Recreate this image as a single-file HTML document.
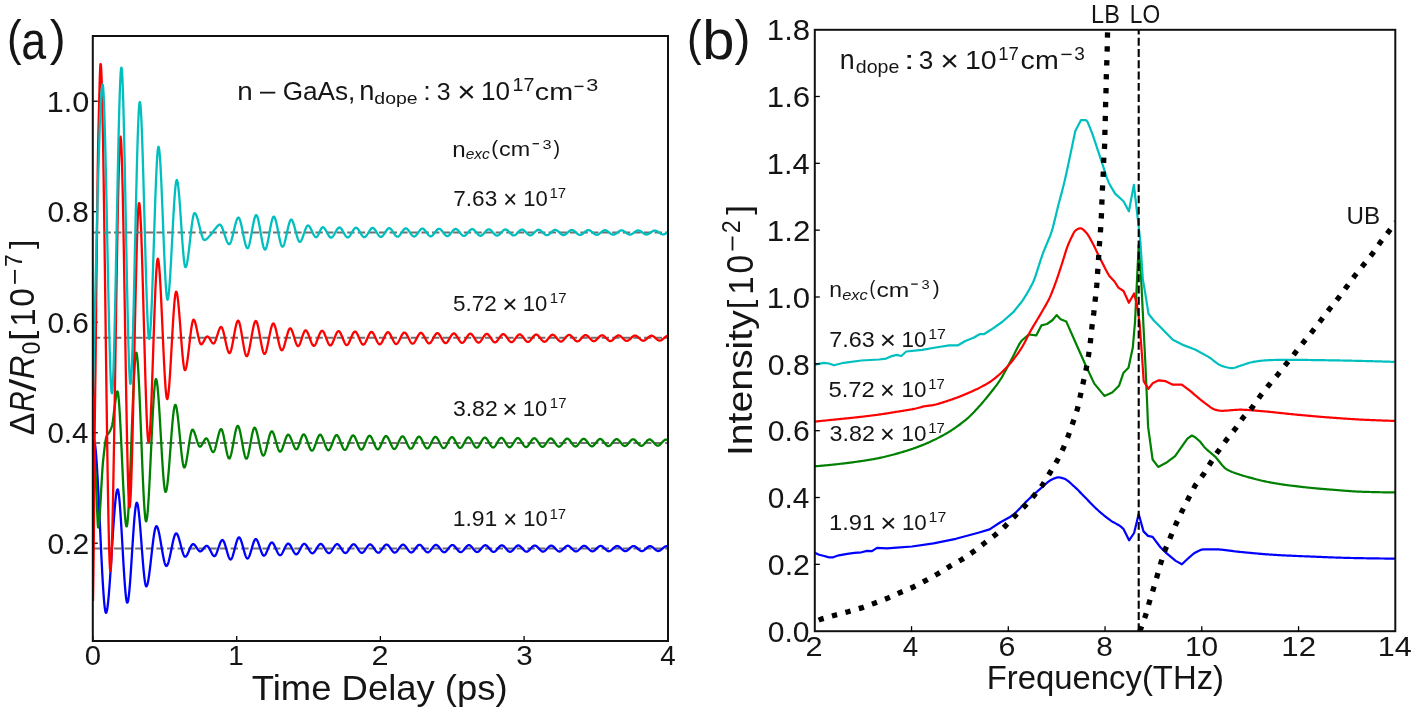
<!DOCTYPE html>
<html><head><meta charset="utf-8"><style>
html,body{margin:0;padding:0;background:#fff;}
svg{display:block;will-change:transform;}
text{font-family:"Liberation Sans",sans-serif;}
</style></head><body>
<svg width="1416" height="713" viewBox="0 0 1416 713">
<rect width="1416" height="713" fill="#fff"/>
<clipPath id="ca"><rect x="92.8" y="36.0" width="575.2" height="605.0"/></clipPath>
<line x1="92.8" y1="101.2" x2="97.8" y2="101.2" stroke="#000" stroke-width="1.3"/>
<text x="46.68" y="111.91" font-size="28.95" textLength="42.52" lengthAdjust="spacingAndGlyphs" fill="#151515">1.0</text>
<line x1="92.8" y1="211.7" x2="97.8" y2="211.7" stroke="#000" stroke-width="1.3"/>
<text x="47.44" y="222.41" font-size="28.95" textLength="41.45" lengthAdjust="spacingAndGlyphs" fill="#151515">0.8</text>
<line x1="92.8" y1="322.2" x2="97.8" y2="322.2" stroke="#000" stroke-width="1.3"/>
<text x="47.44" y="332.91" font-size="28.95" textLength="41.48" lengthAdjust="spacingAndGlyphs" fill="#151515">0.6</text>
<line x1="92.8" y1="432.7" x2="97.8" y2="432.7" stroke="#000" stroke-width="1.3"/>
<text x="47.45" y="443.41" font-size="28.95" textLength="41.01" lengthAdjust="spacingAndGlyphs" fill="#151515">0.4</text>
<line x1="92.8" y1="543.2" x2="97.8" y2="543.2" stroke="#000" stroke-width="1.3"/>
<text x="47.43" y="553.91" font-size="28.95" textLength="41.67" lengthAdjust="spacingAndGlyphs" fill="#151515">0.2</text>
<line x1="92.9" y1="641.0" x2="92.9" y2="636.0" stroke="#000" stroke-width="1.3"/>
<text x="84.86" y="664.92" font-size="27.97" textLength="16.29" lengthAdjust="spacingAndGlyphs" fill="#151515">0</text>
<line x1="236.7" y1="641.0" x2="236.7" y2="636.0" stroke="#000" stroke-width="1.3"/>
<text x="228.28" y="664.92" font-size="27.97" textLength="15.48" lengthAdjust="spacingAndGlyphs" fill="#151515">1</text>
<line x1="380.4" y1="641.0" x2="380.4" y2="636.0" stroke="#000" stroke-width="1.3"/>
<text x="371.46" y="664.92" font-size="27.97" textLength="17.07" lengthAdjust="spacingAndGlyphs" fill="#151515">2</text>
<line x1="524.1" y1="641.0" x2="524.1" y2="636.0" stroke="#000" stroke-width="1.3"/>
<text x="516.28" y="664.92" font-size="27.97" textLength="16.43" lengthAdjust="spacingAndGlyphs" fill="#151515">3</text>
<line x1="667.9" y1="641.0" x2="667.9" y2="636.0" stroke="#000" stroke-width="1.3"/>
<text x="660.36" y="664.92" font-size="27.97" textLength="15.45" lengthAdjust="spacingAndGlyphs" fill="#151515">4</text>
<line x1="92.8" y1="548.4" x2="668.0" y2="548.4" stroke="#707070" stroke-width="2" stroke-dasharray="7.4 3.2" clip-path="url(#ca)"/>
<path d="M93.00,441.50 L93.25,441.21 L93.50,441.06 L93.75,441.01 L94.00,441.00 L94.25,441.22 L94.50,441.87 L94.75,442.93 L95.00,444.38 L95.25,446.20 L95.50,448.38 L95.75,450.90 L96.00,453.73 L96.25,456.85 L96.50,460.26 L96.75,463.93 L97.00,467.84 L97.25,471.98 L97.50,476.32 L97.75,480.85 L98.00,485.54 L98.25,490.38 L98.50,495.36 L98.75,500.44 L99.00,505.62 L99.25,510.88 L99.50,516.19 L99.75,521.53 L100.00,526.90 L100.25,532.27 L100.50,537.61 L100.75,542.92 L101.00,548.18 L101.25,553.36 L101.50,558.44 L101.75,563.42 L102.00,568.26 L102.25,572.95 L102.50,577.48 L102.75,581.82 L103.00,585.96 L103.25,589.87 L103.50,593.54 L103.75,596.95 L104.00,600.07 L104.25,602.90 L104.50,605.42 L104.75,607.60 L105.00,609.42 L105.25,610.87 L105.50,611.93 L105.75,612.58 L106.00,612.80 L106.25,612.63 L106.50,612.13 L106.75,611.32 L107.00,610.21 L107.25,608.81 L107.50,607.14 L107.75,605.22 L108.00,603.06 L108.25,600.67 L108.50,598.08 L108.75,595.28 L109.00,592.31 L109.25,589.17 L109.50,585.88 L109.75,582.45 L110.00,578.90 L110.25,575.24 L110.50,571.50 L110.75,567.67 L111.00,563.78 L111.25,559.85 L111.50,555.88 L111.75,551.90 L112.00,547.91 L112.25,543.93 L112.50,539.98 L112.75,536.08 L113.00,532.22 L113.25,528.44 L113.50,524.75 L113.75,521.16 L114.00,517.68 L114.25,514.33 L114.50,511.13 L114.75,508.09 L115.00,505.22 L115.25,502.54 L115.50,500.07 L115.75,497.81 L116.00,495.80 L116.25,494.03 L116.50,492.52 L116.75,491.29 L117.00,490.36 L117.25,489.73 L117.50,489.43 L117.75,489.48 L118.00,489.96 L118.25,490.86 L118.50,492.15 L118.75,493.80 L119.00,495.80 L119.25,498.12 L119.50,500.74 L119.75,503.63 L120.00,506.78 L120.25,510.15 L120.50,513.73 L120.75,517.48 L121.00,521.40 L121.25,525.45 L121.50,529.62 L121.75,533.87 L122.00,538.19 L122.25,542.55 L122.50,546.93 L122.75,551.30 L123.00,555.65 L123.25,559.94 L123.50,564.16 L123.75,568.28 L124.00,572.28 L124.25,576.14 L124.50,579.83 L124.75,583.33 L125.00,586.61 L125.25,589.66 L125.50,592.44 L125.75,594.95 L126.00,597.14 L126.25,599.00 L126.50,600.52 L126.75,601.65 L127.00,602.38 L127.25,602.69 L127.50,602.57 L127.75,602.05 L128.00,601.15 L128.25,599.90 L128.50,598.32 L128.75,596.42 L129.00,594.24 L129.25,591.79 L129.50,589.10 L129.75,586.18 L130.00,583.06 L130.25,579.76 L130.50,576.31 L130.75,572.71 L131.00,569.01 L131.25,565.21 L131.50,561.35 L131.75,557.43 L132.00,553.49 L132.25,549.54 L132.50,545.62 L132.75,541.73 L133.00,537.90 L133.25,534.16 L133.50,530.52 L133.75,527.00 L134.00,523.64 L134.25,520.45 L134.50,517.45 L134.75,514.66 L135.00,512.11 L135.25,509.82 L135.50,507.81 L135.75,506.09 L136.00,504.71 L136.25,503.67 L136.50,502.99 L136.75,502.71 L137.00,502.81 L137.25,503.25 L137.50,504.00 L137.75,505.04 L138.00,506.37 L138.25,507.95 L138.50,509.78 L138.75,511.83 L139.00,514.09 L139.25,516.53 L139.50,519.14 L139.75,521.90 L140.00,524.79 L140.25,527.80 L140.50,530.90 L140.75,534.08 L141.00,537.31 L141.25,540.59 L141.50,543.89 L141.75,547.19 L142.00,550.48 L142.25,553.73 L142.50,556.94 L142.75,560.07 L143.00,563.12 L143.25,566.06 L143.50,568.87 L143.75,571.55 L144.00,574.06 L144.25,576.39 L144.50,578.52 L144.75,580.44 L145.00,582.13 L145.25,583.56 L145.50,584.72 L145.75,585.59 L146.00,586.15 L146.25,586.39 L146.50,586.33 L146.75,586.05 L147.00,585.57 L147.25,584.90 L147.50,584.05 L147.75,583.03 L148.00,581.86 L148.25,580.53 L148.50,579.08 L148.75,577.49 L149.00,575.79 L149.25,573.99 L149.50,572.10 L149.75,570.13 L150.00,568.08 L150.25,565.98 L150.50,563.83 L150.75,561.64 L151.00,559.42 L151.25,557.19 L151.50,554.96 L151.75,552.73 L152.00,550.52 L152.25,548.34 L152.50,546.20 L152.75,544.10 L153.00,542.07 L153.25,540.11 L153.50,538.24 L153.75,536.46 L154.00,534.78 L154.25,533.22 L154.50,531.79 L154.75,530.50 L155.00,529.35 L155.25,528.36 L155.50,527.55 L155.75,526.92 L156.00,526.48 L156.25,526.24 L156.50,526.21 L156.75,526.34 L157.00,526.61 L157.25,527.01 L157.50,527.54 L157.75,528.18 L158.00,528.93 L158.25,529.78 L158.50,530.73 L158.75,531.76 L159.00,532.87 L159.25,534.06 L159.50,535.30 L159.75,536.61 L160.00,537.96 L160.25,539.36 L160.50,540.79 L160.75,542.24 L161.00,543.72 L161.25,545.20 L161.50,546.70 L161.75,548.19 L162.00,549.66 L162.25,551.13 L162.50,552.56 L162.75,553.96 L163.00,555.33 L163.25,556.64 L163.50,557.90 L163.75,559.10 L164.00,560.22 L164.25,561.27 L164.50,562.24 L164.75,563.11 L165.00,563.88 L165.25,564.54 L165.50,565.09 L165.75,565.52 L166.00,565.81 L166.25,565.97 L166.50,565.99 L166.75,565.88 L167.00,565.65 L167.25,565.31 L167.50,564.86 L167.75,564.31 L168.00,563.68 L168.25,562.95 L168.50,562.15 L168.75,561.28 L169.00,560.33 L169.25,559.33 L169.50,558.28 L169.75,557.18 L170.00,556.03 L170.25,554.86 L170.50,553.66 L170.75,552.43 L171.00,551.20 L171.25,549.95 L171.50,548.70 L171.75,547.46 L172.00,546.23 L172.25,545.02 L172.50,543.83 L172.75,542.68 L173.00,541.56 L173.25,540.48 L173.50,539.46 L173.75,538.49 L174.00,537.59 L174.25,536.76 L174.50,536.00 L174.75,535.33 L175.00,534.75 L175.25,534.26 L175.50,533.88 L175.75,533.60 L176.00,533.44 L176.25,533.40 L176.50,533.48 L176.75,533.65 L177.00,533.92 L177.25,534.28 L177.50,534.72 L177.75,535.24 L178.00,535.82 L178.25,536.48 L178.50,537.19 L178.75,537.95 L179.00,538.76 L179.25,539.61 L179.50,540.50 L179.75,541.42 L180.00,542.35 L180.25,543.31 L180.50,544.27 L180.75,545.24 L181.00,546.21 L181.25,547.18 L181.50,548.12 L181.75,549.05 L182.00,549.96 L182.25,550.83 L182.50,551.67 L182.75,552.46 L183.00,553.20 L183.25,553.89 L183.50,554.52 L183.75,555.08 L184.00,555.57 L184.25,555.98 L184.50,556.30 L184.75,556.53 L185.00,556.67 L185.25,556.70 L185.50,556.65 L185.75,556.53 L186.00,556.34 L186.25,556.09 L186.50,555.79 L186.75,555.44 L187.00,555.04 L187.25,554.59 L187.50,554.12 L187.75,553.61 L188.00,553.07 L188.25,552.52 L188.50,551.94 L188.75,551.35 L189.00,550.76 L189.25,550.16 L189.50,549.56 L189.75,548.98 L190.00,548.40 L190.25,547.84 L190.50,547.30 L190.75,546.78 L191.00,546.30 L191.25,545.85 L191.50,545.44 L191.75,545.08 L192.00,544.76 L192.25,544.51 L192.50,544.31 L192.75,544.17 L193.00,544.11 L193.25,544.11 L193.50,544.17 L193.75,544.27 L194.00,544.41 L194.25,544.60 L194.50,544.82 L194.75,545.07 L195.00,545.36 L195.25,545.66 L195.50,545.99 L195.75,546.34 L196.00,546.70 L196.25,547.07 L196.50,547.45 L196.75,547.83 L197.00,548.21 L197.25,548.58 L197.50,548.95 L197.75,549.30 L198.00,549.64 L198.25,549.96 L198.50,550.26 L198.75,550.53 L199.00,550.77 L199.25,550.98 L199.50,551.15 L199.75,551.28 L200.00,551.36 L200.25,551.40 L200.50,551.38 L200.75,551.32 L201.00,551.21 L201.25,551.07 L201.50,550.88 L201.75,550.67 L202.00,550.42 L202.25,550.16 L202.50,549.87 L202.75,549.57 L203.00,549.25 L203.25,548.93 L203.50,548.60 L203.75,548.27 L204.00,547.95 L204.25,547.63 L204.50,547.33 L204.75,547.04 L205.00,546.78 L205.25,546.53 L205.50,546.32 L205.75,546.13 L206.00,545.99 L206.25,545.88 L206.50,545.82 L206.75,545.80 L207.00,545.85 L207.25,545.95 L207.50,546.11 L207.75,546.32 L208.00,546.58 L208.25,546.88 L208.50,547.23 L208.75,547.60 L209.00,548.01 L209.25,548.44 L209.50,548.90 L209.75,549.37 L210.00,549.85 L210.25,550.35 L210.50,550.85 L210.75,551.35 L211.00,551.85 L211.25,552.34 L211.50,552.82 L211.75,553.28 L212.00,553.72 L212.25,554.14 L212.50,554.53 L212.75,554.88 L213.00,555.20 L213.25,555.48 L213.50,555.71 L213.75,555.89 L214.00,556.02 L214.25,556.09 L214.50,556.09 L214.75,556.01 L215.00,555.84 L215.25,555.59 L215.50,555.27 L215.75,554.88 L216.00,554.43 L216.25,553.92 L216.50,553.35 L216.75,552.75 L217.00,552.10 L217.25,551.43 L217.50,550.72 L217.75,549.99 L218.00,549.25 L218.25,548.50 L218.50,547.75 L218.75,547.00 L219.00,546.25 L219.25,545.52 L219.50,544.81 L219.75,544.13 L220.00,543.48 L220.25,542.86 L220.50,542.29 L220.75,541.77 L221.00,541.31 L221.25,540.90 L221.50,540.57 L221.75,540.30 L222.00,540.12 L222.25,540.02 L222.50,540.01 L222.75,540.10 L223.00,540.30 L223.25,540.59 L223.50,540.96 L223.75,541.41 L224.00,541.94 L224.25,542.53 L224.50,543.18 L224.75,543.89 L225.00,544.64 L225.25,545.43 L225.50,546.25 L225.75,547.10 L226.00,547.98 L226.25,548.86 L226.50,549.75 L226.75,550.64 L227.00,551.52 L227.25,552.40 L227.50,553.25 L227.75,554.07 L228.00,554.86 L228.25,555.61 L228.50,556.32 L228.75,556.97 L229.00,557.56 L229.25,558.09 L229.50,558.54 L229.75,558.91 L230.00,559.20 L230.25,559.40 L230.50,559.49 L230.75,559.48 L231.00,559.35 L231.25,559.12 L231.50,558.79 L231.75,558.37 L232.00,557.86 L232.25,557.28 L232.50,556.62 L232.75,555.90 L233.00,555.12 L233.25,554.29 L233.50,553.42 L233.75,552.51 L234.00,551.57 L234.25,550.61 L234.50,549.63 L234.75,548.65 L235.00,547.66 L235.25,546.68 L235.50,545.71 L235.75,544.76 L236.00,543.84 L236.25,542.96 L236.50,542.11 L236.75,541.31 L237.00,540.56 L237.25,539.88 L237.50,539.26 L237.75,538.72 L238.00,538.27 L238.25,537.90 L238.50,537.63 L238.75,537.46 L239.00,537.40 L239.25,537.45 L239.50,537.61 L239.75,537.86 L240.00,538.21 L240.25,538.63 L240.50,539.14 L240.75,539.71 L241.00,540.35 L241.25,541.05 L241.50,541.80 L241.75,542.60 L242.00,543.43 L242.25,544.30 L242.50,545.19 L242.75,546.10 L243.00,547.02 L243.25,547.95 L243.50,548.88 L243.75,549.80 L244.00,550.71 L244.25,551.60 L244.50,552.47 L244.75,553.30 L245.00,554.10 L245.25,554.85 L245.50,555.55 L245.75,556.19 L246.00,556.76 L246.25,557.27 L246.50,557.69 L246.75,558.04 L247.00,558.29 L247.25,558.45 L247.50,558.50 L247.75,558.45 L248.00,558.30 L248.25,558.05 L248.50,557.72 L248.75,557.31 L249.00,556.83 L249.25,556.28 L249.50,555.66 L249.75,555.00 L250.00,554.28 L250.25,553.52 L250.50,552.73 L250.75,551.91 L251.00,551.06 L251.25,550.20 L251.50,549.33 L251.75,548.45 L252.00,547.58 L252.25,546.71 L252.50,545.86 L252.75,545.03 L253.00,544.23 L253.25,543.47 L253.50,542.74 L253.75,542.07 L254.00,541.44 L254.25,540.88 L254.50,540.38 L254.75,539.95 L255.00,539.61 L255.25,539.34 L255.50,539.17 L255.75,539.10 L256.00,539.13 L256.25,539.25 L256.50,539.45 L256.75,539.73 L257.00,540.09 L257.25,540.51 L257.50,540.99 L257.75,541.52 L258.00,542.11 L258.25,542.74 L258.50,543.40 L258.75,544.10 L259.00,544.83 L259.25,545.57 L259.50,546.33 L259.75,547.09 L260.00,547.86 L260.25,548.63 L260.50,549.38 L260.75,550.12 L261.00,550.84 L261.25,551.53 L261.50,552.19 L261.75,552.81 L262.00,553.39 L262.25,553.91 L262.50,554.38 L262.75,554.79 L263.00,555.13 L263.25,555.40 L263.50,555.58 L263.75,555.68 L264.00,555.69 L264.25,555.62 L264.50,555.48 L264.75,555.27 L265.00,555.00 L265.25,554.68 L265.50,554.29 L265.75,553.87 L266.00,553.40 L266.25,552.89 L266.50,552.35 L266.75,551.79 L267.00,551.20 L267.25,550.59 L267.50,549.97 L267.75,549.35 L268.00,548.72 L268.25,548.10 L268.50,547.49 L268.75,546.88 L269.00,546.30 L269.25,545.74 L269.50,545.21 L269.75,544.71 L270.00,544.24 L270.25,543.83 L270.50,543.45 L270.75,543.14 L271.00,542.88 L271.25,542.68 L271.50,542.56 L271.75,542.50 L272.00,542.52 L272.25,542.61 L272.50,542.76 L272.75,542.96 L273.00,543.22 L273.25,543.53 L273.50,543.88 L273.75,544.27 L274.00,544.70 L274.25,545.17 L274.50,545.66 L274.75,546.17 L275.00,546.71 L275.25,547.26 L275.50,547.82 L275.75,548.39 L276.00,548.96 L276.25,549.54 L276.50,550.10 L276.75,550.66 L277.00,551.21 L277.25,551.74 L277.50,552.24 L277.75,552.72 L278.00,553.17 L278.25,553.59 L278.50,553.97 L278.75,554.30 L279.00,554.59 L279.25,554.83 L279.50,555.01 L279.75,555.13 L280.00,555.19 L280.25,555.19 L280.50,555.12 L280.75,554.99 L281.00,554.80 L281.25,554.56 L281.50,554.28 L281.75,553.95 L282.00,553.58 L282.25,553.18 L282.50,552.75 L282.75,552.29 L283.00,551.80 L283.25,551.30 L283.50,550.78 L283.75,550.26 L284.00,549.72 L284.25,549.19 L284.50,548.65 L284.75,548.12 L285.00,547.60 L285.25,547.10 L285.50,546.61 L285.75,546.14 L286.00,545.70 L286.25,545.29 L286.50,544.92 L286.75,544.58 L287.00,544.29 L287.25,544.04 L287.50,543.84 L287.75,543.70 L288.00,543.62 L288.25,543.60 L288.50,543.64 L288.75,543.74 L289.00,543.89 L289.25,544.09 L289.50,544.34 L289.75,544.63 L290.00,544.95 L290.25,545.31 L290.50,545.70 L290.75,546.11 L291.00,546.55 L291.25,547.01 L291.50,547.48 L291.75,547.96 L292.00,548.46 L292.25,548.95 L292.50,549.44 L292.75,549.94 L293.00,550.42 L293.25,550.89 L293.50,551.35 L293.75,551.79 L294.00,552.20 L294.25,552.59 L294.50,552.95 L294.75,553.27 L295.00,553.56 L295.25,553.81 L295.50,554.01 L295.75,554.16 L296.00,554.26 L296.25,554.30 L296.50,554.28 L296.75,554.20 L297.00,554.07 L297.25,553.88 L297.50,553.65 L297.75,553.37 L298.00,553.05 L298.25,552.70 L298.50,552.32 L298.75,551.90 L299.00,551.47 L299.25,551.01 L299.50,550.54 L299.75,550.05 L300.00,549.56 L300.25,549.07 L300.50,548.57 L300.75,548.08 L301.00,547.59 L301.25,547.12 L301.50,546.67 L301.75,546.23 L302.00,545.82 L302.25,545.43 L302.50,545.08 L302.75,544.76 L303.00,544.48 L303.25,544.25 L303.50,544.06 L303.75,543.93 L304.00,543.85 L304.25,543.83 L304.50,543.87 L304.75,543.95 L305.00,544.08 L305.25,544.25 L305.50,544.47 L305.75,544.71 L306.00,544.99 L306.25,545.30 L306.50,545.63 L306.75,545.99 L307.00,546.37 L307.25,546.76 L307.50,547.17 L307.75,547.59 L308.00,548.02 L308.25,548.45 L308.50,548.88 L308.75,549.31 L309.00,549.73 L309.25,550.14 L309.50,550.54 L309.75,550.93 L310.00,551.30 L310.25,551.65 L310.50,551.97 L310.75,552.27 L311.00,552.53 L311.25,552.76 L311.50,552.95 L311.75,553.11 L312.00,553.22 L312.25,553.28 L312.50,553.29 L312.75,553.25 L313.00,553.17 L313.25,553.04 L313.50,552.87 L313.75,552.66 L314.00,552.41 L314.25,552.13 L314.50,551.83 L314.75,551.50 L315.00,551.15 L315.25,550.77 L315.50,550.38 L315.75,549.98 L316.00,549.57 L316.25,549.15 L316.50,548.73 L316.75,548.30 L317.00,547.88 L317.25,547.47 L317.50,547.06 L317.75,546.66 L318.00,546.28 L318.25,545.92 L318.50,545.58 L318.75,545.26 L319.00,544.97 L319.25,544.72 L319.50,544.49 L319.75,544.30 L320.00,544.16 L320.25,544.05 L320.50,543.99 L320.75,543.98 L321.00,544.02 L321.25,544.11 L321.50,544.24 L321.75,544.41 L322.00,544.62 L322.25,544.86 L322.50,545.14 L322.75,545.44 L323.00,545.77 L323.25,546.12 L323.50,546.48 L323.75,546.87 L324.00,547.27 L324.25,547.67 L324.50,548.08 L324.75,548.50 L325.00,548.92 L325.25,549.33 L325.50,549.74 L325.75,550.14 L326.00,550.53 L326.25,550.90 L326.50,551.26 L326.75,551.59 L327.00,551.90 L327.25,552.18 L327.50,552.44 L327.75,552.66 L328.00,552.84 L328.25,552.98 L328.50,553.08 L328.75,553.14 L329.00,553.14 L329.25,553.10 L329.50,553.01 L329.75,552.88 L330.00,552.71 L330.25,552.50 L330.50,552.26 L330.75,551.99 L331.00,551.69 L331.25,551.37 L331.50,551.02 L331.75,550.66 L332.00,550.28 L332.25,549.89 L332.50,549.49 L332.75,549.08 L333.00,548.67 L333.25,548.26 L333.50,547.85 L333.75,547.45 L334.00,547.06 L334.25,546.68 L334.50,546.31 L334.75,545.96 L335.00,545.64 L335.25,545.33 L335.50,545.06 L335.75,544.81 L336.00,544.60 L336.25,544.42 L336.50,544.28 L336.75,544.18 L337.00,544.13 L337.25,544.13 L337.50,544.17 L337.75,544.26 L338.00,544.40 L338.25,544.57 L338.50,544.77 L338.75,545.01 L339.00,545.28 L339.25,545.58 L339.50,545.90 L339.75,546.24 L340.00,546.59 L340.25,546.97 L340.50,547.35 L340.75,547.75 L341.00,548.15 L341.25,548.55 L341.50,548.96 L341.75,549.36 L342.00,549.75 L342.25,550.14 L342.50,550.51 L342.75,550.87 L343.00,551.21 L343.25,551.54 L343.50,551.83 L343.75,552.10 L344.00,552.34 L344.25,552.55 L344.50,552.72 L344.75,552.86 L345.00,552.95 L345.25,553.00 L345.50,553.00 L345.75,552.95 L346.00,552.86 L346.25,552.73 L346.50,552.56 L346.75,552.35 L347.00,552.12 L347.25,551.85 L347.50,551.56 L347.75,551.24 L348.00,550.91 L348.25,550.55 L348.50,550.18 L348.75,549.80 L349.00,549.41 L349.25,549.02 L349.50,548.62 L349.75,548.23 L350.00,547.83 L350.25,547.44 L350.50,547.06 L350.75,546.70 L351.00,546.34 L351.25,546.01 L351.50,545.69 L351.75,545.40 L352.00,545.14 L352.25,544.90 L352.50,544.70 L352.75,544.53 L353.00,544.40 L353.25,544.31 L353.50,544.27 L353.75,544.27 L354.00,544.32 L354.25,544.41 L354.50,544.54 L354.75,544.71 L355.00,544.92 L355.25,545.15 L355.50,545.42 L355.75,545.71 L356.00,546.02 L356.25,546.35 L356.50,546.70 L356.75,547.06 L357.00,547.44 L357.25,547.82 L357.50,548.21 L357.75,548.60 L358.00,548.99 L358.25,549.38 L358.50,549.76 L358.75,550.14 L359.00,550.50 L359.25,550.84 L359.50,551.17 L359.75,551.48 L360.00,551.77 L360.25,552.02 L360.50,552.25 L360.75,552.45 L361.00,552.61 L361.25,552.74 L361.50,552.82 L361.75,552.86 L362.00,552.86 L362.25,552.81 L362.50,552.71 L362.75,552.58 L363.00,552.41 L363.25,552.21 L363.50,551.98 L363.75,551.72 L364.00,551.43 L364.25,551.12 L364.50,550.79 L364.75,550.45 L365.00,550.09 L365.25,549.72 L365.50,549.34 L365.75,548.96 L366.00,548.58 L366.25,548.19 L366.50,547.81 L366.75,547.43 L367.00,547.07 L367.25,546.71 L367.50,546.37 L367.75,546.05 L368.00,545.75 L368.25,545.47 L368.50,545.22 L368.75,544.99 L369.00,544.80 L369.25,544.64 L369.50,544.52 L369.75,544.44 L370.00,544.40 L370.25,544.41 L370.50,544.46 L370.75,544.56 L371.00,544.69 L371.25,544.86 L371.50,545.06 L371.75,545.29 L372.00,545.55 L372.25,545.83 L372.50,546.14 L372.75,546.46 L373.00,546.80 L373.25,547.15 L373.50,547.52 L373.75,547.89 L374.00,548.27 L374.25,548.65 L374.50,549.03 L374.75,549.40 L375.00,549.77 L375.25,550.13 L375.50,550.48 L375.75,550.81 L376.00,551.13 L376.25,551.42 L376.50,551.70 L376.75,551.95 L377.00,552.16 L377.25,552.35 L377.50,552.51 L377.75,552.62 L378.00,552.70 L378.25,552.73 L378.50,552.72 L378.75,552.67 L379.00,552.57 L379.25,552.44 L379.50,552.27 L379.75,552.07 L380.00,551.84 L380.25,551.59 L380.50,551.31 L380.75,551.01 L381.00,550.69 L381.25,550.35 L381.50,550.00 L381.75,549.64 L382.00,549.28 L382.25,548.90 L382.50,548.53 L382.75,548.16 L383.00,547.79 L383.25,547.43 L383.50,547.07 L383.75,546.73 L384.00,546.40 L384.25,546.09 L384.50,545.80 L384.75,545.54 L385.00,545.29 L385.25,545.08 L385.50,544.90 L385.75,544.75 L386.00,544.64 L386.25,544.56 L386.50,544.53 L386.75,544.55 L387.00,544.60 L387.25,544.70 L387.50,544.83 L387.75,545.00 L388.00,545.19 L388.25,545.42 L388.50,545.67 L388.75,545.95 L389.00,546.25 L389.25,546.57 L389.50,546.90 L389.75,547.24 L390.00,547.59 L390.25,547.96 L390.50,548.32 L390.75,548.69 L391.00,549.06 L391.25,549.42 L391.50,549.78 L391.75,550.12 L392.00,550.46 L392.25,550.78 L392.50,551.09 L392.75,551.37 L393.00,551.63 L393.25,551.87 L393.50,552.08 L393.75,552.25 L394.00,552.40 L394.25,552.51 L394.50,552.58 L394.75,552.60 L395.00,552.59 L395.25,552.53 L395.50,552.44 L395.75,552.30 L396.00,552.14 L396.25,551.94 L396.50,551.71 L396.75,551.46 L397.00,551.19 L397.25,550.90 L397.50,550.58 L397.75,550.26 L398.00,549.92 L398.25,549.57 L398.50,549.21 L398.75,548.85 L399.00,548.49 L399.25,548.13 L399.50,547.77 L399.75,547.42 L400.00,547.08 L400.25,546.75 L400.50,546.44 L400.75,546.14 L401.00,545.86 L401.25,545.60 L401.50,545.37 L401.75,545.17 L402.00,544.99 L402.25,544.85 L402.50,544.75 L402.75,544.68 L403.00,544.66 L403.25,544.68 L403.50,544.73 L403.75,544.83 L404.00,544.96 L404.25,545.13 L404.50,545.33 L404.75,545.55 L405.00,545.80 L405.25,546.07 L405.50,546.36 L405.75,546.67 L406.00,546.99 L406.25,547.32 L406.50,547.67 L406.75,548.02 L407.00,548.37 L407.25,548.73 L407.50,549.08 L407.75,549.44 L408.00,549.78 L408.25,550.12 L408.50,550.44 L408.75,550.75 L409.00,551.04 L409.25,551.31 L409.50,551.57 L409.75,551.79 L410.00,551.99 L410.25,552.16 L410.50,552.29 L410.75,552.40 L411.00,552.46 L411.25,552.48 L411.50,552.46 L411.75,552.40 L412.00,552.30 L412.25,552.17 L412.50,552.01 L412.75,551.81 L413.00,551.59 L413.25,551.34 L413.50,551.08 L413.75,550.79 L414.00,550.48 L414.25,550.17 L414.50,549.84 L414.75,549.50 L415.00,549.15 L415.25,548.80 L415.50,548.45 L415.75,548.10 L416.00,547.76 L416.25,547.42 L416.50,547.09 L416.75,546.77 L417.00,546.47 L417.25,546.18 L417.50,545.91 L417.75,545.67 L418.00,545.45 L418.25,545.25 L418.50,545.09 L418.75,544.96 L419.00,544.86 L419.25,544.80 L419.50,544.78 L419.75,544.80 L420.00,544.86 L420.25,544.96 L420.50,545.09 L420.75,545.26 L421.00,545.45 L421.25,545.67 L421.50,545.91 L421.75,546.18 L422.00,546.46 L422.25,546.76 L422.50,547.08 L422.75,547.40 L423.00,547.74 L423.25,548.08 L423.50,548.42 L423.75,548.77 L424.00,549.11 L424.25,549.45 L424.50,549.78 L424.75,550.11 L425.00,550.42 L425.25,550.72 L425.50,551.00 L425.75,551.26 L426.00,551.50 L426.25,551.72 L426.50,551.91 L426.75,552.07 L427.00,552.19 L427.25,552.29 L427.50,552.34 L427.75,552.36 L428.00,552.33 L428.25,552.27 L428.50,552.17 L428.75,552.04 L429.00,551.88 L429.25,551.69 L429.50,551.47 L429.75,551.23 L430.00,550.97 L430.25,550.69 L430.50,550.39 L430.75,550.08 L431.00,549.76 L431.25,549.43 L431.50,549.09 L431.75,548.76 L432.00,548.42 L432.25,548.08 L432.50,547.74 L432.75,547.42 L433.00,547.10 L433.25,546.79 L433.50,546.50 L433.75,546.22 L434.00,545.97 L434.25,545.73 L434.50,545.52 L434.75,545.34 L435.00,545.18 L435.25,545.06 L435.50,544.97 L435.75,544.91 L436.00,544.90 L436.25,544.93 L436.50,544.99 L436.75,545.09 L437.00,545.22 L437.25,545.38 L437.50,545.57 L437.75,545.79 L438.00,546.03 L438.25,546.29 L438.50,546.56 L438.75,546.86 L439.00,547.16 L439.25,547.48 L439.50,547.80 L439.75,548.13 L440.00,548.47 L440.25,548.80 L440.50,549.13 L440.75,549.46 L441.00,549.78 L441.25,550.10 L441.50,550.40 L441.75,550.68 L442.00,550.96 L442.25,551.21 L442.50,551.44 L442.75,551.64 L443.00,551.82 L443.25,551.97 L443.50,552.09 L443.75,552.18 L444.00,552.23 L444.25,552.24 L444.50,552.21 L444.75,552.15 L445.00,552.05 L445.25,551.92 L445.50,551.76 L445.75,551.57 L446.00,551.35 L446.25,551.12 L446.50,550.86 L446.75,550.59 L447.00,550.30 L447.25,550.00 L447.50,549.68 L447.75,549.36 L448.00,549.04 L448.25,548.71 L448.50,548.38 L448.75,548.05 L449.00,547.73 L449.25,547.42 L449.50,547.11 L449.75,546.81 L450.00,546.53 L450.25,546.27 L450.50,546.02 L450.75,545.79 L451.00,545.59 L451.25,545.42 L451.50,545.27 L451.75,545.15 L452.00,545.07 L452.25,545.03 L452.50,545.02 L452.75,545.05 L453.00,545.11 L453.25,545.21 L453.50,545.34 L453.75,545.50 L454.00,545.69 L454.25,545.90 L454.50,546.14 L454.75,546.39 L455.00,546.66 L455.25,546.95 L455.50,547.24 L455.75,547.55 L456.00,547.87 L456.25,548.19 L456.50,548.51 L456.75,548.83 L457.00,549.16 L457.25,549.47 L457.50,549.78 L457.75,550.09 L458.00,550.38 L458.25,550.65 L458.50,550.91 L458.75,551.15 L459.00,551.37 L459.25,551.57 L459.50,551.74 L459.75,551.88 L460.00,552.00 L460.25,552.08 L460.50,552.12 L460.75,552.13 L461.00,552.09 L461.25,552.03 L461.50,551.93 L461.75,551.80 L462.00,551.64 L462.25,551.45 L462.50,551.24 L462.75,551.01 L463.00,550.76 L463.25,550.49 L463.50,550.21 L463.75,549.92 L464.00,549.61 L464.25,549.30 L464.50,548.99 L464.75,548.67 L465.00,548.35 L465.25,548.03 L465.50,547.72 L465.75,547.42 L466.00,547.12 L466.25,546.84 L466.50,546.56 L466.75,546.31 L467.00,546.07 L467.25,545.86 L467.50,545.67 L467.75,545.50 L468.00,545.36 L468.25,545.25 L468.50,545.17 L468.75,545.13 L469.00,545.13 L469.25,545.16 L469.50,545.23 L469.75,545.33 L470.00,545.46 L470.25,545.62 L470.50,545.81 L470.75,546.01 L471.00,546.24 L471.25,546.49 L471.50,546.75 L471.75,547.03 L472.00,547.32 L472.25,547.62 L472.50,547.93 L472.75,548.24 L473.00,548.55 L473.25,548.86 L473.50,549.18 L473.75,549.48 L474.00,549.78 L474.25,550.07 L474.50,550.35 L474.75,550.62 L475.00,550.87 L475.25,551.10 L475.50,551.31 L475.75,551.50 L476.00,551.66 L476.25,551.80 L476.50,551.90 L476.75,551.97 L477.00,552.01 L477.25,552.01 L477.50,551.98 L477.75,551.91 L478.00,551.81 L478.25,551.68 L478.50,551.52 L478.75,551.34 L479.00,551.13 L479.25,550.91 L479.50,550.66 L479.75,550.40 L480.00,550.13 L480.25,549.84 L480.50,549.55 L480.75,549.24 L481.00,548.94 L481.25,548.63 L481.50,548.32 L481.75,548.02 L482.00,547.71 L482.25,547.42 L482.50,547.13 L482.75,546.86 L483.00,546.60 L483.25,546.35 L483.50,546.13 L483.75,545.92 L484.00,545.74 L484.25,545.58 L484.50,545.45 L484.75,545.34 L485.00,545.28 L485.25,545.24 L485.50,545.24 L485.75,545.28 L486.00,545.35 L486.25,545.45 L486.50,545.58 L486.75,545.73 L487.00,545.92 L487.25,546.12 L487.50,546.34 L487.75,546.59 L488.00,546.84 L488.25,547.11 L488.50,547.40 L488.75,547.69 L489.00,547.98 L489.25,548.29 L489.50,548.59 L489.75,548.89 L490.00,549.19 L490.25,549.49 L490.50,549.78 L490.75,550.06 L491.00,550.33 L491.25,550.59 L491.50,550.83 L491.75,551.05 L492.00,551.25 L492.25,551.43 L492.50,551.58 L492.75,551.71 L493.00,551.81 L493.25,551.88 L493.50,551.91 L493.75,551.91 L494.00,551.87 L494.25,551.80 L494.50,551.70 L494.75,551.57 L495.00,551.41 L495.25,551.23 L495.50,551.03 L495.75,550.81 L496.00,550.57 L496.25,550.31 L496.50,550.05 L496.75,549.77 L497.00,549.48 L497.25,549.19 L497.50,548.89 L497.75,548.59 L498.00,548.29 L498.25,548.00 L498.50,547.71 L498.75,547.42 L499.00,547.15 L499.25,546.88 L499.50,546.63 L499.75,546.40 L500.00,546.18 L500.25,545.98 L500.50,545.81 L500.75,545.66 L501.00,545.53 L501.25,545.44 L501.50,545.37 L501.75,545.34 L502.00,545.35 L502.25,545.39 L502.50,545.46 L502.75,545.56 L503.00,545.69 L503.25,545.84 L503.50,546.02 L503.75,546.22 L504.00,546.44 L504.25,546.68 L504.50,546.93 L504.75,547.19 L505.00,547.47 L505.25,547.75 L505.50,548.04 L505.75,548.33 L506.00,548.62 L506.25,548.92 L506.50,549.21 L506.75,549.50 L507.00,549.78 L507.25,550.05 L507.50,550.31 L507.75,550.55 L508.00,550.78 L508.25,551.00 L508.50,551.19 L508.75,551.36 L509.00,551.51 L509.25,551.63 L509.50,551.72 L509.75,551.78 L510.00,551.81 L510.25,551.80 L510.50,551.76 L510.75,551.69 L511.00,551.59 L511.25,551.46 L511.50,551.30 L511.75,551.13 L512.00,550.93 L512.25,550.71 L512.50,550.48 L512.75,550.23 L513.00,549.97 L513.25,549.70 L513.50,549.42 L513.75,549.14 L514.00,548.85 L514.25,548.56 L514.50,548.27 L514.75,547.98 L515.00,547.70 L515.25,547.43 L515.50,547.16 L515.75,546.91 L516.00,546.66 L516.25,546.44 L516.50,546.23 L516.75,546.04 L517.00,545.87 L517.25,545.73 L517.50,545.61 L517.75,545.53 L518.00,545.47 L518.25,545.44 L518.50,545.45 L518.75,545.49 L519.00,545.57 L519.25,545.67 L519.50,545.80 L519.75,545.95 L520.00,546.13 L520.25,546.32 L520.50,546.54 L520.75,546.77 L521.00,547.01 L521.25,547.27 L521.50,547.53 L521.75,547.81 L522.00,548.09 L522.25,548.37 L522.50,548.66 L522.75,548.94 L523.00,549.22 L523.25,549.50 L523.50,549.77 L523.75,550.03 L524.00,550.28 L524.25,550.52 L524.50,550.74 L524.75,550.95 L525.00,551.13 L525.25,551.29 L525.50,551.43 L525.75,551.54 L526.00,551.63 L526.25,551.69 L526.50,551.71 L526.75,551.70 L527.00,551.65 L527.25,551.58 L527.50,551.48 L527.75,551.35 L528.00,551.20 L528.25,551.02 L528.50,550.83 L528.75,550.62 L529.00,550.39 L529.25,550.15 L529.50,549.90 L529.75,549.63 L530.00,549.36 L530.25,549.09 L530.50,548.81 L530.75,548.53 L531.00,548.25 L531.25,547.97 L531.50,547.70 L531.75,547.43 L532.00,547.17 L532.25,546.93 L532.50,546.70 L532.75,546.48 L533.00,546.28 L533.25,546.10 L533.50,545.94 L533.75,545.81 L534.00,545.70 L534.25,545.61 L534.50,545.56 L534.75,545.54 L535.00,545.55 L535.25,545.60 L535.50,545.67 L535.75,545.77 L536.00,545.90 L536.25,546.05 L536.50,546.22 L536.75,546.42 L537.00,546.63 L537.25,546.85 L537.50,547.09 L537.75,547.34 L538.00,547.60 L538.25,547.87 L538.50,548.14 L538.75,548.41 L539.00,548.69 L539.25,548.96 L539.50,549.24 L539.75,549.51 L540.00,549.77 L540.25,550.02 L540.50,550.26 L540.75,550.49 L541.00,550.70 L541.25,550.89 L541.50,551.07 L541.75,551.23 L542.00,551.36 L542.25,551.46 L542.50,551.54 L542.75,551.59 L543.00,551.61 L543.25,551.60 L543.50,551.55 L543.75,551.48 L544.00,551.38 L544.25,551.25 L544.50,551.10 L544.75,550.93 L545.00,550.74 L545.25,550.53 L545.50,550.31 L545.75,550.07 L546.00,549.83 L546.25,549.57 L546.50,549.31 L546.75,549.04 L547.00,548.77 L547.25,548.50 L547.50,548.22 L547.75,547.96 L548.00,547.69 L548.25,547.44 L548.50,547.19 L548.75,546.95 L549.00,546.73 L549.25,546.52 L549.50,546.33 L549.75,546.16 L550.00,546.01 L550.25,545.88 L550.50,545.78 L550.75,545.70 L551.00,545.65 L551.25,545.64 L551.50,545.65 L551.75,545.70 L552.00,545.77 L552.25,545.87 L552.50,546.00 L552.75,546.15 L553.00,546.32 L553.25,546.51 L553.50,546.71 L553.75,546.93 L554.00,547.17 L554.25,547.41 L554.50,547.66 L554.75,547.92 L555.00,548.18 L555.25,548.45 L555.50,548.72 L555.75,548.99 L556.00,549.25 L556.25,549.51 L556.50,549.76 L556.75,550.00 L557.00,550.23 L557.25,550.45 L557.50,550.66 L557.75,550.84 L558.00,551.01 L558.25,551.16 L558.50,551.29 L558.75,551.39 L559.00,551.46 L559.25,551.50 L559.50,551.52 L559.75,551.50 L560.00,551.45 L560.25,551.38 L560.50,551.28 L560.75,551.15 L561.00,551.00 L561.25,550.83 L561.50,550.65 L561.75,550.44 L562.00,550.23 L562.25,550.00 L562.50,549.76 L562.75,549.51 L563.00,549.25 L563.25,548.99 L563.50,548.73 L563.75,548.47 L564.00,548.21 L564.25,547.95 L564.50,547.69 L564.75,547.44 L565.00,547.21 L565.25,546.98 L565.50,546.76 L565.75,546.56 L566.00,546.38 L566.25,546.22 L566.50,546.07 L566.75,545.95 L567.00,545.85 L567.25,545.78 L567.50,545.74 L567.75,545.73 L568.00,545.75 L568.25,545.80 L568.50,545.87 L568.75,545.97 L569.00,546.10 L569.25,546.25 L569.50,546.41 L569.75,546.60 L570.00,546.80 L570.25,547.01 L570.50,547.24 L570.75,547.47 L571.00,547.72 L571.25,547.97 L571.50,548.23 L571.75,548.49 L572.00,548.75 L572.25,549.00 L572.50,549.26 L572.75,549.51 L573.00,549.75 L573.25,549.99 L573.50,550.21 L573.75,550.42 L574.00,550.62 L574.25,550.80 L574.50,550.96 L574.75,551.10 L575.00,551.21 L575.25,551.31 L575.50,551.38 L575.75,551.42 L576.00,551.43 L576.25,551.41 L576.50,551.36 L576.75,551.28 L577.00,551.18 L577.25,551.05 L577.50,550.91 L577.75,550.74 L578.00,550.56 L578.25,550.36 L578.50,550.15 L578.75,549.93 L579.00,549.69 L579.25,549.45 L579.50,549.20 L579.75,548.95 L580.00,548.70 L580.25,548.44 L580.50,548.19 L580.75,547.94 L581.00,547.69 L581.25,547.45 L581.50,547.22 L581.75,547.00 L582.00,546.80 L582.25,546.60 L582.50,546.43 L582.75,546.27 L583.00,546.14 L583.25,546.02 L583.50,545.93 L583.75,545.86 L584.00,545.83 L584.25,545.82 L584.50,545.84 L584.75,545.89 L585.00,545.97 L585.25,546.07 L585.50,546.19 L585.75,546.34 L586.00,546.50 L586.25,546.68 L586.50,546.88 L586.75,547.09 L587.00,547.31 L587.25,547.54 L587.50,547.78 L587.75,548.02 L588.00,548.27 L588.25,548.52 L588.50,548.77 L588.75,549.02 L589.00,549.27 L589.25,549.51 L589.50,549.74 L589.75,549.97 L590.00,550.18 L590.25,550.39 L590.50,550.57 L590.75,550.75 L591.00,550.90 L591.25,551.03 L591.50,551.15 L591.75,551.23 L592.00,551.30 L592.25,551.33 L592.50,551.34 L592.75,551.31 L593.00,551.26 L593.25,551.19 L593.50,551.09 L593.75,550.96 L594.00,550.82 L594.25,550.66 L594.50,550.48 L594.75,550.28 L595.00,550.08 L595.25,549.86 L595.50,549.63 L595.75,549.40 L596.00,549.16 L596.25,548.91 L596.50,548.66 L596.75,548.42 L597.00,548.17 L597.25,547.93 L597.50,547.69 L597.75,547.46 L598.00,547.24 L598.25,547.03 L598.50,546.83 L598.75,546.65 L599.00,546.48 L599.25,546.33 L599.50,546.20 L599.75,546.09 L600.00,546.00 L600.25,545.94 L600.50,545.91 L600.75,545.91 L601.00,545.93 L601.25,545.98 L601.50,546.06 L601.75,546.16 L602.00,546.28 L602.25,546.43 L602.50,546.59 L602.75,546.76 L603.00,546.95 L603.25,547.16 L603.50,547.37 L603.75,547.60 L604.00,547.83 L604.25,548.07 L604.50,548.31 L604.75,548.55 L605.00,548.80 L605.25,549.04 L605.50,549.28 L605.75,549.51 L606.00,549.73 L606.25,549.95 L606.50,550.16 L606.75,550.35 L607.00,550.53 L607.25,550.70 L607.50,550.84 L607.75,550.97 L608.00,551.08 L608.25,551.16 L608.50,551.22 L608.75,551.25 L609.00,551.25 L609.25,551.22 L609.50,551.17 L609.75,551.09 L610.00,550.99 L610.25,550.87 L610.50,550.73 L610.75,550.57 L611.00,550.40 L611.25,550.21 L611.50,550.01 L611.75,549.79 L612.00,549.57 L612.25,549.34 L612.50,549.11 L612.75,548.87 L613.00,548.63 L613.25,548.39 L613.50,548.16 L613.75,547.92 L614.00,547.69 L614.25,547.47 L614.50,547.26 L614.75,547.05 L615.00,546.86 L615.25,546.69 L615.50,546.53 L615.75,546.38 L616.00,546.26 L616.25,546.16 L616.50,546.08 L616.75,546.02 L617.00,545.99 L617.25,545.99 L617.50,546.02 L617.75,546.07 L618.00,546.15 L618.25,546.25 L618.50,546.37 L618.75,546.51 L619.00,546.67 L619.25,546.84 L619.50,547.03 L619.75,547.23 L620.00,547.44 L620.25,547.66 L620.50,547.88 L620.75,548.11 L621.00,548.35 L621.25,548.58 L621.50,548.82 L621.75,549.05 L622.00,549.28 L622.25,549.51 L622.50,549.73 L622.75,549.93 L623.00,550.13 L623.25,550.32 L623.50,550.49 L623.75,550.65 L624.00,550.79 L624.25,550.91 L624.50,551.01 L624.75,551.09 L625.00,551.14 L625.25,551.17 L625.50,551.17 L625.75,551.14 L626.00,551.08 L626.25,551.01 L626.50,550.91 L626.75,550.79 L627.00,550.65 L627.25,550.49 L627.50,550.32 L627.75,550.13 L628.00,549.94 L628.25,549.73 L628.50,549.52 L628.75,549.29 L629.00,549.07 L629.25,548.84 L629.50,548.60 L629.75,548.37 L630.00,548.14 L630.25,547.92 L630.50,547.69 L630.75,547.48 L631.00,547.27 L631.25,547.08 L631.50,546.90 L631.75,546.73 L632.00,546.57 L632.25,546.44 L632.50,546.32 L632.75,546.22 L633.00,546.15 L633.25,546.10 L633.50,546.07 L633.75,546.07 L634.00,546.10 L634.25,546.16 L634.50,546.24 L634.75,546.34 L635.00,546.46 L635.25,546.59 L635.50,546.75 L635.75,546.92 L636.00,547.10 L636.25,547.29 L636.50,547.50 L636.75,547.71 L637.00,547.93 L637.25,548.15 L637.50,548.38 L637.75,548.61 L638.00,548.84 L638.25,549.06 L638.50,549.29 L638.75,549.50 L639.00,549.72 L639.25,549.92 L639.50,550.11 L639.75,550.29 L640.00,550.45 L640.25,550.60 L640.50,550.74 L640.75,550.85 L641.00,550.95 L641.25,551.02 L641.50,551.07 L641.75,551.09 L642.00,551.08 L642.25,551.05 L642.50,551.00 L642.75,550.92 L643.00,550.82 L643.25,550.70 L643.50,550.57 L643.75,550.41 L644.00,550.25 L644.25,550.06 L644.50,549.87 L644.75,549.67 L645.00,549.46 L645.25,549.25 L645.50,549.03 L645.75,548.80 L646.00,548.58 L646.25,548.35 L646.50,548.13 L646.75,547.91 L647.00,547.70 L647.25,547.49 L647.50,547.29 L647.75,547.10 L648.00,546.93 L648.25,546.77 L648.50,546.62 L648.75,546.49 L649.00,546.38 L649.25,546.29 L649.50,546.22 L649.75,546.17 L650.00,546.15 L650.25,546.16 L650.50,546.19 L650.75,546.24 L651.00,546.32 L651.25,546.42 L651.50,546.54 L651.75,546.67 L652.00,546.82 L652.25,546.99 L652.50,547.17 L652.75,547.36 L653.00,547.56 L653.25,547.76 L653.50,547.98 L653.75,548.19 L654.00,548.41 L654.25,548.64 L654.50,548.86 L654.75,549.08 L655.00,549.29 L655.25,549.50 L655.50,549.70 L655.75,549.90 L656.00,550.08 L656.25,550.26 L656.50,550.41 L656.75,550.56 L657.00,550.69 L657.25,550.79 L657.50,550.88 L657.75,550.95 L658.00,550.99 L658.25,551.01 L658.50,551.00 L658.75,550.97 L659.00,550.92 L659.25,550.84 L659.50,550.74 L659.75,550.62 L660.00,550.49 L660.25,550.34 L660.50,550.17 L660.75,550.00 L661.00,549.81 L661.25,549.61 L661.50,549.41 L661.75,549.20 L662.00,548.99 L662.25,548.77 L662.50,548.55 L662.75,548.33 L663.00,548.12 L663.25,547.91 L663.50,547.70 L663.75,547.50 L664.00,547.31 L664.25,547.13 L664.50,546.96 L664.75,546.81 L665.00,546.66 L665.25,546.54 L665.50,546.43 L665.75,546.35 L666.00,546.28 L666.25,546.24 L666.50,546.23 L666.75,546.23 L667.00,546.27 L667.25,546.32 L667.50,546.40 L667.75,546.50 L668.00,546.62 L668.00,546.62" fill="none" stroke="#0000ff" stroke-width="2.3" stroke-linejoin="round" stroke-linecap="butt" clip-path="url(#ca)"/>
<line x1="92.8" y1="443.1" x2="668.0" y2="443.1" stroke="#707070" stroke-width="2" stroke-dasharray="7.4 3.2" clip-path="url(#ca)"/>
<path d="M93.00,440.00 L93.25,441.71 L93.50,443.79 L93.75,446.21 L94.00,448.92 L94.25,451.87 L94.50,455.00 L94.75,458.50 L95.00,462.52 L95.25,466.96 L95.50,471.75 L95.75,476.79 L96.00,482.00 L96.25,487.83 L96.50,494.40 L96.75,501.16 L97.00,507.54 L97.25,513.04 L97.50,518.75 L97.75,524.05 L98.00,527.27 L98.25,527.47 L98.50,526.68 L98.75,525.24 L99.00,523.21 L99.25,520.65 L99.50,517.63 L99.75,514.21 L100.00,510.45 L100.25,506.42 L100.50,502.18 L100.75,497.78 L101.00,493.31 L101.25,488.81 L101.50,484.35 L101.75,479.99 L102.00,475.80 L102.25,471.84 L102.50,468.17 L102.75,464.86 L103.00,461.97 L103.25,459.55 L103.50,457.27 L103.75,455.00 L104.00,452.74 L104.25,450.52 L104.50,448.36 L104.75,446.30 L105.00,444.34 L105.25,442.52 L105.50,440.86 L105.75,439.38 L106.00,438.10 L106.25,437.05 L106.50,436.25 L106.75,435.68 L107.00,435.23 L107.25,434.86 L107.50,434.54 L107.75,434.26 L108.00,433.98 L108.25,433.71 L108.50,433.40 L108.75,433.04 L109.00,432.63 L109.25,432.20 L109.50,431.76 L109.75,431.31 L110.00,430.84 L110.25,430.34 L110.50,429.82 L110.75,429.26 L111.00,428.66 L111.25,428.01 L111.50,427.31 L111.75,426.54 L112.00,425.72 L112.25,424.81 L112.50,423.59 L112.75,422.02 L113.00,420.18 L113.25,418.15 L113.50,416.01 L113.75,413.84 L114.00,411.73 L114.25,409.76 L114.50,408.00 L114.75,406.30 L115.00,404.47 L115.25,402.57 L115.50,400.66 L115.75,398.78 L116.00,397.00 L116.25,395.38 L116.50,393.96 L116.75,392.80 L117.00,391.95 L117.25,391.48 L117.50,391.45 L117.75,391.97 L118.00,393.05 L118.25,394.65 L118.50,396.73 L118.75,399.27 L119.00,402.24 L119.25,405.59 L119.50,409.30 L119.75,413.34 L120.00,417.67 L120.25,422.26 L120.50,427.08 L120.75,432.09 L121.00,437.27 L121.25,442.58 L121.50,447.98 L121.75,453.45 L122.00,458.95 L122.25,464.45 L122.50,469.92 L122.75,475.32 L123.00,480.63 L123.25,485.81 L123.50,490.82 L123.75,495.64 L124.00,500.23 L124.25,504.56 L124.50,508.60 L124.75,512.31 L125.00,515.66 L125.25,518.63 L125.50,521.17 L125.75,523.25 L126.00,524.85 L126.25,525.93 L126.50,526.45 L126.75,526.38 L127.00,525.64 L127.25,524.26 L127.50,522.29 L127.75,519.75 L128.00,516.68 L128.25,513.12 L128.50,509.11 L128.75,504.67 L129.00,499.85 L129.25,494.67 L129.50,489.18 L129.75,483.42 L130.00,477.41 L130.25,471.19 L130.50,464.81 L130.75,458.28 L131.00,451.66 L131.25,444.97 L131.50,438.26 L131.75,431.55 L132.00,424.88 L132.25,418.29 L132.50,411.82 L132.75,405.50 L133.00,399.36 L133.25,393.44 L133.50,387.78 L133.75,382.42 L134.00,377.38 L134.25,372.71 L134.50,368.43 L134.75,364.60 L135.00,361.23 L135.25,358.37 L135.50,356.05 L135.75,354.31 L136.00,353.19 L136.25,352.71 L136.50,352.91 L136.75,353.73 L137.00,355.16 L137.25,357.15 L137.50,359.67 L137.75,362.69 L138.00,366.17 L138.25,370.08 L138.50,374.39 L138.75,379.06 L139.00,384.06 L139.25,389.36 L139.50,394.91 L139.75,400.70 L140.00,406.68 L140.25,412.83 L140.50,419.10 L140.75,425.46 L141.00,431.89 L141.25,438.34 L141.50,444.79 L141.75,451.19 L142.00,457.52 L142.25,463.75 L142.50,469.83 L142.75,475.74 L143.00,481.44 L143.25,486.90 L143.50,492.08 L143.75,496.95 L144.00,501.48 L144.25,505.63 L144.50,509.38 L144.75,512.68 L145.00,515.50 L145.25,517.81 L145.50,519.58 L145.75,520.77 L146.00,521.35 L146.25,521.30 L146.50,520.72 L146.75,519.64 L147.00,518.08 L147.25,516.08 L147.50,513.66 L147.75,510.85 L148.00,507.68 L148.25,504.17 L148.50,500.35 L148.75,496.25 L149.00,491.90 L149.25,487.32 L149.50,482.55 L149.75,477.60 L150.00,472.51 L150.25,467.31 L150.50,462.02 L150.75,456.66 L151.00,451.28 L151.25,445.89 L151.50,440.52 L151.75,435.20 L152.00,429.95 L152.25,424.82 L152.50,419.81 L152.75,414.96 L153.00,410.30 L153.25,405.86 L153.50,401.66 L153.75,397.72 L154.00,394.09 L154.25,390.78 L154.50,387.82 L154.75,385.24 L155.00,383.07 L155.25,381.33 L155.50,380.05 L155.75,379.27 L156.00,379.00 L156.25,379.23 L156.50,379.89 L156.75,380.96 L157.00,382.42 L157.25,384.25 L157.50,386.41 L157.75,388.90 L158.00,391.67 L158.25,394.71 L158.50,398.00 L158.75,401.51 L159.00,405.21 L159.25,409.08 L159.50,413.11 L159.75,417.26 L160.00,421.51 L160.25,425.83 L160.50,430.21 L160.75,434.62 L161.00,439.03 L161.25,443.42 L161.50,447.77 L161.75,452.05 L162.00,456.25 L162.25,460.32 L162.50,464.26 L162.75,468.04 L163.00,471.62 L163.25,475.00 L163.50,478.14 L163.75,481.03 L164.00,483.63 L164.25,485.92 L164.50,487.89 L164.75,489.50 L165.00,490.73 L165.25,491.56 L165.50,491.96 L165.75,491.94 L166.00,491.57 L166.25,490.88 L166.50,489.89 L166.75,488.61 L167.00,487.07 L167.25,485.29 L167.50,483.27 L167.75,481.05 L168.00,478.63 L168.25,476.03 L168.50,473.28 L168.75,470.38 L169.00,467.37 L169.25,464.25 L169.50,461.05 L169.75,457.77 L170.00,454.45 L170.25,451.10 L170.50,447.73 L170.75,444.36 L171.00,441.02 L171.25,437.71 L171.50,434.46 L171.75,431.29 L172.00,428.21 L172.25,425.24 L172.50,422.40 L172.75,419.71 L173.00,417.18 L173.25,414.84 L173.50,412.69 L173.75,410.77 L174.00,409.08 L174.25,407.64 L174.50,406.48 L174.75,405.61 L175.00,405.05 L175.25,404.81 L175.50,404.89 L175.75,405.25 L176.00,405.88 L176.25,406.75 L176.50,407.85 L176.75,409.16 L177.00,410.67 L177.25,412.35 L177.50,414.21 L177.75,416.21 L178.00,418.34 L178.25,420.59 L178.50,422.94 L178.75,425.38 L179.00,427.88 L179.25,430.43 L179.50,433.02 L179.75,435.63 L180.00,438.24 L180.25,440.84 L180.50,443.41 L180.75,445.93 L181.00,448.39 L181.25,450.78 L181.50,453.07 L181.75,455.25 L182.00,457.31 L182.25,459.22 L182.50,460.98 L182.75,462.56 L183.00,463.95 L183.25,465.14 L183.50,466.10 L183.75,466.83 L184.00,467.30 L184.25,467.49 L184.50,467.43 L184.75,467.17 L185.00,466.72 L185.25,466.10 L185.50,465.31 L185.75,464.37 L186.00,463.30 L186.25,462.10 L186.50,460.80 L186.75,459.39 L187.00,457.90 L187.25,456.34 L187.50,454.72 L187.75,453.06 L188.00,451.36 L188.25,449.64 L188.50,447.91 L188.75,446.19 L189.00,444.48 L189.25,442.81 L189.50,441.18 L189.75,439.60 L190.00,438.10 L190.25,436.68 L190.50,435.35 L190.75,434.13 L191.00,433.03 L191.25,432.07 L191.50,431.25 L191.75,430.59 L192.00,430.10 L192.25,429.80 L192.50,429.70 L192.75,429.76 L193.00,429.92 L193.25,430.18 L193.50,430.53 L193.75,430.96 L194.00,431.47 L194.25,432.04 L194.50,432.68 L194.75,433.37 L195.00,434.11 L195.25,434.88 L195.50,435.68 L195.75,436.51 L196.00,437.35 L196.25,438.20 L196.50,439.05 L196.75,439.89 L197.00,440.72 L197.25,441.52 L197.50,442.29 L197.75,443.03 L198.00,443.72 L198.25,444.36 L198.50,444.93 L198.75,445.44 L199.00,445.87 L199.25,446.22 L199.50,446.48 L199.75,446.64 L200.00,446.70 L200.25,446.66 L200.50,446.55 L200.75,446.38 L201.00,446.14 L201.25,445.85 L201.50,445.51 L201.75,445.13 L202.00,444.72 L202.25,444.28 L202.50,443.82 L202.75,443.34 L203.00,442.85 L203.25,442.35 L203.50,441.86 L203.75,441.38 L204.00,440.91 L204.25,440.46 L204.50,440.05 L204.75,439.66 L205.00,439.31 L205.25,439.01 L205.50,438.77 L205.75,438.58 L206.00,438.45 L206.25,438.40 L206.50,438.43 L206.75,438.57 L207.00,438.79 L207.25,439.11 L207.50,439.50 L207.75,439.96 L208.00,440.49 L208.25,441.06 L208.50,441.69 L208.75,442.36 L209.00,443.05 L209.25,443.77 L209.50,444.51 L209.75,445.25 L210.00,445.99 L210.25,446.73 L210.50,447.45 L210.75,448.14 L211.00,448.81 L211.25,449.44 L211.50,450.01 L211.75,450.54 L212.00,451.00 L212.25,451.39 L212.50,451.71 L212.75,451.93 L213.00,452.07 L213.25,452.10 L213.50,452.00 L213.75,451.78 L214.00,451.44 L214.25,450.99 L214.50,450.44 L214.75,449.79 L215.00,449.06 L215.25,448.26 L215.50,447.39 L215.75,446.46 L216.00,445.48 L216.25,444.46 L216.50,443.41 L216.75,442.34 L217.00,441.25 L217.25,440.16 L217.50,439.08 L217.75,438.00 L218.00,436.95 L218.25,435.92 L218.50,434.93 L218.75,433.99 L219.00,433.11 L219.25,432.29 L219.50,431.55 L219.75,430.89 L220.00,430.31 L220.25,429.84 L220.50,429.48 L220.75,429.23 L221.00,429.11 L221.25,429.13 L221.50,429.31 L221.75,429.64 L222.00,430.11 L222.25,430.71 L222.50,431.43 L222.75,432.26 L223.00,433.19 L223.25,434.21 L223.50,435.31 L223.75,436.48 L224.00,437.71 L224.25,438.98 L224.50,440.29 L224.75,441.63 L225.00,442.98 L225.25,444.34 L225.50,445.70 L225.75,447.04 L226.00,448.36 L226.25,449.64 L226.50,450.88 L226.75,452.06 L227.00,453.17 L227.25,454.21 L227.50,455.16 L227.75,456.01 L228.00,456.76 L228.25,457.38 L228.50,457.88 L228.75,458.24 L229.00,458.45 L229.25,458.50 L229.50,458.38 L229.75,458.12 L230.00,457.71 L230.25,457.16 L230.50,456.49 L230.75,455.70 L231.00,454.81 L231.25,453.83 L231.50,452.75 L231.75,451.60 L232.00,450.38 L232.25,449.11 L232.50,447.78 L232.75,446.42 L233.00,445.03 L233.25,443.62 L233.50,442.20 L233.75,440.78 L234.00,439.37 L234.25,437.98 L234.50,436.62 L234.75,435.29 L235.00,434.02 L235.25,432.80 L235.50,431.65 L235.75,430.57 L236.00,429.59 L236.25,428.70 L236.50,427.91 L236.75,427.24 L237.00,426.69 L237.25,426.28 L237.50,426.02 L237.75,425.90 L238.00,425.95 L238.25,426.16 L238.50,426.52 L238.75,427.01 L239.00,427.64 L239.25,428.38 L239.50,429.24 L239.75,430.19 L240.00,431.24 L240.25,432.37 L240.50,433.57 L240.75,434.83 L241.00,436.14 L241.25,437.50 L241.50,438.89 L241.75,440.30 L242.00,441.73 L242.25,443.16 L242.50,444.58 L242.75,445.99 L243.00,447.37 L243.25,448.72 L243.50,450.03 L243.75,451.28 L244.00,452.46 L244.25,453.57 L244.50,454.60 L244.75,455.54 L245.00,456.38 L245.25,457.10 L245.50,457.70 L245.75,458.17 L246.00,458.49 L246.25,458.67 L246.50,458.69 L246.75,458.54 L247.00,458.23 L247.25,457.77 L247.50,457.18 L247.75,456.46 L248.00,455.62 L248.25,454.68 L248.50,453.64 L248.75,452.52 L249.00,451.33 L249.25,450.07 L249.50,448.76 L249.75,447.41 L250.00,446.02 L250.25,444.62 L250.50,443.20 L250.75,441.78 L251.00,440.38 L251.25,438.99 L251.50,437.64 L251.75,436.33 L252.00,435.07 L252.25,433.88 L252.50,432.76 L252.75,431.72 L253.00,430.78 L253.25,429.94 L253.50,429.22 L253.75,428.63 L254.00,428.17 L254.25,427.86 L254.50,427.71 L254.75,427.72 L255.00,427.87 L255.25,428.14 L255.50,428.53 L255.75,429.03 L256.00,429.63 L256.25,430.33 L256.50,431.11 L256.75,431.97 L257.00,432.90 L257.25,433.89 L257.50,434.93 L257.75,436.02 L258.00,437.15 L258.25,438.31 L258.50,439.49 L258.75,440.69 L259.00,441.89 L259.25,443.09 L259.50,444.28 L259.75,445.45 L260.00,446.60 L260.25,447.72 L260.50,448.79 L260.75,449.81 L261.00,450.78 L261.25,451.68 L261.50,452.51 L261.75,453.26 L262.00,453.92 L262.25,454.48 L262.50,454.94 L262.75,455.28 L263.00,455.50 L263.25,455.60 L263.50,455.56 L263.75,455.40 L264.00,455.13 L264.25,454.76 L264.50,454.28 L264.75,453.72 L265.00,453.07 L265.25,452.35 L265.50,451.56 L265.75,450.71 L266.00,449.80 L266.25,448.85 L266.50,447.86 L266.75,446.84 L267.00,445.80 L267.25,444.73 L267.50,443.66 L267.75,442.59 L268.00,441.53 L268.25,440.48 L268.50,439.44 L268.75,438.44 L269.00,437.47 L269.25,436.55 L269.50,435.67 L269.75,434.86 L270.00,434.11 L270.25,433.43 L270.50,432.83 L270.75,432.32 L271.00,431.91 L271.25,431.59 L271.50,431.39 L271.75,431.30 L272.00,431.33 L272.25,431.47 L272.50,431.71 L272.75,432.04 L273.00,432.46 L273.25,432.95 L273.50,433.52 L273.75,434.15 L274.00,434.84 L274.25,435.58 L274.50,436.37 L274.75,437.20 L275.00,438.06 L275.25,438.94 L275.50,439.85 L275.75,440.76 L276.00,441.68 L276.25,442.60 L276.50,443.52 L276.75,444.41 L277.00,445.29 L277.25,446.14 L277.50,446.95 L277.75,447.72 L278.00,448.44 L278.25,449.11 L278.50,449.72 L278.75,450.26 L279.00,450.72 L279.25,451.10 L279.50,451.40 L279.75,451.59 L280.00,451.69 L280.25,451.68 L280.50,451.58 L280.75,451.39 L281.00,451.12 L281.25,450.77 L281.50,450.35 L281.75,449.87 L282.00,449.33 L282.25,448.74 L282.50,448.11 L282.75,447.43 L283.00,446.72 L283.25,445.99 L283.50,445.23 L283.75,444.46 L284.00,443.67 L284.25,442.89 L284.50,442.10 L284.75,441.32 L285.00,440.56 L285.25,439.82 L285.50,439.11 L285.75,438.43 L286.00,437.78 L286.25,437.18 L286.50,436.63 L286.75,436.14 L287.00,435.71 L287.25,435.35 L287.50,435.06 L287.75,434.85 L288.00,434.73 L288.25,434.70 L288.50,434.76 L288.75,434.89 L289.00,435.09 L289.25,435.36 L289.50,435.68 L289.75,436.07 L290.00,436.50 L290.25,436.98 L290.50,437.50 L290.75,438.06 L291.00,438.64 L291.25,439.26 L291.50,439.89 L291.75,440.54 L292.00,441.20 L292.25,441.87 L292.50,442.53 L292.75,443.20 L293.00,443.85 L293.25,444.49 L293.50,445.11 L293.75,445.71 L294.00,446.28 L294.25,446.82 L294.50,447.31 L294.75,447.76 L295.00,448.17 L295.25,448.52 L295.50,448.81 L295.75,449.04 L296.00,449.20 L296.25,449.29 L296.50,449.29 L296.75,449.20 L297.00,449.01 L297.25,448.74 L297.50,448.38 L297.75,447.96 L298.00,447.46 L298.25,446.91 L298.50,446.30 L298.75,445.65 L299.00,444.97 L299.25,444.25 L299.50,443.51 L299.75,442.75 L300.00,441.99 L300.25,441.22 L300.50,440.46 L300.75,439.71 L301.00,438.98 L301.25,438.28 L301.50,437.62 L301.75,436.99 L302.00,436.42 L302.25,435.90 L302.50,435.44 L302.75,435.06 L303.00,434.75 L303.25,434.53 L303.50,434.40 L303.75,434.37 L304.00,434.43 L304.25,434.57 L304.50,434.80 L304.75,435.09 L305.00,435.46 L305.25,435.88 L305.50,436.36 L305.75,436.89 L306.00,437.47 L306.25,438.08 L306.50,438.73 L306.75,439.41 L307.00,440.11 L307.25,440.84 L307.50,441.57 L307.75,442.31 L308.00,443.05 L308.25,443.79 L308.50,444.51 L308.75,445.23 L309.00,445.92 L309.25,446.58 L309.50,447.22 L309.75,447.82 L310.00,448.37 L310.25,448.88 L310.50,449.34 L310.75,449.73 L311.00,450.07 L311.25,450.33 L311.50,450.52 L311.75,450.62 L312.00,450.65 L312.25,450.58 L312.50,450.43 L312.75,450.21 L313.00,449.92 L313.25,449.56 L313.50,449.14 L313.75,448.67 L314.00,448.15 L314.25,447.58 L314.50,446.98 L314.75,446.34 L315.00,445.68 L315.25,444.99 L315.50,444.28 L315.75,443.57 L316.00,442.84 L316.25,442.12 L316.50,441.40 L316.75,440.69 L317.00,439.99 L317.25,439.32 L317.50,438.67 L317.75,438.05 L318.00,437.46 L318.25,436.92 L318.50,436.43 L318.75,435.99 L319.00,435.60 L319.25,435.28 L319.50,435.03 L319.75,434.85 L320.00,434.75 L320.25,434.74 L320.50,434.80 L320.75,434.95 L321.00,435.17 L321.25,435.46 L321.50,435.82 L321.75,436.23 L322.00,436.70 L322.25,437.21 L322.50,437.76 L322.75,438.36 L323.00,438.98 L323.25,439.63 L323.50,440.31 L323.75,441.00 L324.00,441.70 L324.25,442.41 L324.50,443.11 L324.75,443.82 L325.00,444.51 L325.25,445.19 L325.50,445.85 L325.75,446.48 L326.00,447.09 L326.25,447.65 L326.50,448.18 L326.75,448.66 L327.00,449.09 L327.25,449.46 L327.50,449.77 L327.75,450.01 L328.00,450.18 L328.25,450.28 L328.50,450.29 L328.75,450.21 L329.00,450.07 L329.25,449.84 L329.50,449.56 L329.75,449.21 L330.00,448.80 L330.25,448.34 L330.50,447.84 L330.75,447.29 L331.00,446.71 L331.25,446.10 L331.50,445.46 L331.75,444.80 L332.00,444.13 L332.25,443.44 L332.50,442.75 L332.75,442.06 L333.00,441.37 L333.25,440.69 L333.50,440.03 L333.75,439.39 L334.00,438.77 L334.25,438.18 L334.50,437.63 L334.75,437.12 L335.00,436.65 L335.25,436.23 L335.50,435.87 L335.75,435.58 L336.00,435.34 L336.25,435.18 L336.50,435.09 L336.75,435.09 L337.00,435.16 L337.25,435.31 L337.50,435.53 L337.75,435.82 L338.00,436.16 L338.25,436.56 L338.50,437.01 L338.75,437.51 L339.00,438.04 L339.25,438.61 L339.50,439.22 L339.75,439.84 L340.00,440.49 L340.25,441.15 L340.50,441.82 L340.75,442.50 L341.00,443.17 L341.25,443.84 L341.50,444.50 L341.75,445.15 L342.00,445.78 L342.25,446.38 L342.50,446.95 L342.75,447.49 L343.00,447.99 L343.25,448.44 L343.50,448.85 L343.75,449.19 L344.00,449.48 L344.25,449.71 L344.50,449.86 L344.75,449.94 L345.00,449.94 L345.25,449.86 L345.50,449.71 L345.75,449.49 L346.00,449.21 L346.25,448.87 L346.50,448.48 L346.75,448.03 L347.00,447.55 L347.25,447.02 L347.50,446.46 L347.75,445.87 L348.00,445.26 L348.25,444.63 L348.50,443.98 L348.75,443.32 L349.00,442.66 L349.25,442.00 L349.50,441.35 L349.75,440.70 L350.00,440.07 L350.25,439.46 L350.50,438.87 L350.75,438.31 L351.00,437.79 L351.25,437.30 L351.50,436.86 L351.75,436.47 L352.00,436.14 L352.25,435.86 L352.50,435.64 L352.75,435.50 L353.00,435.42 L353.25,435.43 L353.50,435.51 L353.75,435.66 L354.00,435.88 L354.25,436.16 L354.50,436.49 L354.75,436.88 L355.00,437.32 L355.25,437.79 L355.50,438.31 L355.75,438.86 L356.00,439.44 L356.25,440.04 L356.50,440.66 L356.75,441.29 L357.00,441.93 L357.25,442.58 L357.50,443.22 L357.75,443.86 L358.00,444.50 L358.25,445.11 L358.50,445.71 L358.75,446.28 L359.00,446.82 L359.25,447.33 L359.50,447.80 L359.75,448.23 L360.00,448.61 L360.25,448.94 L360.50,449.21 L360.75,449.41 L361.00,449.55 L361.25,449.62 L361.50,449.61 L361.75,449.53 L362.00,449.37 L362.25,449.16 L362.50,448.88 L362.75,448.55 L363.00,448.17 L363.25,447.74 L363.50,447.27 L363.75,446.76 L364.00,446.22 L364.25,445.66 L364.50,445.07 L364.75,444.46 L365.00,443.84 L365.25,443.22 L365.50,442.58 L365.75,441.95 L366.00,441.33 L366.25,440.71 L366.50,440.11 L366.75,439.53 L367.00,438.97 L367.25,438.44 L367.50,437.94 L367.75,437.49 L368.00,437.07 L368.25,436.70 L368.50,436.39 L368.75,436.13 L369.00,435.93 L369.25,435.80 L369.50,435.74 L369.75,435.75 L370.00,435.84 L370.25,435.99 L370.50,436.20 L370.75,436.48 L371.00,436.81 L371.25,437.18 L371.50,437.60 L371.75,438.06 L372.00,438.56 L372.25,439.09 L372.50,439.64 L372.75,440.22 L373.00,440.81 L373.25,441.42 L373.50,442.03 L373.75,442.65 L374.00,443.27 L374.25,443.88 L374.50,444.48 L374.75,445.07 L375.00,445.64 L375.25,446.18 L375.50,446.70 L375.75,447.18 L376.00,447.62 L376.25,448.03 L376.50,448.38 L376.75,448.69 L377.00,448.94 L377.25,449.13 L377.50,449.25 L377.75,449.31 L378.00,449.29 L378.25,449.21 L378.50,449.05 L378.75,448.84 L379.00,448.57 L379.25,448.24 L379.50,447.87 L379.75,447.46 L380.00,447.01 L380.25,446.52 L380.50,446.00 L380.75,445.46 L381.00,444.89 L381.25,444.31 L381.50,443.72 L381.75,443.12 L382.00,442.51 L382.25,441.91 L382.50,441.31 L382.75,440.72 L383.00,440.15 L383.25,439.60 L383.50,439.07 L383.75,438.57 L384.00,438.10 L384.25,437.66 L384.50,437.27 L384.75,436.93 L385.00,436.63 L385.25,436.39 L385.50,436.21 L385.75,436.09 L386.00,436.04 L386.25,436.06 L386.50,436.15 L386.75,436.30 L387.00,436.52 L387.25,436.78 L387.50,437.10 L387.75,437.47 L388.00,437.88 L388.25,438.32 L388.50,438.80 L388.75,439.31 L389.00,439.84 L389.25,440.39 L389.50,440.96 L389.75,441.54 L390.00,442.13 L390.25,442.72 L390.50,443.31 L390.75,443.89 L391.00,444.47 L391.25,445.03 L391.50,445.57 L391.75,446.08 L392.00,446.57 L392.25,447.03 L392.50,447.45 L392.75,447.83 L393.00,448.17 L393.25,448.45 L393.50,448.68 L393.75,448.86 L394.00,448.97 L394.25,449.01 L394.50,448.99 L394.75,448.90 L395.00,448.74 L395.25,448.53 L395.50,448.27 L395.75,447.95 L396.00,447.59 L396.25,447.19 L396.50,446.76 L396.75,446.29 L397.00,445.79 L397.25,445.27 L397.50,444.72 L397.75,444.17 L398.00,443.60 L398.25,443.02 L398.50,442.45 L398.75,441.87 L399.00,441.30 L399.25,440.74 L399.50,440.20 L399.75,439.67 L400.00,439.17 L400.25,438.69 L400.50,438.24 L400.75,437.84 L401.00,437.47 L401.25,437.14 L401.50,436.86 L401.75,436.64 L402.00,436.47 L402.25,436.37 L402.50,436.33 L402.75,436.36 L403.00,436.45 L403.25,436.60 L403.50,436.81 L403.75,437.08 L404.00,437.39 L404.25,437.74 L404.50,438.13 L404.75,438.56 L405.00,439.03 L405.25,439.51 L405.50,440.03 L405.75,440.56 L406.00,441.10 L406.25,441.66 L406.50,442.22 L406.75,442.78 L407.00,443.35 L407.25,443.90 L407.50,444.45 L407.75,444.98 L408.00,445.50 L408.25,445.99 L408.50,446.45 L408.75,446.88 L409.00,447.28 L409.25,447.64 L409.50,447.95 L409.75,448.22 L410.00,448.44 L410.25,448.60 L410.50,448.70 L410.75,448.73 L411.00,448.70 L411.25,448.60 L411.50,448.45 L411.75,448.24 L412.00,447.98 L412.25,447.68 L412.50,447.33 L412.75,446.94 L413.00,446.52 L413.25,446.07 L413.50,445.59 L413.75,445.09 L414.00,444.57 L414.25,444.03 L414.50,443.49 L414.75,442.94 L415.00,442.39 L415.25,441.84 L415.50,441.29 L415.75,440.76 L416.00,440.24 L416.25,439.74 L416.50,439.26 L416.75,438.81 L417.00,438.39 L417.25,438.00 L417.50,437.65 L417.75,437.35 L418.00,437.09 L418.25,436.88 L418.50,436.73 L418.75,436.64 L419.00,436.61 L419.25,436.64 L419.50,436.74 L419.75,436.89 L420.00,437.10 L420.25,437.35 L420.50,437.66 L420.75,438.00 L421.00,438.38 L421.25,438.79 L421.50,439.24 L421.75,439.71 L422.00,440.20 L422.25,440.71 L422.50,441.23 L422.75,441.76 L423.00,442.30 L423.25,442.84 L423.50,443.38 L423.75,443.91 L424.00,444.43 L424.25,444.94 L424.50,445.42 L424.75,445.89 L425.00,446.33 L425.25,446.74 L425.50,447.12 L425.75,447.45 L426.00,447.75 L426.25,448.00 L426.50,448.20 L426.75,448.34 L427.00,448.43 L427.25,448.46 L427.50,448.42 L427.75,448.32 L428.00,448.17 L428.25,447.96 L428.50,447.71 L428.75,447.41 L429.00,447.08 L429.25,446.70 L429.50,446.29 L429.75,445.86 L430.00,445.40 L430.25,444.92 L430.50,444.42 L430.75,443.91 L431.00,443.39 L431.25,442.86 L431.50,442.33 L431.75,441.81 L432.00,441.29 L432.25,440.78 L432.50,440.29 L432.75,439.81 L433.00,439.36 L433.25,438.93 L433.50,438.53 L433.75,438.16 L434.00,437.84 L434.25,437.55 L434.50,437.31 L434.75,437.12 L435.00,436.98 L435.25,436.89 L435.50,436.87 L435.75,436.91 L436.00,437.01 L436.25,437.17 L436.50,437.37 L436.75,437.62 L437.00,437.91 L437.25,438.25 L437.50,438.61 L437.75,439.01 L438.00,439.44 L438.25,439.89 L438.50,440.36 L438.75,440.85 L439.00,441.35 L439.25,441.86 L439.50,442.38 L439.75,442.89 L440.00,443.40 L440.25,443.91 L440.50,444.41 L440.75,444.89 L441.00,445.35 L441.25,445.80 L441.50,446.21 L441.75,446.60 L442.00,446.96 L442.25,447.28 L442.50,447.55 L442.75,447.79 L443.00,447.97 L443.25,448.10 L443.50,448.18 L443.75,448.20 L444.00,448.15 L444.25,448.05 L444.50,447.90 L444.75,447.70 L445.00,447.45 L445.25,447.16 L445.50,446.84 L445.75,446.47 L446.00,446.08 L446.25,445.66 L446.50,445.22 L446.75,444.76 L447.00,444.28 L447.25,443.79 L447.50,443.29 L447.75,442.79 L448.00,442.28 L448.25,441.78 L448.50,441.29 L448.75,440.80 L449.00,440.33 L449.25,439.88 L449.50,439.45 L449.75,439.04 L450.00,438.67 L450.25,438.32 L450.50,438.01 L450.75,437.74 L451.00,437.52 L451.25,437.34 L451.50,437.21 L451.75,437.14 L452.00,437.13 L452.25,437.17 L452.50,437.28 L452.75,437.43 L453.00,437.63 L453.25,437.87 L453.50,438.16 L453.75,438.48 L454.00,438.83 L454.25,439.22 L454.50,439.63 L454.75,440.07 L455.00,440.52 L455.25,440.99 L455.50,441.47 L455.75,441.95 L456.00,442.44 L456.25,442.94 L456.50,443.43 L456.75,443.91 L457.00,444.38 L457.25,444.84 L457.50,445.28 L457.75,445.70 L458.00,446.10 L458.25,446.47 L458.50,446.80 L458.75,447.10 L459.00,447.36 L459.25,447.58 L459.50,447.75 L459.75,447.87 L460.00,447.94 L460.25,447.95 L460.50,447.90 L460.75,447.80 L461.00,447.65 L461.25,447.45 L461.50,447.21 L461.75,446.93 L462.00,446.61 L462.25,446.26 L462.50,445.88 L462.75,445.48 L463.00,445.05 L463.25,444.61 L463.50,444.15 L463.75,443.68 L464.00,443.20 L464.25,442.72 L464.50,442.24 L464.75,441.76 L465.00,441.29 L465.25,440.83 L465.50,440.38 L465.75,439.95 L466.00,439.54 L466.25,439.16 L466.50,438.80 L466.75,438.47 L467.00,438.18 L467.25,437.93 L467.50,437.72 L467.75,437.56 L468.00,437.44 L468.25,437.38 L468.50,437.37 L468.75,437.42 L469.00,437.53 L469.25,437.68 L469.50,437.87 L469.75,438.11 L470.00,438.39 L470.25,438.70 L470.50,439.04 L470.75,439.42 L471.00,439.81 L471.25,440.23 L471.50,440.66 L471.75,441.11 L472.00,441.57 L472.25,442.04 L472.50,442.51 L472.75,442.98 L473.00,443.45 L473.25,443.91 L473.50,444.36 L473.75,444.79 L474.00,445.21 L474.25,445.61 L474.50,445.99 L474.75,446.34 L475.00,446.65 L475.25,446.93 L475.50,447.18 L475.75,447.38 L476.00,447.54 L476.25,447.65 L476.50,447.70 L476.75,447.71 L477.00,447.66 L477.25,447.55 L477.50,447.40 L477.75,447.21 L478.00,446.97 L478.25,446.70 L478.50,446.39 L478.75,446.05 L479.00,445.69 L479.25,445.30 L479.50,444.89 L479.75,444.47 L480.00,444.03 L480.25,443.58 L480.50,443.12 L480.75,442.66 L481.00,442.20 L481.25,441.75 L481.50,441.30 L481.75,440.86 L482.00,440.43 L482.25,440.02 L482.50,439.63 L482.75,439.27 L483.00,438.93 L483.25,438.62 L483.50,438.35 L483.75,438.11 L484.00,437.92 L484.25,437.76 L484.50,437.66 L484.75,437.61 L485.00,437.61 L485.25,437.66 L485.50,437.77 L485.75,437.92 L486.00,438.11 L486.25,438.34 L486.50,438.61 L486.75,438.91 L487.00,439.24 L487.25,439.60 L487.50,439.98 L487.75,440.38 L488.00,440.80 L488.25,441.23 L488.50,441.67 L488.75,442.12 L489.00,442.57 L489.25,443.02 L489.50,443.46 L489.75,443.90 L490.00,444.33 L490.25,444.75 L490.50,445.14 L490.75,445.52 L491.00,445.88 L491.25,446.21 L491.50,446.51 L491.75,446.77 L492.00,447.00 L492.25,447.19 L492.50,447.33 L492.75,447.43 L493.00,447.48 L493.25,447.48 L493.50,447.42 L493.75,447.32 L494.00,447.17 L494.25,446.98 L494.50,446.75 L494.75,446.48 L495.00,446.19 L495.25,445.86 L495.50,445.51 L495.75,445.14 L496.00,444.74 L496.25,444.33 L496.50,443.91 L496.75,443.48 L497.00,443.05 L497.25,442.61 L497.50,442.17 L497.75,441.73 L498.00,441.30 L498.25,440.88 L498.50,440.48 L498.75,440.09 L499.00,439.72 L499.25,439.37 L499.50,439.05 L499.75,438.76 L500.00,438.51 L500.25,438.29 L500.50,438.10 L500.75,437.96 L501.00,437.87 L501.25,437.83 L501.50,437.83 L501.75,437.89 L502.00,438.00 L502.25,438.14 L502.50,438.33 L502.75,438.56 L503.00,438.82 L503.25,439.11 L503.50,439.43 L503.75,439.78 L504.00,440.14 L504.25,440.53 L504.50,440.93 L504.75,441.34 L505.00,441.76 L505.25,442.19 L505.50,442.62 L505.75,443.05 L506.00,443.47 L506.25,443.89 L506.50,444.30 L506.75,444.70 L507.00,445.08 L507.25,445.44 L507.50,445.77 L507.75,446.08 L508.00,446.37 L508.25,446.61 L508.50,446.83 L508.75,447.00 L509.00,447.14 L509.25,447.23 L509.50,447.27 L509.75,447.26 L510.00,447.20 L510.25,447.09 L510.50,446.95 L510.75,446.76 L511.00,446.54 L511.25,446.28 L511.50,445.99 L511.75,445.68 L512.00,445.34 L512.25,444.98 L512.50,444.60 L512.75,444.21 L513.00,443.81 L513.25,443.39 L513.50,442.98 L513.75,442.56 L514.00,442.14 L514.25,441.72 L514.50,441.31 L514.75,440.91 L515.00,440.53 L515.25,440.16 L515.50,439.81 L515.75,439.48 L516.00,439.18 L516.25,438.90 L516.50,438.66 L516.75,438.45 L517.00,438.29 L517.25,438.16 L517.50,438.07 L517.75,438.04 L518.00,438.05 L518.25,438.11 L518.50,438.21 L518.75,438.36 L519.00,438.55 L519.25,438.77 L519.50,439.02 L519.75,439.30 L520.00,439.61 L520.25,439.94 L520.50,440.30 L520.75,440.67 L521.00,441.05 L521.25,441.44 L521.50,441.85 L521.75,442.26 L522.00,442.67 L522.25,443.08 L522.50,443.48 L522.75,443.88 L523.00,444.27 L523.25,444.65 L523.50,445.01 L523.75,445.35 L524.00,445.67 L524.25,445.96 L524.50,446.23 L524.75,446.46 L525.00,446.66 L525.25,446.83 L525.50,446.95 L525.75,447.03 L526.00,447.06 L526.25,447.05 L526.50,446.98 L526.75,446.88 L527.00,446.73 L527.25,446.55 L527.50,446.33 L527.75,446.08 L528.00,445.81 L528.25,445.50 L528.50,445.18 L528.75,444.83 L529.00,444.47 L529.25,444.09 L529.50,443.71 L529.75,443.31 L530.00,442.91 L530.25,442.51 L530.50,442.11 L530.75,441.71 L531.00,441.32 L531.25,440.94 L531.50,440.58 L531.75,440.22 L532.00,439.89 L532.25,439.58 L532.50,439.30 L532.75,439.04 L533.00,438.81 L533.25,438.62 L533.50,438.46 L533.75,438.34 L534.00,438.27 L534.25,438.24 L534.50,438.26 L534.75,438.32 L535.00,438.42 L535.25,438.57 L535.50,438.75 L535.75,438.96 L536.00,439.21 L536.25,439.48 L536.50,439.78 L536.75,440.10 L537.00,440.44 L537.25,440.79 L537.50,441.16 L537.75,441.54 L538.00,441.93 L538.25,442.32 L538.50,442.71 L538.75,443.10 L539.00,443.49 L539.25,443.87 L539.50,444.24 L539.75,444.60 L540.00,444.94 L540.25,445.27 L540.50,445.57 L540.75,445.85 L541.00,446.10 L541.25,446.32 L541.50,446.50 L541.75,446.65 L542.00,446.77 L542.25,446.84 L542.50,446.86 L542.75,446.84 L543.00,446.78 L543.25,446.67 L543.50,446.53 L543.75,446.35 L544.00,446.14 L544.25,445.90 L544.50,445.63 L544.75,445.34 L545.00,445.02 L545.25,444.69 L545.50,444.34 L545.75,443.98 L546.00,443.61 L546.25,443.23 L546.50,442.85 L546.75,442.47 L547.00,442.08 L547.25,441.71 L547.50,441.33 L547.75,440.97 L548.00,440.62 L548.25,440.29 L548.50,439.98 L548.75,439.68 L549.00,439.41 L549.25,439.17 L549.50,438.96 L549.75,438.77 L550.00,438.63 L550.25,438.52 L550.50,438.45 L550.75,438.43 L551.00,438.45 L551.25,438.52 L551.50,438.62 L551.75,438.77 L552.00,438.94 L552.25,439.15 L552.50,439.39 L552.75,439.65 L553.00,439.94 L553.25,440.25 L553.50,440.58 L553.75,440.92 L554.00,441.27 L554.25,441.63 L554.50,442.00 L554.75,442.38 L555.00,442.75 L555.25,443.13 L555.50,443.50 L555.75,443.86 L556.00,444.21 L556.25,444.55 L556.50,444.88 L556.75,445.18 L557.00,445.47 L557.25,445.73 L557.50,445.97 L557.75,446.17 L558.00,446.35 L558.25,446.49 L558.50,446.59 L558.75,446.66 L559.00,446.68 L559.25,446.65 L559.50,446.58 L559.75,446.48 L560.00,446.34 L560.25,446.16 L560.50,445.96 L560.75,445.72 L561.00,445.46 L561.25,445.18 L561.50,444.88 L561.75,444.56 L562.00,444.23 L562.25,443.88 L562.50,443.52 L562.75,443.16 L563.00,442.80 L563.25,442.43 L563.50,442.06 L563.75,441.70 L564.00,441.35 L564.25,441.00 L564.50,440.67 L564.75,440.36 L565.00,440.06 L565.25,439.78 L565.50,439.52 L565.75,439.29 L566.00,439.09 L566.25,438.93 L566.50,438.79 L566.75,438.69 L567.00,438.63 L567.25,438.62 L567.50,438.64 L567.75,438.71 L568.00,438.81 L568.25,438.96 L568.50,439.13 L568.75,439.33 L569.00,439.56 L569.25,439.82 L569.50,440.09 L569.75,440.39 L570.00,440.70 L570.25,441.03 L570.50,441.37 L570.75,441.72 L571.00,442.07 L571.25,442.43 L571.50,442.79 L571.75,443.15 L572.00,443.50 L572.25,443.84 L572.50,444.18 L572.75,444.50 L573.00,444.81 L573.25,445.10 L573.50,445.37 L573.75,445.62 L574.00,445.84 L574.25,446.04 L574.50,446.20 L574.75,446.33 L575.00,446.43 L575.25,446.48 L575.50,446.49 L575.75,446.47 L576.00,446.40 L576.25,446.29 L576.50,446.15 L576.75,445.98 L577.00,445.78 L577.25,445.56 L577.50,445.31 L577.75,445.03 L578.00,444.74 L578.25,444.44 L578.50,444.11 L578.75,443.78 L579.00,443.44 L579.25,443.10 L579.50,442.75 L579.75,442.39 L580.00,442.05 L580.25,441.70 L580.50,441.36 L580.75,441.04 L581.00,440.72 L581.25,440.42 L581.50,440.14 L581.75,439.87 L582.00,439.63 L582.25,439.42 L582.50,439.23 L582.75,439.07 L583.00,438.95 L583.25,438.86 L583.50,438.80 L583.75,438.79 L584.00,438.82 L584.25,438.89 L584.50,439.00 L584.75,439.13 L585.00,439.30 L585.25,439.50 L585.50,439.72 L585.75,439.97 L586.00,440.24 L586.25,440.52 L586.50,440.82 L586.75,441.14 L587.00,441.46 L587.25,441.80 L587.50,442.14 L587.75,442.48 L588.00,442.82 L588.25,443.16 L588.50,443.50 L588.75,443.83 L589.00,444.15 L589.25,444.45 L589.50,444.75 L589.75,445.02 L590.00,445.28 L590.25,445.51 L590.50,445.72 L590.75,445.91 L591.00,446.06 L591.25,446.18 L591.50,446.26 L591.75,446.31 L592.00,446.32 L592.25,446.29 L592.50,446.22 L592.75,446.11 L593.00,445.98 L593.25,445.81 L593.50,445.62 L593.75,445.40 L594.00,445.16 L594.25,444.89 L594.50,444.61 L594.75,444.32 L595.00,444.01 L595.25,443.69 L595.50,443.36 L595.75,443.03 L596.00,442.70 L596.25,442.36 L596.50,442.03 L596.75,441.70 L597.00,441.38 L597.25,441.07 L597.50,440.77 L597.75,440.48 L598.00,440.22 L598.25,439.97 L598.50,439.74 L598.75,439.54 L599.00,439.36 L599.25,439.21 L599.50,439.10 L599.75,439.01 L600.00,438.97 L600.25,438.96 L600.50,439.00 L600.75,439.07 L601.00,439.17 L601.25,439.31 L601.50,439.47 L601.75,439.66 L602.00,439.88 L602.25,440.12 L602.50,440.37 L602.75,440.65 L603.00,440.94 L603.25,441.24 L603.50,441.55 L603.75,441.87 L604.00,442.20 L604.25,442.52 L604.50,442.85 L604.75,443.18 L605.00,443.50 L605.25,443.81 L605.50,444.11 L605.75,444.41 L606.00,444.68 L606.25,444.95 L606.50,445.19 L606.75,445.41 L607.00,445.61 L607.25,445.78 L607.50,445.92 L607.75,446.03 L608.00,446.11 L608.25,446.15 L608.50,446.15 L608.75,446.12 L609.00,446.05 L609.25,445.94 L609.50,445.81 L609.75,445.65 L610.00,445.46 L610.25,445.25 L610.50,445.01 L610.75,444.76 L611.00,444.49 L611.25,444.21 L611.50,443.91 L611.75,443.61 L612.00,443.29 L612.25,442.98 L612.50,442.66 L612.75,442.34 L613.00,442.02 L613.25,441.71 L613.50,441.40 L613.75,441.10 L614.00,440.82 L614.25,440.55 L614.50,440.29 L614.75,440.06 L615.00,439.84 L615.25,439.65 L615.50,439.48 L615.75,439.35 L616.00,439.24 L616.25,439.17 L616.50,439.13 L616.75,439.13 L617.00,439.16 L617.25,439.23 L617.50,439.34 L617.75,439.47 L618.00,439.63 L618.25,439.82 L618.50,440.03 L618.75,440.26 L619.00,440.50 L619.25,440.77 L619.50,441.05 L619.75,441.34 L620.00,441.64 L620.25,441.94 L620.50,442.25 L620.75,442.56 L621.00,442.88 L621.25,443.19 L621.50,443.49 L621.75,443.79 L622.00,444.08 L622.25,444.36 L622.50,444.62 L622.75,444.87 L623.00,445.10 L623.25,445.31 L623.50,445.49 L623.75,445.65 L624.00,445.79 L624.25,445.89 L624.50,445.96 L624.75,445.99 L625.00,445.99 L625.25,445.96 L625.50,445.89 L625.75,445.78 L626.00,445.65 L626.25,445.49 L626.50,445.31 L626.75,445.10 L627.00,444.88 L627.25,444.63 L627.50,444.37 L627.75,444.10 L628.00,443.82 L628.25,443.53 L628.50,443.23 L628.75,442.92 L629.00,442.62 L629.25,442.31 L629.50,442.01 L629.75,441.71 L630.00,441.42 L630.25,441.14 L630.50,440.86 L630.75,440.61 L631.00,440.37 L631.25,440.14 L631.50,439.94 L631.75,439.76 L632.00,439.61 L632.25,439.48 L632.50,439.38 L632.75,439.31 L633.00,439.28 L633.25,439.28 L633.50,439.32 L633.75,439.39 L634.00,439.50 L634.25,439.63 L634.50,439.78 L634.75,439.96 L635.00,440.17 L635.25,440.39 L635.50,440.63 L635.75,440.88 L636.00,441.15 L636.25,441.43 L636.50,441.71 L636.75,442.01 L637.00,442.30 L637.25,442.60 L637.50,442.90 L637.75,443.20 L638.00,443.49 L638.25,443.77 L638.50,444.05 L638.75,444.31 L639.00,444.56 L639.25,444.80 L639.50,445.01 L639.75,445.21 L640.00,445.39 L640.25,445.54 L640.50,445.66 L640.75,445.75 L641.00,445.82 L641.25,445.85 L641.50,445.84 L641.75,445.80 L642.00,445.73 L642.25,445.63 L642.50,445.50 L642.75,445.34 L643.00,445.17 L643.25,444.97 L643.50,444.75 L643.75,444.51 L644.00,444.27 L644.25,444.00 L644.50,443.73 L644.75,443.45 L645.00,443.16 L645.25,442.87 L645.50,442.58 L645.75,442.29 L646.00,442.00 L646.25,441.71 L646.50,441.44 L646.75,441.17 L647.00,440.91 L647.25,440.67 L647.50,440.44 L647.75,440.23 L648.00,440.04 L648.25,439.87 L648.50,439.72 L648.75,439.60 L649.00,439.51 L649.25,439.45 L649.50,439.43 L649.75,439.43 L650.00,439.47 L650.25,439.55 L650.50,439.65 L650.75,439.77 L651.00,439.93 L651.25,440.10 L651.50,440.30 L651.75,440.51 L652.00,440.74 L652.25,440.99 L652.50,441.24 L652.75,441.51 L653.00,441.79 L653.25,442.07 L653.50,442.35 L653.75,442.64 L654.00,442.92 L654.25,443.20 L654.50,443.48 L654.75,443.75 L655.00,444.01 L655.25,444.27 L655.50,444.50 L655.75,444.73 L656.00,444.93 L656.25,445.12 L656.50,445.28 L656.75,445.42 L657.00,445.54 L657.25,445.62 L657.50,445.68 L657.75,445.70 L658.00,445.69 L658.25,445.65 L658.50,445.58 L658.75,445.48 L659.00,445.35 L659.25,445.20 L659.50,445.03 L659.75,444.84 L660.00,444.63 L660.25,444.40 L660.50,444.16 L660.75,443.91 L661.00,443.65 L661.25,443.38 L661.50,443.11 L661.75,442.83 L662.00,442.55 L662.25,442.27 L662.50,441.99 L662.75,441.72 L663.00,441.46 L663.25,441.20 L663.50,440.96 L663.75,440.73 L664.00,440.51 L664.25,440.31 L664.50,440.13 L664.75,439.97 L665.00,439.83 L665.25,439.72 L665.50,439.64 L665.75,439.59 L666.00,439.57 L666.25,439.58 L666.50,439.62 L666.75,439.69 L667.00,439.79 L667.25,439.92 L667.50,440.06 L667.75,440.23 L668.00,440.42 L668.00,440.42" fill="none" stroke="#008000" stroke-width="2.3" stroke-linejoin="round" stroke-linecap="butt" clip-path="url(#ca)"/>
<line x1="92.8" y1="337.8" x2="668.0" y2="337.8" stroke="#707070" stroke-width="2" stroke-dasharray="7.4 3.2" clip-path="url(#ca)"/>
<path d="M93.00,601.00 L93.25,585.11 L93.50,566.14 L93.75,544.58 L94.00,518.61 L94.25,486.57 L94.50,453.55 L94.75,424.78 L95.00,403.56 L95.25,386.08 L95.50,368.18 L95.75,345.94 L96.00,319.94 L96.25,295.42 L96.50,273.54 L96.75,252.58 L97.00,231.36 L97.25,208.94 L97.50,187.14 L97.75,168.23 L98.00,153.08 L98.25,139.78 L98.50,128.15 L98.75,118.07 L99.00,108.10 L99.25,97.98 L99.50,88.27 L99.75,79.49 L100.00,72.18 L100.25,66.90 L100.50,64.16 L100.75,64.25 L101.00,66.37 L101.25,70.30 L101.50,75.95 L101.75,83.21 L102.00,91.99 L102.25,102.18 L102.50,113.69 L102.75,126.41 L103.00,140.24 L103.25,155.09 L103.50,170.84 L103.75,187.39 L104.00,204.66 L104.25,222.53 L104.50,240.91 L104.75,259.69 L105.00,278.78 L105.25,298.06 L105.50,317.45 L105.75,336.84 L106.00,356.12 L106.25,375.21 L106.50,393.99 L106.75,412.37 L107.00,430.24 L107.25,447.51 L107.50,464.06 L107.75,479.81 L108.00,494.66 L108.25,508.49 L108.50,521.21 L108.75,532.72 L109.00,542.91 L109.25,551.69 L109.50,558.95 L109.75,564.60 L110.00,568.53 L110.25,570.65 L110.50,570.87 L110.75,569.47 L111.00,566.58 L111.25,562.29 L111.50,556.67 L111.75,549.80 L112.00,541.76 L112.25,532.62 L112.50,522.48 L112.75,511.41 L113.00,499.48 L113.25,486.77 L113.50,473.37 L113.75,459.36 L114.00,444.80 L114.25,429.79 L114.50,414.40 L114.75,398.71 L115.00,382.80 L115.25,366.74 L115.50,350.63 L115.75,334.52 L116.00,318.52 L116.25,302.68 L116.50,287.10 L116.75,271.85 L117.00,257.01 L117.25,242.67 L117.50,228.89 L117.75,215.76 L118.00,203.35 L118.25,191.76 L118.50,181.04 L118.75,171.30 L119.00,162.59 L119.25,155.01 L119.50,148.63 L119.75,143.53 L120.00,139.79 L120.25,137.49 L120.50,136.70 L120.75,137.54 L121.00,140.01 L121.25,144.00 L121.50,149.42 L121.75,156.17 L122.00,164.17 L122.25,173.31 L122.50,183.50 L122.75,194.64 L123.00,206.64 L123.25,219.40 L123.50,232.83 L123.75,246.84 L124.00,261.32 L124.25,276.18 L124.50,291.33 L124.75,306.67 L125.00,322.10 L125.25,337.53 L125.50,352.87 L125.75,368.02 L126.00,382.88 L126.25,397.36 L126.50,411.37 L126.75,424.80 L127.00,437.56 L127.25,449.56 L127.50,460.70 L127.75,470.89 L128.00,480.03 L128.25,488.03 L128.50,494.78 L128.75,500.20 L129.00,504.19 L129.25,506.66 L129.50,507.50 L129.75,506.89 L130.00,505.11 L130.25,502.21 L130.50,498.28 L130.75,493.36 L131.00,487.52 L131.25,480.83 L131.50,473.36 L131.75,465.16 L132.00,456.30 L132.25,446.86 L132.50,436.88 L132.75,426.43 L133.00,415.59 L133.25,404.41 L133.50,392.96 L133.75,381.30 L134.00,369.50 L134.25,357.63 L134.50,345.74 L134.75,333.90 L135.00,322.18 L135.25,310.64 L135.50,299.35 L135.75,288.36 L136.00,277.75 L136.25,267.58 L136.50,257.91 L136.75,248.81 L137.00,240.34 L137.25,232.57 L137.50,225.56 L137.75,219.37 L138.00,214.08 L138.25,209.74 L138.50,206.42 L138.75,204.18 L139.00,203.10 L139.25,203.18 L139.50,204.24 L139.75,206.20 L140.00,209.03 L140.25,212.66 L140.50,217.04 L140.75,222.12 L141.00,227.86 L141.25,234.18 L141.50,241.05 L141.75,248.42 L142.00,256.22 L142.25,264.40 L142.50,272.93 L142.75,281.73 L143.00,290.77 L143.25,299.98 L143.50,309.32 L143.75,318.73 L144.00,328.16 L144.25,337.56 L144.50,346.88 L144.75,356.06 L145.00,365.05 L145.25,373.80 L145.50,382.26 L145.75,390.38 L146.00,398.09 L146.25,405.36 L146.50,412.13 L146.75,418.34 L147.00,423.95 L147.25,428.89 L147.50,433.13 L147.75,436.60 L148.00,439.26 L148.25,441.05 L148.50,441.92 L148.75,441.86 L149.00,440.99 L149.25,439.39 L149.50,437.08 L149.75,434.13 L150.00,430.56 L150.25,426.44 L150.50,421.79 L150.75,416.66 L151.00,411.10 L151.25,405.16 L151.50,398.87 L151.75,392.28 L152.00,385.43 L152.25,378.37 L152.50,371.15 L152.75,363.80 L153.00,356.37 L153.25,348.91 L153.50,341.45 L153.75,334.05 L154.00,326.75 L154.25,319.58 L154.50,312.60 L154.75,305.85 L155.00,299.38 L155.25,293.22 L155.50,287.43 L155.75,282.03 L156.00,277.09 L156.25,272.65 L156.50,268.74 L156.75,265.41 L157.00,262.71 L157.25,260.69 L157.50,259.37 L157.75,258.82 L158.00,258.99 L158.25,259.73 L158.50,261.02 L158.75,262.81 L159.00,265.07 L159.25,267.78 L159.50,270.90 L159.75,274.40 L160.00,278.24 L160.25,282.41 L160.50,286.86 L160.75,291.56 L161.00,296.48 L161.25,301.59 L161.50,306.87 L161.75,312.26 L162.00,317.76 L162.25,323.31 L162.50,328.90 L162.75,334.49 L163.00,340.04 L163.25,345.54 L163.50,350.93 L163.75,356.21 L164.00,361.32 L164.25,366.24 L164.50,370.94 L164.75,375.39 L165.00,379.56 L165.25,383.40 L165.50,386.90 L165.75,390.02 L166.00,392.73 L166.25,394.99 L166.50,396.78 L166.75,398.07 L167.00,398.81 L167.25,398.99 L167.50,398.65 L167.75,397.85 L168.00,396.61 L168.25,394.96 L168.50,392.93 L168.75,390.55 L169.00,387.84 L169.25,384.84 L169.50,381.56 L169.75,378.04 L170.00,374.31 L170.25,370.38 L170.50,366.30 L170.75,362.09 L171.00,357.77 L171.25,353.37 L171.50,348.92 L171.75,344.46 L172.00,339.99 L172.25,335.56 L172.50,331.19 L172.75,326.91 L173.00,322.75 L173.25,318.73 L173.50,314.88 L173.75,311.23 L174.00,307.80 L174.25,304.63 L174.50,301.74 L174.75,299.16 L175.00,296.91 L175.25,295.03 L175.50,293.55 L175.75,292.48 L176.00,291.86 L176.25,291.71 L176.50,291.97 L176.75,292.58 L177.00,293.53 L177.25,294.79 L177.50,296.33 L177.75,298.15 L178.00,300.21 L178.25,302.50 L178.50,304.98 L178.75,307.65 L179.00,310.48 L179.25,313.45 L179.50,316.54 L179.75,319.72 L180.00,322.97 L180.25,326.28 L180.50,329.61 L180.75,332.96 L181.00,336.29 L181.25,339.58 L181.50,342.82 L181.75,345.99 L182.00,349.05 L182.25,351.99 L182.50,354.79 L182.75,357.43 L183.00,359.88 L183.25,362.12 L183.50,364.14 L183.75,365.90 L184.00,367.39 L184.25,368.59 L184.50,369.47 L184.75,370.01 L185.00,370.20 L185.25,370.07 L185.50,369.71 L185.75,369.11 L186.00,368.31 L186.25,367.31 L186.50,366.13 L186.75,364.78 L187.00,363.28 L187.25,361.64 L187.50,359.88 L187.75,358.01 L188.00,356.05 L188.25,354.01 L188.50,351.92 L188.75,349.77 L189.00,347.59 L189.25,345.39 L189.50,343.19 L189.75,341.00 L190.00,338.84 L190.25,336.72 L190.50,334.65 L190.75,332.66 L191.00,330.76 L191.25,328.95 L191.50,327.26 L191.75,325.71 L192.00,324.29 L192.25,323.04 L192.50,321.97 L192.75,321.08 L193.00,320.40 L193.25,319.94 L193.50,319.72 L193.75,319.73 L194.00,319.90 L194.25,320.22 L194.50,320.68 L194.75,321.26 L195.00,321.95 L195.25,322.75 L195.50,323.64 L195.75,324.61 L196.00,325.64 L196.25,326.74 L196.50,327.89 L196.75,329.07 L197.00,330.28 L197.25,331.51 L197.50,332.74 L197.75,333.96 L198.00,335.17 L198.25,336.34 L198.50,337.48 L198.75,338.57 L199.00,339.59 L199.25,340.55 L199.50,341.42 L199.75,342.20 L200.00,342.87 L200.25,343.42 L200.50,343.85 L200.75,344.14 L201.00,344.29 L201.25,344.29 L201.50,344.21 L201.75,344.07 L202.00,343.87 L202.25,343.62 L202.50,343.32 L202.75,342.98 L203.00,342.60 L203.25,342.19 L203.50,341.77 L203.75,341.32 L204.00,340.86 L204.25,340.40 L204.50,339.94 L204.75,339.48 L205.00,339.03 L205.25,338.61 L205.50,338.20 L205.75,337.82 L206.00,337.48 L206.25,337.18 L206.50,336.93 L206.75,336.73 L207.00,336.59 L207.25,336.51 L207.50,336.51 L207.75,336.57 L208.00,336.69 L208.25,336.87 L208.50,337.10 L208.75,337.38 L209.00,337.69 L209.25,338.04 L209.50,338.42 L209.75,338.82 L210.00,339.23 L210.25,339.66 L210.50,340.09 L210.75,340.51 L211.00,340.94 L211.25,341.35 L211.50,341.74 L211.75,342.10 L212.00,342.44 L212.25,342.74 L212.50,343.00 L212.75,343.21 L213.00,343.37 L213.25,343.47 L213.50,343.50 L213.75,343.45 L214.00,343.30 L214.25,343.05 L214.50,342.72 L214.75,342.31 L215.00,341.83 L215.25,341.28 L215.50,340.67 L215.75,340.02 L216.00,339.32 L216.25,338.58 L216.50,337.82 L216.75,337.03 L217.00,336.22 L217.25,335.41 L217.50,334.60 L217.75,333.79 L218.00,333.00 L218.25,332.22 L218.50,331.47 L218.75,330.76 L219.00,330.08 L219.25,329.46 L219.50,328.89 L219.75,328.38 L220.00,327.94 L220.25,327.57 L220.50,327.29 L220.75,327.10 L221.00,327.01 L221.25,327.02 L221.50,327.17 L221.75,327.44 L222.00,327.83 L222.25,328.33 L222.50,328.93 L222.75,329.63 L223.00,330.40 L223.25,331.25 L223.50,332.17 L223.75,333.15 L224.00,334.18 L224.25,335.26 L224.50,336.37 L224.75,337.50 L225.00,338.65 L225.25,339.82 L225.50,340.98 L225.75,342.14 L226.00,343.28 L226.25,344.40 L226.50,345.49 L226.75,346.54 L227.00,347.54 L227.25,348.49 L227.50,349.37 L227.75,350.17 L228.00,350.90 L228.25,351.54 L228.50,352.08 L228.75,352.51 L229.00,352.83 L229.25,353.03 L229.50,353.10 L229.75,353.02 L230.00,352.78 L230.25,352.40 L230.50,351.89 L230.75,351.25 L231.00,350.49 L231.25,349.62 L231.50,348.66 L231.75,347.61 L232.00,346.48 L232.25,345.28 L232.50,344.02 L232.75,342.72 L233.00,341.37 L233.25,339.99 L233.50,338.59 L233.75,337.18 L234.00,335.77 L234.25,334.37 L234.50,332.98 L234.75,331.62 L235.00,330.29 L235.25,329.02 L235.50,327.79 L235.75,326.64 L236.00,325.55 L236.25,324.55 L236.50,323.65 L236.75,322.84 L237.00,322.15 L237.25,321.59 L237.50,321.15 L237.75,320.86 L238.00,320.71 L238.25,320.73 L238.50,320.92 L238.75,321.28 L239.00,321.78 L239.25,322.43 L239.50,323.22 L239.75,324.12 L240.00,325.13 L240.25,326.25 L240.50,327.45 L240.75,328.73 L241.00,330.09 L241.25,331.50 L241.50,332.96 L241.75,334.46 L242.00,335.98 L242.25,337.52 L242.50,339.07 L242.75,340.61 L243.00,342.14 L243.25,343.64 L243.50,345.11 L243.75,346.53 L244.00,347.90 L244.25,349.20 L244.50,350.42 L244.75,351.55 L245.00,352.59 L245.25,353.51 L245.50,354.32 L245.75,355.00 L246.00,355.53 L246.25,355.92 L246.50,356.14 L246.75,356.20 L247.00,356.09 L247.25,355.83 L247.50,355.43 L247.75,354.90 L248.00,354.25 L248.25,353.48 L248.50,352.61 L248.75,351.65 L249.00,350.59 L249.25,349.46 L249.50,348.25 L249.75,346.99 L250.00,345.67 L250.25,344.31 L250.50,342.91 L250.75,341.49 L251.00,340.05 L251.25,338.60 L251.50,337.15 L251.75,335.71 L252.00,334.29 L252.25,332.89 L252.50,331.53 L252.75,330.21 L253.00,328.95 L253.25,327.74 L253.50,326.61 L253.75,325.55 L254.00,324.59 L254.25,323.72 L254.50,322.95 L254.75,322.30 L255.00,321.77 L255.25,321.37 L255.50,321.11 L255.75,321.00 L256.00,321.05 L256.25,321.25 L256.50,321.60 L256.75,322.09 L257.00,322.71 L257.25,323.44 L257.50,324.28 L257.75,325.22 L258.00,326.25 L258.25,327.36 L258.50,328.54 L258.75,329.78 L259.00,331.08 L259.25,332.42 L259.50,333.79 L259.75,335.19 L260.00,336.60 L260.25,338.02 L260.50,339.43 L260.75,340.83 L261.00,342.21 L261.25,343.56 L261.50,344.86 L261.75,346.12 L262.00,347.31 L262.25,348.44 L262.50,349.48 L262.75,350.44 L263.00,351.30 L263.25,352.06 L263.50,352.70 L263.75,353.21 L264.00,353.59 L264.25,353.82 L264.50,353.90 L264.75,353.83 L265.00,353.62 L265.25,353.28 L265.50,352.81 L265.75,352.23 L266.00,351.55 L266.25,350.77 L266.50,349.90 L266.75,348.95 L267.00,347.93 L267.25,346.85 L267.50,345.71 L267.75,344.52 L268.00,343.30 L268.25,342.04 L268.50,340.77 L268.75,339.48 L269.00,338.18 L269.25,336.89 L269.50,335.61 L269.75,334.35 L270.00,333.12 L270.25,331.92 L270.50,330.77 L270.75,329.68 L271.00,328.64 L271.25,327.68 L271.50,326.80 L271.75,326.00 L272.00,325.29 L272.25,324.70 L272.50,324.21 L272.75,323.84 L273.00,323.60 L273.25,323.50 L273.50,323.54 L273.75,323.72 L274.00,324.02 L274.25,324.43 L274.50,324.95 L274.75,325.57 L275.00,326.29 L275.25,327.08 L275.50,327.96 L275.75,328.90 L276.00,329.89 L276.25,330.94 L276.50,332.04 L276.75,333.16 L277.00,334.31 L277.25,335.48 L277.50,336.66 L277.75,337.85 L278.00,339.02 L278.25,340.18 L278.50,341.32 L278.75,342.42 L279.00,343.49 L279.25,344.51 L279.50,345.48 L279.75,346.38 L280.00,347.20 L280.25,347.95 L280.50,348.61 L280.75,349.17 L281.00,349.63 L281.25,349.98 L281.50,350.20 L281.75,350.30 L282.00,350.26 L282.25,350.12 L282.50,349.87 L282.75,349.52 L283.00,349.09 L283.25,348.57 L283.50,347.97 L283.75,347.31 L284.00,346.58 L284.25,345.80 L284.50,344.97 L284.75,344.09 L285.00,343.19 L285.25,342.25 L285.50,341.30 L285.75,340.33 L286.00,339.35 L286.25,338.37 L286.50,337.40 L286.75,336.45 L287.00,335.51 L287.25,334.61 L287.50,333.73 L287.75,332.90 L288.00,332.12 L288.25,331.39 L288.50,330.73 L288.75,330.13 L289.00,329.61 L289.25,329.18 L289.50,328.83 L289.75,328.58 L290.00,328.44 L290.25,328.40 L290.50,328.47 L290.75,328.65 L291.00,328.91 L291.25,329.25 L291.50,329.68 L291.75,330.18 L292.00,330.74 L292.25,331.36 L292.50,332.03 L292.75,332.74 L293.00,333.49 L293.25,334.28 L293.50,335.09 L293.75,335.91 L294.00,336.75 L294.25,337.59 L294.50,338.42 L294.75,339.25 L295.00,340.06 L295.25,340.85 L295.50,341.61 L295.75,342.33 L296.00,343.01 L296.25,343.64 L296.50,344.22 L296.75,344.73 L297.00,345.17 L297.25,345.53 L297.50,345.81 L297.75,346.00 L298.00,346.09 L298.25,346.08 L298.50,345.97 L298.75,345.77 L299.00,345.47 L299.25,345.10 L299.50,344.66 L299.75,344.15 L300.00,343.58 L300.25,342.96 L300.50,342.29 L300.75,341.59 L301.00,340.86 L301.25,340.10 L301.50,339.32 L301.75,338.54 L302.00,337.75 L302.25,336.97 L302.50,336.20 L302.75,335.44 L303.00,334.72 L303.25,334.02 L303.50,333.36 L303.75,332.75 L304.00,332.19 L304.25,331.70 L304.50,331.27 L304.75,330.91 L305.00,330.64 L305.25,330.45 L305.50,330.36 L305.75,330.36 L306.00,330.46 L306.25,330.62 L306.50,330.86 L306.75,331.17 L307.00,331.54 L307.25,331.97 L307.50,332.44 L307.75,332.97 L308.00,333.53 L308.25,334.13 L308.50,334.76 L308.75,335.41 L309.00,336.09 L309.25,336.78 L309.50,337.48 L309.75,338.19 L310.00,338.89 L310.25,339.59 L310.50,340.27 L310.75,340.95 L311.00,341.59 L311.25,342.22 L311.50,342.81 L311.75,343.36 L312.00,343.87 L312.25,344.34 L312.50,344.75 L312.75,345.10 L313.00,345.39 L313.25,345.61 L313.50,345.76 L313.75,345.83 L314.00,345.82 L314.25,345.73 L314.50,345.56 L314.75,345.32 L315.00,345.02 L315.25,344.66 L315.50,344.24 L315.75,343.77 L316.00,343.26 L316.25,342.71 L316.50,342.12 L316.75,341.51 L317.00,340.87 L317.25,340.21 L317.50,339.54 L317.75,338.86 L318.00,338.17 L318.25,337.49 L318.50,336.81 L318.75,336.14 L319.00,335.49 L319.25,334.86 L319.50,334.26 L319.75,333.68 L320.00,333.15 L320.25,332.65 L320.50,332.20 L320.75,331.81 L321.00,331.47 L321.25,331.19 L321.50,330.98 L321.75,330.84 L322.00,330.77 L322.25,330.79 L322.50,330.88 L322.75,331.05 L323.00,331.29 L323.25,331.59 L323.50,331.94 L323.75,332.35 L324.00,332.81 L324.25,333.31 L324.50,333.85 L324.75,334.42 L325.00,335.02 L325.25,335.64 L325.50,336.28 L325.75,336.94 L326.00,337.60 L326.25,338.27 L326.50,338.93 L326.75,339.59 L327.00,340.24 L327.25,340.87 L327.50,341.49 L327.75,342.07 L328.00,342.63 L328.25,343.15 L328.50,343.63 L328.75,344.06 L329.00,344.44 L329.25,344.77 L329.50,345.04 L329.75,345.24 L330.00,345.37 L330.25,345.43 L330.50,345.41 L330.75,345.31 L331.00,345.14 L331.25,344.91 L331.50,344.62 L331.75,344.27 L332.00,343.87 L332.25,343.42 L332.50,342.93 L332.75,342.40 L333.00,341.85 L333.25,341.26 L333.50,340.65 L333.75,340.03 L334.00,339.39 L334.25,338.75 L334.50,338.10 L334.75,337.45 L335.00,336.81 L335.25,336.18 L335.50,335.56 L335.75,334.97 L336.00,334.40 L336.25,333.86 L336.50,333.36 L336.75,332.89 L337.00,332.48 L337.25,332.11 L337.50,331.79 L337.75,331.53 L338.00,331.34 L338.25,331.22 L338.50,331.17 L338.75,331.19 L339.00,331.29 L339.25,331.46 L339.50,331.69 L339.75,331.98 L340.00,332.32 L340.25,332.71 L340.50,333.15 L340.75,333.63 L341.00,334.14 L341.25,334.69 L341.50,335.26 L341.75,335.85 L342.00,336.46 L342.25,337.08 L342.50,337.71 L342.75,338.34 L343.00,338.97 L343.25,339.59 L343.50,340.20 L343.75,340.80 L344.00,341.38 L344.25,341.93 L344.50,342.45 L344.75,342.94 L345.00,343.39 L345.25,343.79 L345.50,344.15 L345.75,344.45 L346.00,344.70 L346.25,344.88 L346.50,345.00 L346.75,345.04 L347.00,345.01 L347.25,344.91 L347.50,344.75 L347.75,344.52 L348.00,344.24 L348.25,343.90 L348.50,343.51 L348.75,343.09 L349.00,342.62 L349.25,342.12 L349.50,341.59 L349.75,341.03 L350.00,340.45 L350.25,339.86 L350.50,339.26 L350.75,338.64 L351.00,338.03 L351.25,337.42 L351.50,336.81 L351.75,336.21 L352.00,335.63 L352.25,335.07 L352.50,334.54 L352.75,334.03 L353.00,333.56 L353.25,333.13 L353.50,332.74 L353.75,332.39 L354.00,332.10 L354.25,331.87 L354.50,331.69 L354.75,331.58 L355.00,331.54 L355.25,331.57 L355.50,331.68 L355.75,331.84 L356.00,332.07 L356.25,332.35 L356.50,332.68 L356.75,333.05 L357.00,333.47 L357.25,333.93 L357.50,334.42 L357.75,334.94 L358.00,335.48 L358.25,336.04 L358.50,336.62 L358.75,337.21 L359.00,337.80 L359.25,338.40 L359.50,339.00 L359.75,339.59 L360.00,340.17 L360.25,340.73 L360.50,341.27 L360.75,341.79 L361.00,342.28 L361.25,342.74 L361.50,343.16 L361.75,343.54 L362.00,343.87 L362.25,344.15 L362.50,344.38 L362.75,344.54 L363.00,344.64 L363.25,344.68 L363.50,344.64 L363.75,344.54 L364.00,344.38 L364.25,344.15 L364.50,343.88 L364.75,343.55 L365.00,343.18 L365.25,342.77 L365.50,342.33 L365.75,341.85 L366.00,341.34 L366.25,340.81 L366.50,340.27 L366.75,339.70 L367.00,339.13 L367.25,338.55 L367.50,337.97 L367.75,337.39 L368.00,336.82 L368.25,336.25 L368.50,335.71 L368.75,335.18 L369.00,334.68 L369.25,334.20 L369.50,333.76 L369.75,333.35 L370.00,332.99 L370.25,332.67 L370.50,332.40 L370.75,332.18 L371.00,332.02 L371.25,331.93 L371.50,331.90 L371.75,331.94 L372.00,332.04 L372.25,332.20 L372.50,332.42 L372.75,332.69 L373.00,333.01 L373.25,333.37 L373.50,333.77 L373.75,334.21 L374.00,334.68 L374.25,335.17 L374.50,335.69 L374.75,336.22 L375.00,336.77 L375.25,337.33 L375.50,337.89 L375.75,338.46 L376.00,339.02 L376.25,339.58 L376.50,340.13 L376.75,340.66 L377.00,341.17 L377.25,341.66 L377.50,342.12 L377.75,342.55 L378.00,342.94 L378.25,343.29 L378.50,343.60 L378.75,343.86 L379.00,344.07 L379.25,344.22 L379.50,344.31 L379.75,344.33 L380.00,344.29 L380.25,344.19 L380.50,344.02 L380.75,343.81 L381.00,343.54 L381.25,343.23 L381.50,342.87 L381.75,342.48 L382.00,342.05 L382.25,341.60 L382.50,341.12 L382.75,340.61 L383.00,340.09 L383.25,339.56 L383.50,339.01 L383.75,338.46 L384.00,337.91 L384.25,337.37 L384.50,336.82 L384.75,336.29 L385.00,335.78 L385.25,335.28 L385.50,334.81 L385.75,334.36 L386.00,333.95 L386.25,333.57 L386.50,333.23 L386.75,332.93 L387.00,332.68 L387.25,332.48 L387.50,332.34 L387.75,332.26 L388.00,332.24 L388.25,332.28 L388.50,332.38 L388.75,332.55 L389.00,332.76 L389.25,333.02 L389.50,333.33 L389.75,333.68 L390.00,334.06 L390.25,334.48 L390.50,334.92 L390.75,335.39 L391.00,335.88 L391.25,336.39 L391.50,336.91 L391.75,337.44 L392.00,337.97 L392.25,338.51 L392.50,339.04 L392.75,339.57 L393.00,340.08 L393.25,340.58 L393.50,341.07 L393.75,341.53 L394.00,341.96 L394.25,342.36 L394.50,342.73 L394.75,343.06 L395.00,343.34 L395.25,343.58 L395.50,343.77 L395.75,343.91 L396.00,343.99 L396.25,344.00 L396.50,343.96 L396.75,343.85 L397.00,343.69 L397.25,343.48 L397.50,343.22 L397.75,342.92 L398.00,342.58 L398.25,342.21 L398.50,341.80 L398.75,341.36 L399.00,340.90 L399.25,340.43 L399.50,339.93 L399.75,339.42 L400.00,338.91 L400.25,338.39 L400.50,337.87 L400.75,337.35 L401.00,336.84 L401.25,336.34 L401.50,335.85 L401.75,335.38 L402.00,334.94 L402.25,334.52 L402.50,334.13 L402.75,333.77 L403.00,333.46 L403.25,333.18 L403.50,332.95 L403.75,332.77 L404.00,332.64 L404.25,332.57 L404.50,332.56 L404.75,332.60 L405.00,332.71 L405.25,332.87 L405.50,333.08 L405.75,333.33 L406.00,333.63 L406.25,333.96 L406.50,334.33 L406.75,334.72 L407.00,335.15 L407.25,335.60 L407.50,336.06 L407.75,336.54 L408.00,337.04 L408.25,337.54 L408.50,338.05 L408.75,338.55 L409.00,339.06 L409.25,339.56 L409.50,340.04 L409.75,340.51 L410.00,340.97 L410.25,341.40 L410.50,341.80 L410.75,342.18 L411.00,342.53 L411.25,342.83 L411.50,343.10 L411.75,343.32 L412.00,343.49 L412.25,343.62 L412.50,343.68 L412.75,343.69 L413.00,343.64 L413.25,343.53 L413.50,343.38 L413.75,343.17 L414.00,342.92 L414.25,342.63 L414.50,342.31 L414.75,341.95 L415.00,341.56 L415.25,341.14 L415.50,340.71 L415.75,340.25 L416.00,339.78 L416.25,339.30 L416.50,338.81 L416.75,338.32 L417.00,337.83 L417.25,337.34 L417.50,336.85 L417.75,336.38 L418.00,335.92 L418.25,335.48 L418.50,335.06 L418.75,334.67 L419.00,334.31 L419.25,333.97 L419.50,333.68 L419.75,333.42 L420.00,333.21 L420.25,333.04 L420.50,332.93 L420.75,332.86 L421.00,332.86 L421.25,332.91 L421.50,333.02 L421.75,333.18 L422.00,333.38 L422.25,333.62 L422.50,333.91 L422.75,334.23 L423.00,334.58 L423.25,334.96 L423.50,335.36 L423.75,335.79 L424.00,336.23 L424.25,336.69 L424.50,337.16 L424.75,337.63 L425.00,338.11 L425.25,338.59 L425.50,339.07 L425.75,339.54 L426.00,340.00 L426.25,340.44 L426.50,340.87 L426.75,341.28 L427.00,341.66 L427.25,342.01 L427.50,342.33 L427.75,342.62 L428.00,342.86 L428.25,343.07 L428.50,343.23 L428.75,343.34 L429.00,343.39 L429.25,343.39 L429.50,343.34 L429.75,343.23 L430.00,343.08 L430.25,342.88 L430.50,342.64 L430.75,342.36 L431.00,342.05 L431.25,341.70 L431.50,341.33 L431.75,340.94 L432.00,340.52 L432.25,340.09 L432.50,339.64 L432.75,339.19 L433.00,338.72 L433.25,338.26 L433.50,337.79 L433.75,337.33 L434.00,336.87 L434.25,336.42 L434.50,335.99 L434.75,335.58 L435.00,335.19 L435.25,334.82 L435.50,334.47 L435.75,334.16 L436.00,333.89 L436.25,333.65 L436.50,333.45 L436.75,333.30 L437.00,333.20 L437.25,333.15 L437.50,333.15 L437.75,333.20 L438.00,333.31 L438.25,333.46 L438.50,333.66 L438.75,333.90 L439.00,334.17 L439.25,334.48 L439.50,334.81 L439.75,335.17 L440.00,335.56 L440.25,335.97 L440.50,336.39 L440.75,336.82 L441.00,337.27 L441.25,337.72 L441.50,338.17 L441.75,338.63 L442.00,339.08 L442.25,339.52 L442.50,339.95 L442.75,340.37 L443.00,340.77 L443.25,341.16 L443.50,341.51 L443.75,341.84 L444.00,342.14 L444.25,342.41 L444.50,342.64 L444.75,342.83 L445.00,342.97 L445.25,343.07 L445.50,343.12 L445.75,343.11 L446.00,343.05 L446.25,342.95 L446.50,342.80 L446.75,342.60 L447.00,342.37 L447.25,342.10 L447.50,341.80 L447.75,341.48 L448.00,341.12 L448.25,340.75 L448.50,340.35 L448.75,339.94 L449.00,339.51 L449.25,339.08 L449.50,338.64 L449.75,338.20 L450.00,337.76 L450.25,337.32 L450.50,336.89 L450.75,336.47 L451.00,336.06 L451.25,335.67 L451.50,335.30 L451.75,334.96 L452.00,334.64 L452.25,334.35 L452.50,334.09 L452.75,333.87 L453.00,333.69 L453.25,333.55 L453.50,333.46 L453.75,333.41 L454.00,333.42 L454.25,333.48 L454.50,333.59 L454.75,333.74 L455.00,333.93 L455.25,334.16 L455.50,334.42 L455.75,334.71 L456.00,335.03 L456.25,335.38 L456.50,335.75 L456.75,336.13 L457.00,336.53 L457.25,336.95 L457.50,337.37 L457.75,337.80 L458.00,338.23 L458.25,338.65 L458.50,339.08 L458.75,339.50 L459.00,339.91 L459.25,340.30 L459.50,340.68 L459.75,341.04 L460.00,341.38 L460.25,341.69 L460.50,341.97 L460.75,342.21 L461.00,342.43 L461.25,342.60 L461.50,342.73 L461.75,342.82 L462.00,342.86 L462.25,342.85 L462.50,342.79 L462.75,342.68 L463.00,342.53 L463.25,342.34 L463.50,342.12 L463.75,341.86 L464.00,341.58 L464.25,341.26 L464.50,340.92 L464.75,340.57 L465.00,340.19 L465.25,339.80 L465.50,339.40 L465.75,338.98 L466.00,338.57 L466.25,338.15 L466.50,337.73 L466.75,337.32 L467.00,336.91 L467.25,336.52 L467.50,336.13 L467.75,335.76 L468.00,335.42 L468.25,335.09 L468.50,334.79 L468.75,334.52 L469.00,334.28 L469.25,334.08 L469.50,333.91 L469.75,333.78 L470.00,333.70 L470.25,333.67 L470.50,333.68 L470.75,333.74 L471.00,333.85 L471.25,334.00 L471.50,334.18 L471.75,334.40 L472.00,334.65 L472.25,334.93 L472.50,335.24 L472.75,335.57 L473.00,335.92 L473.25,336.29 L473.50,336.67 L473.75,337.06 L474.00,337.46 L474.25,337.87 L474.50,338.27 L474.75,338.68 L475.00,339.08 L475.25,339.48 L475.50,339.86 L475.75,340.23 L476.00,340.59 L476.25,340.93 L476.50,341.24 L476.75,341.53 L477.00,341.79 L477.25,342.03 L477.50,342.22 L477.75,342.38 L478.00,342.50 L478.25,342.58 L478.50,342.61 L478.75,342.59 L479.00,342.53 L479.25,342.43 L479.50,342.28 L479.75,342.10 L480.00,341.88 L480.25,341.64 L480.50,341.36 L480.75,341.06 L481.00,340.74 L481.25,340.40 L481.50,340.04 L481.75,339.67 L482.00,339.29 L482.25,338.90 L482.50,338.50 L482.75,338.11 L483.00,337.71 L483.25,337.32 L483.50,336.94 L483.75,336.56 L484.00,336.20 L484.25,335.85 L484.50,335.53 L484.75,335.22 L485.00,334.94 L485.25,334.69 L485.50,334.47 L485.75,334.28 L486.00,334.12 L486.25,334.01 L486.50,333.94 L486.75,333.91 L487.00,333.93 L487.25,333.99 L487.50,334.10 L487.75,334.24 L488.00,334.42 L488.25,334.63 L488.50,334.87 L488.75,335.14 L489.00,335.43 L489.25,335.75 L489.50,336.08 L489.75,336.43 L490.00,336.79 L490.25,337.17 L490.50,337.55 L490.75,337.93 L491.00,338.32 L491.25,338.70 L491.50,339.08 L491.75,339.45 L492.00,339.82 L492.25,340.17 L492.50,340.50 L492.75,340.82 L493.00,341.11 L493.25,341.39 L493.50,341.63 L493.75,341.85 L494.00,342.03 L494.25,342.18 L494.50,342.28 L494.75,342.35 L495.00,342.38 L495.25,342.35 L495.50,342.29 L495.75,342.19 L496.00,342.04 L496.25,341.87 L496.50,341.66 L496.75,341.42 L497.00,341.16 L497.25,340.87 L497.50,340.57 L497.75,340.24 L498.00,339.90 L498.25,339.55 L498.50,339.18 L498.75,338.81 L499.00,338.44 L499.25,338.07 L499.50,337.69 L499.75,337.32 L500.00,336.96 L500.25,336.61 L500.50,336.27 L500.75,335.94 L501.00,335.63 L501.25,335.35 L501.50,335.09 L501.75,334.85 L502.00,334.64 L502.25,334.47 L502.50,334.33 L502.75,334.22 L503.00,334.16 L503.25,334.14 L503.50,334.16 L503.75,334.23 L504.00,334.33 L504.25,334.47 L504.50,334.64 L504.75,334.85 L505.00,335.08 L505.25,335.34 L505.50,335.62 L505.75,335.92 L506.00,336.23 L506.25,336.57 L506.50,336.91 L506.75,337.26 L507.00,337.62 L507.25,337.99 L507.50,338.35 L507.75,338.72 L508.00,339.08 L508.25,339.43 L508.50,339.77 L508.75,340.10 L509.00,340.42 L509.25,340.71 L509.50,340.99 L509.75,341.24 L510.00,341.47 L510.25,341.67 L510.50,341.84 L510.75,341.98 L511.00,342.08 L511.25,342.13 L511.50,342.15 L511.75,342.13 L512.00,342.06 L512.25,341.96 L512.50,341.82 L512.75,341.65 L513.00,341.45 L513.25,341.22 L513.50,340.97 L513.75,340.70 L514.00,340.40 L514.25,340.09 L514.50,339.77 L514.75,339.43 L515.00,339.09 L515.25,338.74 L515.50,338.38 L515.75,338.03 L516.00,337.68 L516.25,337.33 L516.50,336.99 L516.75,336.65 L517.00,336.33 L517.25,336.03 L517.50,335.74 L517.75,335.47 L518.00,335.22 L518.25,335.00 L518.50,334.81 L518.75,334.65 L519.00,334.52 L519.25,334.42 L519.50,334.37 L519.75,334.36 L520.00,334.38 L520.25,334.45 L520.50,334.55 L520.75,334.69 L521.00,334.85 L521.25,335.05 L521.50,335.27 L521.75,335.52 L522.00,335.79 L522.25,336.07 L522.50,336.38 L522.75,336.69 L523.00,337.02 L523.25,337.36 L523.50,337.70 L523.75,338.04 L524.00,338.39 L524.25,338.73 L524.50,339.07 L524.75,339.40 L525.00,339.72 L525.25,340.04 L525.50,340.33 L525.75,340.61 L526.00,340.87 L526.25,341.11 L526.50,341.32 L526.75,341.51 L527.00,341.66 L527.25,341.79 L527.50,341.88 L527.75,341.93 L528.00,341.94 L528.25,341.91 L528.50,341.85 L528.75,341.74 L529.00,341.61 L529.25,341.44 L529.50,341.25 L529.75,341.03 L530.00,340.79 L530.25,340.53 L530.50,340.25 L530.75,339.96 L531.00,339.65 L531.25,339.33 L531.50,339.00 L531.75,338.67 L532.00,338.33 L532.25,338.00 L532.50,337.66 L532.75,337.33 L533.00,337.01 L533.25,336.70 L533.50,336.40 L533.75,336.11 L534.00,335.84 L534.25,335.59 L534.50,335.36 L534.75,335.15 L535.00,334.97 L535.25,334.82 L535.50,334.70 L535.75,334.62 L536.00,334.57 L536.25,334.56 L536.50,334.59 L536.75,334.66 L537.00,334.76 L537.25,334.89 L537.50,335.05 L537.75,335.24 L538.00,335.46 L538.25,335.69 L538.50,335.95 L538.75,336.22 L539.00,336.51 L539.25,336.81 L539.50,337.12 L539.75,337.44 L540.00,337.76 L540.25,338.09 L540.50,338.42 L540.75,338.74 L541.00,339.06 L541.25,339.37 L541.50,339.68 L541.75,339.97 L542.00,340.25 L542.25,340.51 L542.50,340.76 L542.75,340.98 L543.00,341.18 L543.25,341.35 L543.50,341.50 L543.75,341.61 L544.00,341.69 L544.25,341.73 L544.50,341.74 L544.75,341.71 L545.00,341.64 L545.25,341.54 L545.50,341.41 L545.75,341.25 L546.00,341.06 L546.25,340.86 L546.50,340.62 L546.75,340.37 L547.00,340.11 L547.25,339.83 L547.50,339.53 L547.75,339.23 L548.00,338.92 L548.25,338.61 L548.50,338.29 L548.75,337.97 L549.00,337.66 L549.25,337.34 L549.50,337.04 L549.75,336.74 L550.00,336.46 L550.25,336.19 L550.50,335.93 L550.75,335.70 L551.00,335.48 L551.25,335.29 L551.50,335.13 L551.75,334.99 L552.00,334.88 L552.25,334.80 L552.50,334.76 L552.75,334.76 L553.00,334.79 L553.25,334.86 L553.50,334.96 L553.75,335.09 L554.00,335.24 L554.25,335.42 L554.50,335.63 L554.75,335.86 L555.00,336.10 L555.25,336.36 L555.50,336.63 L555.75,336.92 L556.00,337.21 L556.25,337.52 L556.50,337.82 L556.75,338.13 L557.00,338.44 L557.25,338.75 L557.50,339.05 L557.75,339.35 L558.00,339.63 L558.25,339.91 L558.50,340.17 L558.75,340.42 L559.00,340.65 L559.25,340.85 L559.50,341.04 L559.75,341.20 L560.00,341.33 L560.25,341.44 L560.50,341.51 L560.75,341.55 L561.00,341.55 L561.25,341.51 L561.50,341.45 L561.75,341.35 L562.00,341.22 L562.25,341.07 L562.50,340.89 L562.75,340.69 L563.00,340.47 L563.25,340.23 L563.50,339.98 L563.75,339.71 L564.00,339.43 L564.25,339.14 L564.50,338.85 L564.75,338.55 L565.00,338.25 L565.25,337.95 L565.50,337.65 L565.75,337.35 L566.00,337.07 L566.25,336.79 L566.50,336.52 L566.75,336.27 L567.00,336.03 L567.25,335.81 L567.50,335.61 L567.75,335.43 L568.00,335.27 L568.25,335.14 L568.50,335.05 L568.75,334.98 L569.00,334.94 L569.25,334.94 L569.50,334.98 L569.75,335.05 L570.00,335.14 L570.25,335.27 L570.50,335.42 L570.75,335.60 L571.00,335.79 L571.25,336.01 L571.50,336.24 L571.75,336.49 L572.00,336.75 L572.25,337.02 L572.50,337.30 L572.75,337.59 L573.00,337.88 L573.25,338.17 L573.50,338.46 L573.75,338.75 L574.00,339.04 L574.25,339.32 L574.50,339.59 L574.75,339.85 L575.00,340.10 L575.25,340.33 L575.50,340.54 L575.75,340.74 L576.00,340.91 L576.25,341.06 L576.50,341.18 L576.75,341.27 L577.00,341.34 L577.25,341.37 L577.50,341.37 L577.75,341.33 L578.00,341.26 L578.25,341.17 L578.50,341.04 L578.75,340.90 L579.00,340.72 L579.25,340.53 L579.50,340.32 L579.75,340.09 L580.00,339.85 L580.25,339.60 L580.50,339.33 L580.75,339.06 L581.00,338.78 L581.25,338.50 L581.50,338.21 L581.75,337.93 L582.00,337.64 L582.25,337.37 L582.50,337.10 L582.75,336.83 L583.00,336.58 L583.25,336.34 L583.50,336.12 L583.75,335.91 L584.00,335.72 L584.25,335.56 L584.50,335.41 L584.75,335.29 L585.00,335.20 L585.25,335.14 L585.50,335.11 L585.75,335.12 L586.00,335.16 L586.25,335.22 L586.50,335.32 L586.75,335.44 L587.00,335.59 L587.25,335.76 L587.50,335.94 L587.75,336.15 L588.00,336.37 L588.25,336.61 L588.50,336.86 L588.75,337.12 L589.00,337.38 L589.25,337.65 L589.50,337.93 L589.75,338.21 L590.00,338.48 L590.25,338.76 L590.50,339.03 L590.75,339.29 L591.00,339.55 L591.25,339.79 L591.50,340.02 L591.75,340.24 L592.00,340.44 L592.25,340.62 L592.50,340.78 L592.75,340.92 L593.00,341.03 L593.25,341.12 L593.50,341.18 L593.75,341.20 L594.00,341.20 L594.25,341.16 L594.50,341.09 L594.75,341.00 L595.00,340.88 L595.25,340.73 L595.50,340.57 L595.75,340.38 L596.00,340.18 L596.25,339.96 L596.50,339.73 L596.75,339.49 L597.00,339.24 L597.25,338.98 L597.50,338.72 L597.75,338.45 L598.00,338.18 L598.25,337.91 L598.50,337.64 L598.75,337.38 L599.00,337.12 L599.25,336.88 L599.50,336.64 L599.75,336.41 L600.00,336.20 L600.25,336.01 L600.50,335.84 L600.75,335.68 L601.00,335.55 L601.25,335.44 L601.50,335.36 L601.75,335.30 L602.00,335.28 L602.25,335.29 L602.50,335.33 L602.75,335.39 L603.00,335.49 L603.25,335.60 L603.50,335.74 L603.75,335.91 L604.00,336.09 L604.25,336.28 L604.50,336.50 L604.75,336.72 L605.00,336.96 L605.25,337.20 L605.50,337.46 L605.75,337.71 L606.00,337.97 L606.25,338.24 L606.50,338.50 L606.75,338.76 L607.00,339.01 L607.25,339.26 L607.50,339.50 L607.75,339.73 L608.00,339.95 L608.25,340.15 L608.50,340.34 L608.75,340.51 L609.00,340.66 L609.25,340.79 L609.50,340.89 L609.75,340.97 L610.00,341.02 L610.25,341.04 L610.50,341.03 L610.75,340.99 L611.00,340.93 L611.25,340.83 L611.50,340.72 L611.75,340.58 L612.00,340.42 L612.25,340.24 L612.50,340.05 L612.75,339.84 L613.00,339.63 L613.25,339.39 L613.50,339.16 L613.75,338.91 L614.00,338.66 L614.25,338.40 L614.50,338.15 L614.75,337.89 L615.00,337.64 L615.25,337.39 L615.50,337.15 L615.75,336.92 L616.00,336.70 L616.25,336.49 L616.50,336.29 L616.75,336.11 L617.00,335.94 L617.25,335.80 L617.50,335.68 L617.75,335.58 L618.00,335.50 L618.25,335.45 L618.50,335.43 L618.75,335.45 L619.00,335.49 L619.25,335.55 L619.50,335.64 L619.75,335.76 L620.00,335.89 L620.25,336.05 L620.50,336.22 L620.75,336.41 L621.00,336.61 L621.25,336.83 L621.50,337.05 L621.75,337.28 L622.00,337.52 L622.25,337.77 L622.50,338.02 L622.75,338.26 L623.00,338.51 L623.25,338.76 L623.50,339.00 L623.75,339.23 L624.00,339.46 L624.25,339.68 L624.50,339.88 L624.75,340.07 L625.00,340.25 L625.25,340.41 L625.50,340.54 L625.75,340.66 L626.00,340.76 L626.25,340.83 L626.50,340.87 L626.75,340.89 L627.00,340.88 L627.25,340.84 L627.50,340.77 L627.75,340.68 L628.00,340.57 L628.25,340.44 L628.50,340.28 L628.75,340.11 L629.00,339.93 L629.25,339.73 L629.50,339.52 L629.75,339.30 L630.00,339.08 L630.25,338.84 L630.50,338.61 L630.75,338.36 L631.00,338.12 L631.25,337.88 L631.50,337.64 L631.75,337.41 L632.00,337.18 L632.25,336.96 L632.50,336.75 L632.75,336.55 L633.00,336.37 L633.25,336.20 L633.50,336.05 L633.75,335.91 L634.00,335.80 L634.25,335.71 L634.50,335.64 L634.75,335.60 L635.00,335.58 L635.25,335.60 L635.50,335.64 L635.75,335.70 L636.00,335.79 L636.25,335.90 L636.50,336.03 L636.75,336.18 L637.00,336.35 L637.25,336.53 L637.50,336.72 L637.75,336.93 L638.00,337.14 L638.25,337.36 L638.50,337.59 L638.75,337.82 L639.00,338.05 L639.25,338.29 L639.50,338.52 L639.75,338.76 L640.00,338.98 L640.25,339.20 L640.50,339.42 L640.75,339.62 L641.00,339.81 L641.25,339.99 L641.50,340.16 L641.75,340.30 L642.00,340.43 L642.25,340.54 L642.50,340.63 L642.75,340.70 L643.00,340.74 L643.25,340.75 L643.50,340.73 L643.75,340.69 L644.00,340.63 L644.25,340.54 L644.50,340.43 L644.75,340.30 L645.00,340.15 L645.25,339.99 L645.50,339.82 L645.75,339.63 L646.00,339.43 L646.25,339.22 L646.50,339.00 L646.75,338.78 L647.00,338.56 L647.25,338.33 L647.50,338.10 L647.75,337.87 L648.00,337.65 L648.25,337.43 L648.50,337.21 L648.75,337.00 L649.00,336.81 L649.25,336.62 L649.50,336.45 L649.75,336.29 L650.00,336.14 L650.25,336.02 L650.50,335.91 L650.75,335.83 L651.00,335.77 L651.25,335.73 L651.50,335.72 L651.75,335.74 L652.00,335.78 L652.25,335.84 L652.50,335.93 L652.75,336.04 L653.00,336.17 L653.25,336.31 L653.50,336.47 L653.75,336.64 L654.00,336.82 L654.25,337.02 L654.50,337.22 L654.75,337.43 L655.00,337.65 L655.25,337.87 L655.50,338.09 L655.75,338.31 L656.00,338.53 L656.25,338.75 L656.50,338.97 L656.75,339.17 L657.00,339.38 L657.25,339.57 L657.50,339.75 L657.75,339.92 L658.00,340.07 L658.25,340.21 L658.50,340.33 L658.75,340.43 L659.00,340.51 L659.25,340.57 L659.50,340.60 L659.75,340.61 L660.00,340.59 L660.25,340.55 L660.50,340.49 L660.75,340.40 L661.00,340.30 L661.25,340.17 L661.50,340.03 L661.75,339.88 L662.00,339.71 L662.25,339.53 L662.50,339.34 L662.75,339.14 L663.00,338.94 L663.25,338.73 L663.50,338.51 L663.75,338.30 L664.00,338.08 L664.25,337.86 L664.50,337.65 L664.75,337.44 L665.00,337.24 L665.25,337.05 L665.50,336.86 L665.75,336.68 L666.00,336.52 L666.25,336.37 L666.50,336.24 L666.75,336.12 L667.00,336.03 L667.25,335.95 L667.50,335.89 L667.75,335.86 L668.00,335.85 L668.00,335.85" fill="none" stroke="#ff0000" stroke-width="2.3" stroke-linejoin="round" stroke-linecap="butt" clip-path="url(#ca)"/>
<line x1="92.8" y1="232.4" x2="668.0" y2="232.4" stroke="#707070" stroke-width="2" stroke-dasharray="7.4 3.2" clip-path="url(#ca)"/>
<path d="M93.00,395.00 L93.25,383.13 L93.50,371.46 L93.75,360.02 L94.00,348.81 L94.25,337.83 L94.50,327.17 L94.75,316.76 L95.00,306.49 L95.25,296.22 L95.50,285.83 L95.75,275.39 L96.00,264.94 L96.25,254.52 L96.50,244.13 L96.75,233.77 L97.00,223.28 L97.25,212.86 L97.50,202.74 L97.75,193.12 L98.00,183.95 L98.25,175.11 L98.50,166.59 L98.75,158.37 L99.00,150.15 L99.25,141.95 L99.50,134.00 L99.75,126.53 L100.00,119.76 L100.25,113.90 L100.50,108.49 L100.75,103.40 L101.00,98.83 L101.25,94.97 L101.50,92.00 L101.75,89.54 L102.00,87.26 L102.25,85.47 L102.50,84.50 L102.75,84.64 L103.00,86.07 L103.25,88.72 L103.50,92.52 L103.75,97.40 L104.00,103.29 L104.25,110.12 L104.50,117.81 L104.75,126.29 L105.00,135.50 L105.25,145.35 L105.50,155.78 L105.75,166.71 L106.00,178.07 L106.25,189.80 L106.50,201.81 L106.75,214.03 L107.00,226.41 L107.25,238.85 L107.50,251.29 L107.75,263.67 L108.00,275.89 L108.25,287.90 L108.50,299.63 L108.75,310.99 L109.00,321.92 L109.25,332.35 L109.50,342.20 L109.75,351.41 L110.00,359.89 L110.25,367.58 L110.50,374.41 L110.75,380.30 L111.00,385.18 L111.25,388.98 L111.50,391.63 L111.75,393.06 L112.00,393.19 L112.25,392.01 L112.50,389.57 L112.75,385.94 L113.00,381.21 L113.25,375.44 L113.50,368.70 L113.75,361.06 L114.00,352.59 L114.25,343.37 L114.50,333.47 L114.75,322.95 L115.00,311.89 L115.25,300.36 L115.50,288.43 L115.75,276.18 L116.00,263.67 L116.25,250.97 L116.50,238.16 L116.75,225.31 L117.00,212.48 L117.25,199.76 L117.50,187.20 L117.75,174.89 L118.00,162.89 L118.25,151.28 L118.50,140.12 L118.75,129.49 L119.00,119.46 L119.25,110.10 L119.50,101.47 L119.75,93.66 L120.00,86.74 L120.25,80.76 L120.50,75.82 L120.75,71.97 L121.00,69.28 L121.25,67.84 L121.50,67.72 L121.75,69.00 L122.00,71.63 L122.25,75.53 L122.50,80.62 L122.75,86.81 L123.00,94.03 L123.25,102.19 L123.50,111.21 L123.75,121.02 L124.00,131.52 L124.25,142.64 L124.50,154.30 L124.75,166.41 L125.00,178.90 L125.25,191.68 L125.50,204.68 L125.75,217.80 L126.00,230.97 L126.25,244.11 L126.50,257.13 L126.75,269.96 L127.00,282.52 L127.25,294.71 L127.50,306.47 L127.75,317.70 L128.00,328.34 L128.25,338.29 L128.50,347.47 L128.75,355.81 L129.00,363.23 L129.25,369.63 L129.50,374.95 L129.75,379.09 L130.00,381.98 L130.25,383.54 L130.50,383.71 L130.75,382.66 L131.00,380.50 L131.25,377.30 L131.50,373.13 L131.75,368.03 L132.00,362.09 L132.25,355.35 L132.50,347.89 L132.75,339.77 L133.00,331.05 L133.25,321.79 L133.50,312.07 L133.75,301.94 L134.00,291.46 L134.25,280.71 L134.50,269.73 L134.75,258.61 L135.00,247.40 L135.25,236.16 L135.50,224.96 L135.75,213.86 L136.00,202.92 L136.25,192.22 L136.50,181.81 L136.75,171.75 L137.00,162.11 L137.25,152.96 L137.50,144.36 L137.75,136.36 L138.00,129.04 L138.25,122.46 L138.50,116.68 L138.75,111.76 L139.00,107.78 L139.25,104.78 L139.50,102.84 L139.75,102.02 L140.00,102.32 L140.25,103.58 L140.50,105.75 L140.75,108.77 L141.00,112.60 L141.25,117.18 L141.50,122.45 L141.75,128.37 L142.00,134.87 L142.25,141.91 L142.50,149.43 L142.75,157.37 L143.00,165.70 L143.25,174.34 L143.50,183.25 L143.75,192.38 L144.00,201.66 L144.25,211.05 L144.50,220.50 L144.75,229.95 L145.00,239.34 L145.25,248.62 L145.50,257.75 L145.75,266.66 L146.00,275.30 L146.25,283.63 L146.50,291.57 L146.75,299.09 L147.00,306.13 L147.25,312.63 L147.50,318.55 L147.75,323.82 L148.00,328.40 L148.25,332.23 L148.50,335.25 L148.75,337.42 L149.00,338.68 L149.25,338.98 L149.50,338.41 L149.75,337.06 L150.00,334.98 L150.25,332.20 L150.50,328.78 L150.75,324.76 L151.00,320.19 L151.25,315.10 L151.50,309.55 L151.75,303.57 L152.00,297.22 L152.25,290.54 L152.50,283.57 L152.75,276.36 L153.00,268.96 L153.25,261.40 L153.50,253.73 L153.75,246.00 L154.00,238.25 L154.25,230.53 L154.50,222.88 L154.75,215.35 L155.00,207.98 L155.25,200.81 L155.50,193.90 L155.75,187.28 L156.00,181.00 L156.25,175.11 L156.50,169.64 L156.75,164.66 L157.00,160.19 L157.25,156.28 L157.50,152.99 L157.75,150.35 L158.00,148.41 L158.25,147.21 L158.50,146.80 L158.75,147.15 L159.00,148.16 L159.25,149.81 L159.50,152.04 L159.75,154.83 L160.00,158.13 L160.25,161.89 L160.50,166.10 L160.75,170.69 L161.00,175.64 L161.25,180.90 L161.50,186.44 L161.75,192.22 L162.00,198.19 L162.25,204.31 L162.50,210.56 L162.75,216.89 L163.00,223.25 L163.25,229.61 L163.50,235.94 L163.75,242.19 L164.00,248.31 L164.25,254.28 L164.50,260.06 L164.75,265.60 L165.00,270.86 L165.25,275.81 L165.50,280.40 L165.75,284.61 L166.00,288.37 L166.25,291.67 L166.50,294.46 L166.75,296.69 L167.00,298.34 L167.25,299.35 L167.50,299.70 L167.75,299.45 L168.00,298.70 L168.25,297.49 L168.50,295.85 L168.75,293.79 L169.00,291.36 L169.25,288.58 L169.50,285.47 L169.75,282.07 L170.00,278.40 L170.25,274.49 L170.50,270.37 L170.75,266.06 L171.00,261.60 L171.25,257.01 L171.50,252.32 L171.75,247.55 L172.00,242.74 L172.25,237.92 L172.50,233.11 L172.75,228.33 L173.00,223.62 L173.25,219.01 L173.50,214.52 L173.75,210.18 L174.00,206.02 L174.25,202.06 L174.50,198.34 L174.75,194.88 L175.00,191.72 L175.25,188.87 L175.50,186.36 L175.75,184.23 L176.00,182.50 L176.25,181.21 L176.50,180.37 L176.75,180.01 L177.00,180.14 L177.25,180.68 L177.50,181.60 L177.75,182.89 L178.00,184.52 L178.25,186.46 L178.50,188.69 L178.75,191.18 L179.00,193.91 L179.25,196.85 L179.50,199.98 L179.75,203.28 L180.00,206.71 L180.25,210.26 L180.50,213.90 L180.75,217.60 L181.00,221.35 L181.25,225.10 L181.50,228.85 L181.75,232.56 L182.00,236.22 L182.25,239.79 L182.50,243.24 L182.75,246.57 L183.00,249.74 L183.25,252.72 L183.50,255.49 L183.75,258.03 L184.00,260.32 L184.25,262.32 L184.50,264.01 L184.75,265.37 L185.00,266.37 L185.25,266.99 L185.50,267.20 L185.75,267.08 L186.00,266.73 L186.25,266.16 L186.50,265.38 L186.75,264.42 L187.00,263.27 L187.25,261.97 L187.50,260.51 L187.75,258.91 L188.00,257.19 L188.25,255.36 L188.50,253.44 L188.75,251.43 L189.00,249.35 L189.25,247.21 L189.50,245.03 L189.75,242.82 L190.00,240.60 L190.25,238.37 L190.50,236.15 L190.75,233.96 L191.00,231.80 L191.25,229.70 L191.50,227.66 L191.75,225.70 L192.00,223.83 L192.25,222.06 L192.50,220.41 L192.75,218.90 L193.00,217.53 L193.25,216.32 L193.50,215.28 L193.75,214.43 L194.00,213.77 L194.25,213.33 L194.50,213.12 L194.75,213.12 L195.00,213.23 L195.25,213.44 L195.50,213.74 L195.75,214.12 L196.00,214.59 L196.25,215.13 L196.50,215.74 L196.75,216.42 L197.00,217.15 L197.25,217.94 L197.50,218.77 L197.75,219.65 L198.00,220.57 L198.25,221.51 L198.50,222.49 L198.75,223.49 L199.00,224.50 L199.25,225.52 L199.50,226.55 L199.75,227.58 L200.00,228.60 L200.25,229.61 L200.50,230.61 L200.75,231.59 L201.00,232.53 L201.25,233.45 L201.50,234.33 L201.75,235.16 L202.00,235.95 L202.25,236.68 L202.50,237.36 L202.75,237.97 L203.00,238.51 L203.25,238.98 L203.50,239.36 L203.75,239.66 L204.00,239.87 L204.25,239.98 L204.50,240.00 L204.75,239.97 L205.00,239.92 L205.25,239.85 L205.50,239.75 L205.75,239.62 L206.00,239.48 L206.25,239.32 L206.50,239.14 L206.75,238.94 L207.00,238.73 L207.25,238.51 L207.50,238.27 L207.75,238.02 L208.00,237.76 L208.25,237.49 L208.50,237.22 L208.75,236.94 L209.00,236.66 L209.25,236.37 L209.50,236.08 L209.75,235.79 L210.00,235.51 L210.25,235.22 L210.50,234.94 L210.75,234.67 L211.00,234.40 L211.25,234.12 L211.50,233.83 L211.75,233.51 L212.00,233.18 L212.25,232.84 L212.50,232.49 L212.75,232.13 L213.00,231.76 L213.25,231.40 L213.50,231.03 L213.75,230.67 L214.00,230.32 L214.25,229.97 L214.50,229.64 L214.75,229.32 L215.00,229.02 L215.25,228.75 L215.50,228.46 L215.75,228.17 L216.00,227.87 L216.25,227.56 L216.50,227.26 L216.75,226.95 L217.00,226.65 L217.25,226.36 L217.50,226.08 L217.75,225.81 L218.00,225.56 L218.25,225.33 L218.50,225.13 L218.75,224.96 L219.00,224.81 L219.25,224.70 L219.50,224.63 L219.75,224.60 L220.00,224.63 L220.25,224.73 L220.50,224.91 L220.75,225.16 L221.00,225.48 L221.25,225.86 L221.50,226.29 L221.75,226.78 L222.00,227.32 L222.25,227.90 L222.50,228.52 L222.75,229.18 L223.00,229.87 L223.25,230.58 L223.50,231.32 L223.75,232.07 L224.00,232.84 L224.25,233.62 L224.50,234.40 L224.75,235.18 L225.00,235.96 L225.25,236.73 L225.50,237.48 L225.75,238.22 L226.00,238.93 L226.25,239.62 L226.50,240.28 L226.75,240.90 L227.00,241.48 L227.25,242.02 L227.50,242.51 L227.75,242.94 L228.00,243.32 L228.25,243.64 L228.50,243.89 L228.75,244.07 L229.00,244.17 L229.25,244.20 L229.50,244.12 L229.75,243.93 L230.00,243.63 L230.25,243.24 L230.50,242.76 L230.75,242.19 L231.00,241.54 L231.25,240.83 L231.50,240.04 L231.75,239.20 L232.00,238.31 L232.25,237.37 L232.50,236.39 L232.75,235.37 L233.00,234.33 L233.25,233.27 L233.50,232.20 L233.75,231.12 L234.00,230.03 L234.25,228.95 L234.50,227.89 L234.75,226.84 L235.00,225.81 L235.25,224.82 L235.50,223.86 L235.75,222.95 L236.00,222.09 L236.25,221.28 L236.50,220.53 L236.75,219.86 L237.00,219.26 L237.25,218.74 L237.50,218.31 L237.75,217.98 L238.00,217.75 L238.25,217.62 L238.50,217.61 L238.75,217.73 L239.00,217.98 L239.25,218.35 L239.50,218.83 L239.75,219.42 L240.00,220.11 L240.25,220.88 L240.50,221.74 L240.75,222.67 L241.00,223.67 L241.25,224.72 L241.50,225.83 L241.75,226.99 L242.00,228.18 L242.25,229.40 L242.50,230.64 L242.75,231.89 L243.00,233.15 L243.25,234.41 L243.50,235.66 L243.75,236.89 L244.00,238.10 L244.25,239.28 L244.50,240.42 L244.75,241.51 L245.00,242.54 L245.25,243.51 L245.50,244.42 L245.75,245.24 L246.00,245.98 L246.25,246.63 L246.50,247.17 L246.75,247.61 L247.00,247.93 L247.25,248.13 L247.50,248.20 L247.75,248.12 L248.00,247.88 L248.25,247.50 L248.50,246.99 L248.75,246.35 L249.00,245.59 L249.25,244.72 L249.50,243.76 L249.75,242.70 L250.00,241.57 L250.25,240.37 L250.50,239.11 L250.75,237.79 L251.00,236.44 L251.25,235.05 L251.50,233.64 L251.75,232.22 L252.00,230.79 L252.25,229.37 L252.50,227.97 L252.75,226.59 L253.00,225.24 L253.25,223.94 L253.50,222.69 L253.75,221.50 L254.00,220.38 L254.25,219.34 L254.50,218.40 L254.75,217.55 L255.00,216.82 L255.25,216.20 L255.50,215.71 L255.75,215.36 L256.00,215.15 L256.25,215.10 L256.50,215.22 L256.75,215.49 L257.00,215.90 L257.25,216.46 L257.50,217.14 L257.75,217.93 L258.00,218.84 L258.25,219.84 L258.50,220.94 L258.75,222.11 L259.00,223.36 L259.25,224.66 L259.50,226.02 L259.75,227.41 L260.00,228.84 L260.25,230.30 L260.50,231.76 L260.75,233.23 L261.00,234.70 L261.25,236.14 L261.50,237.57 L261.75,238.96 L262.00,240.31 L262.25,241.60 L262.50,242.83 L262.75,243.99 L263.00,245.06 L263.25,246.05 L263.50,246.93 L263.75,247.71 L264.00,248.36 L264.25,248.89 L264.50,249.28 L264.75,249.52 L265.00,249.60 L265.25,249.52 L265.50,249.29 L265.75,248.92 L266.00,248.42 L266.25,247.79 L266.50,247.05 L266.75,246.20 L267.00,245.26 L267.25,244.23 L267.50,243.12 L267.75,241.95 L268.00,240.71 L268.25,239.42 L268.50,238.09 L268.75,236.73 L269.00,235.34 L269.25,233.94 L269.50,232.54 L269.75,231.14 L270.00,229.75 L270.25,228.38 L270.50,227.04 L270.75,225.74 L271.00,224.50 L271.25,223.31 L271.50,222.18 L271.75,221.14 L272.00,220.18 L272.25,219.31 L272.50,218.55 L272.75,217.90 L273.00,217.37 L273.25,216.97 L273.50,216.71 L273.75,216.60 L274.00,216.65 L274.25,216.83 L274.50,217.15 L274.75,217.60 L275.00,218.16 L275.25,218.83 L275.50,219.60 L275.75,220.46 L276.00,221.40 L276.25,222.42 L276.50,223.50 L276.75,224.64 L277.00,225.82 L277.25,227.05 L277.50,228.30 L277.75,229.58 L278.00,230.87 L278.25,232.17 L278.50,233.46 L278.75,234.74 L279.00,236.01 L279.25,237.24 L279.50,238.43 L279.75,239.58 L280.00,240.67 L280.25,241.70 L280.50,242.66 L280.75,243.54 L281.00,244.32 L281.25,245.01 L281.50,245.60 L281.75,246.07 L282.00,246.41 L282.25,246.63 L282.50,246.70 L282.75,246.63 L283.00,246.44 L283.25,246.13 L283.50,245.71 L283.75,245.18 L284.00,244.56 L284.25,243.85 L284.50,243.06 L284.75,242.20 L285.00,241.27 L285.25,240.29 L285.50,239.26 L285.75,238.18 L286.00,237.07 L286.25,235.94 L286.50,234.78 L286.75,233.62 L287.00,232.45 L287.25,231.29 L287.50,230.14 L287.75,229.00 L288.00,227.90 L288.25,226.83 L288.50,225.81 L288.75,224.84 L289.00,223.92 L289.25,223.07 L289.50,222.30 L289.75,221.61 L290.00,221.00 L290.25,220.50 L290.50,220.10 L290.75,219.81 L291.00,219.64 L291.25,219.60 L291.50,219.68 L291.75,219.86 L292.00,220.14 L292.25,220.52 L292.50,220.97 L292.75,221.51 L293.00,222.12 L293.25,222.80 L293.50,223.53 L293.75,224.32 L294.00,225.15 L294.25,226.03 L294.50,226.93 L294.75,227.86 L295.00,228.81 L295.25,229.78 L295.50,230.75 L295.75,231.72 L296.00,232.69 L296.25,233.64 L296.50,234.57 L296.75,235.47 L297.00,236.35 L297.25,237.18 L297.50,237.97 L297.75,238.70 L298.00,239.38 L298.25,239.99 L298.50,240.53 L298.75,240.98 L299.00,241.36 L299.25,241.64 L299.50,241.82 L299.75,241.90 L300.00,241.87 L300.25,241.76 L300.50,241.56 L300.75,241.29 L301.00,240.95 L301.25,240.54 L301.50,240.08 L301.75,239.56 L302.00,238.99 L302.25,238.38 L302.50,237.74 L302.75,237.06 L303.00,236.36 L303.25,235.63 L303.50,234.90 L303.75,234.15 L304.00,233.40 L304.25,232.65 L304.50,231.91 L304.75,231.19 L305.00,230.48 L305.25,229.80 L305.50,229.14 L305.75,228.53 L306.00,227.95 L306.25,227.42 L306.50,226.95 L306.75,226.53 L307.00,226.17 L307.25,225.89 L307.50,225.68 L307.75,225.54 L308.00,225.50 L308.25,225.53 L308.50,225.63 L308.75,225.78 L309.00,225.99 L309.25,226.25 L309.50,226.56 L309.75,226.90 L310.00,227.29 L310.25,227.71 L310.50,228.16 L310.75,228.63 L311.00,229.13 L311.25,229.64 L311.50,230.17 L311.75,230.70 L312.00,231.24 L312.25,231.78 L312.50,232.32 L312.75,232.85 L313.00,233.37 L313.25,233.87 L313.50,234.36 L313.75,234.82 L314.00,235.25 L314.25,235.65 L314.50,236.01 L314.75,236.33 L315.00,236.61 L315.25,236.84 L315.50,237.02 L315.75,237.14 L316.00,237.19 L316.25,237.19 L316.50,237.10 L316.75,236.94 L317.00,236.71 L317.25,236.42 L317.50,236.08 L317.75,235.68 L318.00,235.25 L318.25,234.78 L318.50,234.28 L318.75,233.76 L319.00,233.22 L319.25,232.66 L319.50,232.11 L319.75,231.55 L320.00,231.00 L320.25,230.47 L320.50,229.95 L320.75,229.46 L321.00,229.01 L321.25,228.59 L321.50,228.22 L321.75,227.89 L322.00,227.63 L322.25,227.43 L322.50,227.29 L322.75,227.24 L323.00,227.25 L323.25,227.32 L323.50,227.45 L323.75,227.61 L324.00,227.83 L324.25,228.08 L324.50,228.37 L324.75,228.69 L325.00,229.04 L325.25,229.42 L325.50,229.82 L325.75,230.24 L326.00,230.68 L326.25,231.13 L326.50,231.59 L326.75,232.06 L327.00,232.53 L327.25,233.00 L327.50,233.46 L327.75,233.92 L328.00,234.37 L328.25,234.80 L328.50,235.21 L328.75,235.61 L329.00,235.97 L329.25,236.32 L329.50,236.62 L329.75,236.90 L330.00,237.14 L330.25,237.33 L330.50,237.48 L330.75,237.58 L331.00,237.63 L331.25,237.63 L331.50,237.57 L331.75,237.46 L332.00,237.30 L332.25,237.10 L332.50,236.87 L332.75,236.59 L333.00,236.28 L333.25,235.95 L333.50,235.58 L333.75,235.19 L334.00,234.79 L334.25,234.36 L334.50,233.92 L334.75,233.48 L335.00,233.02 L335.25,232.56 L335.50,232.11 L335.75,231.65 L336.00,231.20 L336.25,230.77 L336.50,230.34 L336.75,229.93 L337.00,229.54 L337.25,229.18 L337.50,228.84 L337.75,228.53 L338.00,228.26 L338.25,228.02 L338.50,227.82 L338.75,227.67 L339.00,227.56 L339.25,227.50 L339.50,227.50 L339.75,227.54 L340.00,227.64 L340.25,227.78 L340.50,227.97 L340.75,228.19 L341.00,228.45 L341.25,228.75 L341.50,229.07 L341.75,229.42 L342.00,229.80 L342.25,230.19 L342.50,230.60 L342.75,231.03 L343.00,231.46 L343.25,231.90 L343.50,232.35 L343.75,232.80 L344.00,233.24 L344.25,233.68 L344.50,234.11 L344.75,234.52 L345.00,234.93 L345.25,235.31 L345.50,235.67 L345.75,236.00 L346.00,236.31 L346.25,236.59 L346.50,236.83 L346.75,237.03 L347.00,237.19 L347.25,237.30 L347.50,237.37 L347.75,237.39 L348.00,237.35 L348.25,237.26 L348.50,237.13 L348.75,236.96 L349.00,236.75 L349.25,236.50 L349.50,236.22 L349.75,235.91 L350.00,235.57 L350.25,235.21 L350.50,234.83 L350.75,234.43 L351.00,234.02 L351.25,233.60 L351.50,233.17 L351.75,232.73 L352.00,232.30 L352.25,231.86 L352.50,231.44 L352.75,231.01 L353.00,230.61 L353.25,230.21 L353.50,229.83 L353.75,229.48 L354.00,229.15 L354.25,228.84 L354.50,228.57 L354.75,228.32 L355.00,228.12 L355.25,227.96 L355.50,227.83 L355.75,227.76 L356.00,227.73 L356.25,227.76 L356.50,227.83 L356.75,227.95 L357.00,228.11 L357.25,228.31 L357.50,228.55 L357.75,228.81 L358.00,229.11 L358.25,229.43 L358.50,229.78 L358.75,230.15 L359.00,230.53 L359.25,230.93 L359.50,231.34 L359.75,231.76 L360.00,232.19 L360.25,232.61 L360.50,233.04 L360.75,233.46 L361.00,233.87 L361.25,234.27 L361.50,234.66 L361.75,235.03 L362.00,235.38 L362.25,235.71 L362.50,236.01 L362.75,236.29 L363.00,236.53 L363.25,236.74 L363.50,236.90 L363.75,237.03 L364.00,237.11 L364.25,237.15 L364.50,237.13 L364.75,237.07 L365.00,236.96 L365.25,236.82 L365.50,236.63 L365.75,236.41 L366.00,236.15 L366.25,235.87 L366.50,235.56 L366.75,235.22 L367.00,234.87 L367.25,234.49 L367.50,234.11 L367.75,233.71 L368.00,233.30 L368.25,232.89 L368.50,232.47 L368.75,232.06 L369.00,231.65 L369.25,231.25 L369.50,230.85 L369.75,230.47 L370.00,230.10 L370.25,229.76 L370.50,229.43 L370.75,229.13 L371.00,228.86 L371.25,228.61 L371.50,228.41 L371.75,228.23 L372.00,228.10 L372.25,228.01 L372.50,227.97 L372.75,227.97 L373.00,228.03 L373.25,228.12 L373.50,228.26 L373.75,228.43 L374.00,228.64 L374.25,228.89 L374.50,229.16 L374.75,229.46 L375.00,229.78 L375.25,230.12 L375.50,230.48 L375.75,230.86 L376.00,231.24 L376.25,231.64 L376.50,232.04 L376.75,232.44 L377.00,232.85 L377.25,233.25 L377.50,233.65 L377.75,234.03 L378.00,234.41 L378.25,234.77 L378.50,235.11 L378.75,235.43 L379.00,235.73 L379.25,236.00 L379.50,236.25 L379.75,236.46 L380.00,236.63 L380.25,236.77 L380.50,236.86 L380.75,236.92 L381.00,236.92 L381.25,236.88 L381.50,236.79 L381.75,236.67 L382.00,236.50 L382.25,236.31 L382.50,236.07 L382.75,235.81 L383.00,235.53 L383.25,235.22 L383.50,234.89 L383.75,234.54 L384.00,234.18 L384.25,233.80 L384.50,233.42 L384.75,233.03 L385.00,232.63 L385.25,232.24 L385.50,231.85 L385.75,231.46 L386.00,231.08 L386.25,230.71 L386.50,230.36 L386.75,230.02 L387.00,229.70 L387.25,229.41 L387.50,229.13 L387.75,228.89 L388.00,228.68 L388.25,228.50 L388.50,228.36 L388.75,228.26 L389.00,228.20 L389.25,228.19 L389.50,228.22 L389.75,228.29 L390.00,228.41 L390.25,228.56 L390.50,228.75 L390.75,228.97 L391.00,229.21 L391.25,229.49 L391.50,229.79 L391.75,230.10 L392.00,230.44 L392.25,230.79 L392.50,231.16 L392.75,231.53 L393.00,231.91 L393.25,232.29 L393.50,232.68 L393.75,233.06 L394.00,233.44 L394.25,233.81 L394.50,234.17 L394.75,234.52 L395.00,234.86 L395.25,235.17 L395.50,235.46 L395.75,235.73 L396.00,235.97 L396.25,236.19 L396.50,236.37 L396.75,236.51 L397.00,236.62 L397.25,236.69 L397.50,236.71 L397.75,236.69 L398.00,236.62 L398.25,236.52 L398.50,236.38 L398.75,236.20 L399.00,235.99 L399.25,235.76 L399.50,235.49 L399.75,235.21 L400.00,234.90 L400.25,234.58 L400.50,234.24 L400.75,233.88 L401.00,233.52 L401.25,233.15 L401.50,232.78 L401.75,232.40 L402.00,232.03 L402.25,231.66 L402.50,231.29 L402.75,230.94 L403.00,230.59 L403.25,230.27 L403.50,229.96 L403.75,229.67 L404.00,229.40 L404.25,229.16 L404.50,228.94 L404.75,228.76 L405.00,228.61 L405.25,228.50 L405.50,228.43 L405.75,228.39 L406.00,228.41 L406.25,228.46 L406.50,228.56 L406.75,228.69 L407.00,228.85 L407.25,229.05 L407.50,229.28 L407.75,229.53 L408.00,229.80 L408.25,230.10 L408.50,230.41 L408.75,230.74 L409.00,231.08 L409.25,231.43 L409.50,231.79 L409.75,232.16 L410.00,232.52 L410.25,232.89 L410.50,233.25 L410.75,233.61 L411.00,233.96 L411.25,234.29 L411.50,234.62 L411.75,234.92 L412.00,235.21 L412.25,235.48 L412.50,235.72 L412.75,235.93 L413.00,236.12 L413.25,236.27 L413.50,236.38 L413.75,236.46 L414.00,236.50 L414.25,236.50 L414.50,236.45 L414.75,236.37 L415.00,236.25 L415.25,236.09 L415.50,235.91 L415.75,235.69 L416.00,235.45 L416.25,235.19 L416.50,234.90 L416.75,234.60 L417.00,234.28 L417.25,233.95 L417.50,233.61 L417.75,233.26 L418.00,232.91 L418.25,232.55 L418.50,232.19 L418.75,231.84 L419.00,231.49 L419.25,231.15 L419.50,230.82 L419.75,230.50 L420.00,230.20 L420.25,229.91 L420.50,229.65 L420.75,229.41 L421.00,229.19 L421.25,229.01 L421.50,228.85 L421.75,228.73 L422.00,228.65 L422.25,228.60 L422.50,228.60 L422.75,228.63 L423.00,228.71 L423.25,228.82 L423.50,228.96 L423.75,229.14 L424.00,229.34 L424.25,229.57 L424.50,229.83 L424.75,230.10 L425.00,230.39 L425.25,230.70 L425.50,231.02 L425.75,231.35 L426.00,231.69 L426.25,232.03 L426.50,232.38 L426.75,232.73 L427.00,233.08 L427.25,233.42 L427.50,233.75 L427.75,234.08 L428.00,234.39 L428.25,234.69 L428.50,234.97 L428.75,235.23 L429.00,235.47 L429.25,235.69 L429.50,235.87 L429.75,236.03 L430.00,236.16 L430.25,236.25 L430.50,236.30 L430.75,236.31 L431.00,236.28 L431.25,236.22 L431.50,236.11 L431.75,235.98 L432.00,235.81 L432.25,235.62 L432.50,235.40 L432.75,235.16 L433.00,234.90 L433.25,234.62 L433.50,234.32 L433.75,234.01 L434.00,233.69 L434.25,233.36 L434.50,233.02 L434.75,232.68 L435.00,232.34 L435.25,232.00 L435.50,231.67 L435.75,231.34 L436.00,231.02 L436.25,230.71 L436.50,230.42 L436.75,230.14 L437.00,229.88 L437.25,229.65 L437.50,229.43 L437.75,229.24 L438.00,229.08 L438.25,228.96 L438.50,228.86 L438.75,228.80 L439.00,228.78 L439.25,228.80 L439.50,228.86 L439.75,228.95 L440.00,229.08 L440.25,229.23 L440.50,229.42 L440.75,229.62 L441.00,229.86 L441.25,230.11 L441.50,230.38 L441.75,230.67 L442.00,230.97 L442.25,231.28 L442.50,231.60 L442.75,231.93 L443.00,232.26 L443.25,232.59 L443.50,232.92 L443.75,233.25 L444.00,233.57 L444.25,233.88 L444.50,234.18 L444.75,234.47 L445.00,234.75 L445.25,235.00 L445.50,235.24 L445.75,235.45 L446.00,235.64 L446.25,235.80 L446.50,235.93 L446.75,236.03 L447.00,236.10 L447.25,236.13 L447.50,236.11 L447.75,236.07 L448.00,235.98 L448.25,235.87 L448.50,235.72 L448.75,235.55 L449.00,235.35 L449.25,235.13 L449.50,234.88 L449.75,234.62 L450.00,234.35 L450.25,234.05 L450.50,233.75 L450.75,233.44 L451.00,233.12 L451.25,232.80 L451.50,232.48 L451.75,232.16 L452.00,231.84 L452.25,231.52 L452.50,231.21 L452.75,230.92 L453.00,230.63 L453.25,230.36 L453.50,230.11 L453.75,229.87 L454.00,229.66 L454.25,229.47 L454.50,229.31 L454.75,229.17 L455.00,229.07 L455.25,229.00 L455.50,228.97 L455.75,228.97 L456.00,229.01 L456.25,229.08 L456.50,229.19 L456.75,229.33 L457.00,229.49 L457.25,229.68 L457.50,229.89 L457.75,230.13 L458.00,230.38 L458.25,230.64 L458.50,230.93 L458.75,231.22 L459.00,231.52 L459.25,231.83 L459.50,232.14 L459.75,232.46 L460.00,232.77 L460.25,233.08 L460.50,233.39 L460.75,233.69 L461.00,233.99 L461.25,234.27 L461.50,234.54 L461.75,234.79 L462.00,235.02 L462.25,235.23 L462.50,235.42 L462.75,235.59 L463.00,235.72 L463.25,235.83 L463.50,235.90 L463.75,235.94 L464.00,235.95 L464.25,235.92 L464.50,235.85 L464.75,235.75 L465.00,235.62 L465.25,235.47 L465.50,235.29 L465.75,235.09 L466.00,234.86 L466.25,234.62 L466.50,234.36 L466.75,234.09 L467.00,233.81 L467.25,233.52 L467.50,233.22 L467.75,232.91 L468.00,232.60 L468.25,232.30 L468.50,231.99 L468.75,231.69 L469.00,231.39 L469.25,231.11 L469.50,230.83 L469.75,230.57 L470.00,230.32 L470.25,230.09 L470.50,229.88 L470.75,229.69 L471.00,229.52 L471.25,229.38 L471.50,229.27 L471.75,229.19 L472.00,229.15 L472.25,229.14 L472.50,229.16 L472.75,229.22 L473.00,229.31 L473.25,229.43 L473.50,229.57 L473.75,229.74 L474.00,229.94 L474.25,230.15 L474.50,230.38 L474.75,230.63 L475.00,230.89 L475.25,231.17 L475.50,231.45 L475.75,231.74 L476.00,232.04 L476.25,232.34 L476.50,232.64 L476.75,232.94 L477.00,233.23 L477.25,233.52 L477.50,233.81 L477.75,234.08 L478.00,234.34 L478.25,234.58 L478.50,234.81 L478.75,235.02 L479.00,235.21 L479.25,235.38 L479.50,235.52 L479.75,235.63 L480.00,235.71 L480.25,235.77 L480.50,235.78 L480.75,235.77 L481.00,235.72 L481.25,235.63 L481.50,235.52 L481.75,235.39 L482.00,235.22 L482.25,235.04 L482.50,234.83 L482.75,234.61 L483.00,234.37 L483.25,234.12 L483.50,233.85 L483.75,233.58 L484.00,233.30 L484.25,233.01 L484.50,232.72 L484.75,232.42 L485.00,232.13 L485.25,231.84 L485.50,231.56 L485.75,231.28 L486.00,231.01 L486.25,230.76 L486.50,230.52 L486.75,230.29 L487.00,230.08 L487.25,229.89 L487.50,229.72 L487.75,229.58 L488.00,229.47 L488.25,229.38 L488.50,229.32 L488.75,229.30 L489.00,229.31 L489.25,229.35 L489.50,229.42 L489.75,229.53 L490.00,229.66 L490.25,229.81 L490.50,229.98 L490.75,230.18 L491.00,230.40 L491.25,230.63 L491.50,230.87 L491.75,231.13 L492.00,231.39 L492.25,231.67 L492.50,231.95 L492.75,232.23 L493.00,232.52 L493.25,232.80 L493.50,233.09 L493.75,233.36 L494.00,233.64 L494.25,233.90 L494.50,234.15 L494.75,234.39 L495.00,234.61 L495.25,234.82 L495.50,235.01 L495.75,235.18 L496.00,235.32 L496.25,235.44 L496.50,235.53 L496.75,235.59 L497.00,235.62 L497.25,235.62 L497.50,235.58 L497.75,235.52 L498.00,235.42 L498.25,235.30 L498.50,235.16 L498.75,234.99 L499.00,234.80 L499.25,234.60 L499.50,234.37 L499.75,234.14 L500.00,233.89 L500.25,233.63 L500.50,233.37 L500.75,233.09 L501.00,232.82 L501.25,232.54 L501.50,232.26 L501.75,231.98 L502.00,231.71 L502.25,231.44 L502.50,231.19 L502.75,230.94 L503.00,230.70 L503.25,230.48 L503.50,230.27 L503.75,230.09 L504.00,229.92 L504.25,229.78 L504.50,229.65 L504.75,229.56 L505.00,229.49 L505.25,229.46 L505.50,229.46 L505.75,229.48 L506.00,229.54 L506.25,229.63 L506.50,229.74 L506.75,229.88 L507.00,230.04 L507.25,230.22 L507.50,230.41 L507.75,230.63 L508.00,230.85 L508.25,231.09 L508.50,231.34 L508.75,231.60 L509.00,231.87 L509.25,232.14 L509.50,232.41 L509.75,232.68 L510.00,232.95 L510.25,233.22 L510.50,233.48 L510.75,233.73 L511.00,233.98 L511.25,234.21 L511.50,234.43 L511.75,234.63 L512.00,234.82 L512.25,234.99 L512.50,235.13 L512.75,235.25 L513.00,235.35 L513.25,235.42 L513.50,235.46 L513.75,235.47 L514.00,235.45 L514.25,235.40 L514.50,235.32 L514.75,235.21 L515.00,235.09 L515.25,234.93 L515.50,234.76 L515.75,234.57 L516.00,234.37 L516.25,234.15 L516.50,233.92 L516.75,233.68 L517.00,233.43 L517.25,233.17 L517.50,232.91 L517.75,232.64 L518.00,232.38 L518.25,232.11 L518.50,231.85 L518.75,231.60 L519.00,231.35 L519.25,231.11 L519.50,230.88 L519.75,230.66 L520.00,230.46 L520.25,230.27 L520.50,230.11 L520.75,229.96 L521.00,229.84 L521.25,229.74 L521.50,229.66 L521.75,229.62 L522.00,229.60 L522.25,229.62 L522.50,229.66 L522.75,229.73 L523.00,229.83 L523.25,229.95 L523.50,230.09 L523.75,230.26 L524.00,230.44 L524.25,230.64 L524.50,230.85 L524.75,231.07 L525.00,231.30 L525.25,231.55 L525.50,231.80 L525.75,232.05 L526.00,232.31 L526.25,232.57 L526.50,232.83 L526.75,233.08 L527.00,233.33 L527.25,233.58 L527.50,233.81 L527.75,234.04 L528.00,234.25 L528.25,234.45 L528.50,234.64 L528.75,234.80 L529.00,234.95 L529.25,235.08 L529.50,235.18 L529.75,235.26 L530.00,235.31 L530.25,235.33 L530.50,235.32 L530.75,235.28 L531.00,235.22 L531.25,235.13 L531.50,235.01 L531.75,234.88 L532.00,234.72 L532.25,234.55 L532.50,234.36 L532.75,234.16 L533.00,233.94 L533.25,233.71 L533.50,233.48 L533.75,233.23 L534.00,232.99 L534.25,232.74 L534.50,232.48 L534.75,232.23 L535.00,231.98 L535.25,231.74 L535.50,231.50 L535.75,231.26 L536.00,231.04 L536.25,230.83 L536.50,230.63 L536.75,230.45 L537.00,230.28 L537.25,230.14 L537.50,230.01 L537.75,229.90 L538.00,229.82 L538.25,229.77 L538.50,229.74 L538.75,229.75 L539.00,229.78 L539.25,229.84 L539.50,229.92 L539.75,230.03 L540.00,230.15 L540.25,230.30 L540.50,230.47 L540.75,230.65 L541.00,230.84 L541.25,231.05 L541.50,231.27 L541.75,231.50 L542.00,231.74 L542.25,231.98 L542.50,232.22 L542.75,232.47 L543.00,232.71 L543.25,232.96 L543.50,233.20 L543.75,233.43 L544.00,233.66 L544.25,233.88 L544.50,234.09 L544.75,234.28 L545.00,234.47 L545.25,234.63 L545.50,234.78 L545.75,234.91 L546.00,235.01 L546.25,235.10 L546.50,235.15 L546.75,235.19 L547.00,235.19 L547.25,235.16 L547.50,235.11 L547.75,235.04 L548.00,234.94 L548.25,234.81 L548.50,234.67 L548.75,234.52 L549.00,234.34 L549.25,234.15 L549.50,233.95 L549.75,233.74 L550.00,233.52 L550.25,233.29 L550.50,233.06 L550.75,232.82 L551.00,232.58 L551.25,232.34 L551.50,232.10 L551.75,231.87 L552.00,231.64 L552.25,231.41 L552.50,231.20 L552.75,230.99 L553.00,230.80 L553.25,230.62 L553.50,230.45 L553.75,230.30 L554.00,230.18 L554.25,230.07 L554.50,229.98 L554.75,229.92 L555.00,229.88 L555.25,229.88 L555.50,229.89 L555.75,229.94 L556.00,230.01 L556.25,230.10 L556.50,230.22 L556.75,230.35 L557.00,230.50 L557.25,230.67 L557.50,230.85 L557.75,231.04 L558.00,231.25 L558.25,231.46 L558.50,231.68 L558.75,231.91 L559.00,232.14 L559.25,232.37 L559.50,232.61 L559.75,232.84 L560.00,233.07 L560.25,233.30 L560.50,233.52 L560.75,233.73 L561.00,233.93 L561.25,234.12 L561.50,234.30 L561.75,234.47 L562.00,234.61 L562.25,234.74 L562.50,234.85 L562.75,234.94 L563.00,235.01 L563.25,235.05 L563.50,235.06 L563.75,235.05 L564.00,235.01 L564.25,234.94 L564.50,234.86 L564.75,234.75 L565.00,234.62 L565.25,234.48 L565.50,234.32 L565.75,234.15 L566.00,233.96 L566.25,233.76 L566.50,233.56 L566.75,233.34 L567.00,233.12 L567.25,232.90 L567.50,232.67 L567.75,232.44 L568.00,232.21 L568.25,231.99 L568.50,231.77 L568.75,231.55 L569.00,231.34 L569.25,231.14 L569.50,230.95 L569.75,230.78 L570.00,230.61 L570.25,230.47 L570.50,230.34 L570.75,230.22 L571.00,230.13 L571.25,230.07 L571.50,230.02 L571.75,230.00 L572.00,230.01 L572.25,230.04 L572.50,230.10 L572.75,230.18 L573.00,230.28 L573.25,230.40 L573.50,230.54 L573.75,230.69 L574.00,230.86 L574.25,231.04 L574.50,231.23 L574.75,231.43 L575.00,231.64 L575.25,231.85 L575.50,232.07 L575.75,232.29 L576.00,232.51 L576.25,232.74 L576.50,232.96 L576.75,233.17 L577.00,233.39 L577.25,233.59 L577.50,233.79 L577.75,233.97 L578.00,234.15 L578.25,234.31 L578.50,234.46 L578.75,234.59 L579.00,234.70 L579.25,234.79 L579.50,234.86 L579.75,234.91 L580.00,234.93 L580.25,234.93 L580.50,234.90 L580.75,234.85 L581.00,234.78 L581.25,234.68 L581.50,234.57 L581.75,234.44 L582.00,234.30 L582.25,234.13 L582.50,233.96 L582.75,233.78 L583.00,233.58 L583.25,233.38 L583.50,233.18 L583.75,232.96 L584.00,232.75 L584.25,232.53 L584.50,232.31 L584.75,232.10 L585.00,231.88 L585.25,231.68 L585.50,231.48 L585.75,231.28 L586.00,231.10 L586.25,230.92 L586.50,230.76 L586.75,230.62 L587.00,230.49 L587.25,230.37 L587.50,230.28 L587.75,230.21 L588.00,230.16 L588.25,230.13 L588.50,230.13 L588.75,230.15 L589.00,230.19 L589.25,230.26 L589.50,230.35 L589.75,230.46 L590.00,230.58 L590.25,230.72 L590.50,230.87 L590.75,231.04 L591.00,231.22 L591.25,231.40 L591.50,231.60 L591.75,231.80 L592.00,232.01 L592.25,232.22 L592.50,232.43 L592.75,232.64 L593.00,232.85 L593.25,233.06 L593.50,233.26 L593.75,233.46 L594.00,233.65 L594.25,233.83 L594.50,234.00 L594.75,234.16 L595.00,234.31 L595.25,234.44 L595.50,234.55 L595.75,234.65 L596.00,234.72 L596.25,234.78 L596.50,234.81 L596.75,234.82 L597.00,234.80 L597.25,234.76 L597.50,234.70 L597.75,234.62 L598.00,234.52 L598.25,234.40 L598.50,234.27 L598.75,234.12 L599.00,233.96 L599.25,233.79 L599.50,233.61 L599.75,233.42 L600.00,233.22 L600.25,233.02 L600.50,232.82 L600.75,232.61 L601.00,232.40 L601.25,232.20 L601.50,231.99 L601.75,231.80 L602.00,231.60 L602.25,231.41 L602.50,231.23 L602.75,231.07 L603.00,230.91 L603.25,230.76 L603.50,230.63 L603.75,230.52 L604.00,230.42 L604.25,230.34 L604.50,230.29 L604.75,230.25 L605.00,230.24 L605.25,230.25 L605.50,230.29 L605.75,230.34 L606.00,230.42 L606.25,230.51 L606.50,230.62 L606.75,230.75 L607.00,230.89 L607.25,231.05 L607.50,231.21 L607.75,231.38 L608.00,231.57 L608.25,231.76 L608.50,231.95 L608.75,232.15 L609.00,232.35 L609.25,232.55 L609.50,232.75 L609.75,232.95 L610.00,233.15 L610.25,233.34 L610.50,233.52 L610.75,233.70 L611.00,233.87 L611.25,234.02 L611.50,234.17 L611.75,234.30 L612.00,234.41 L612.25,234.51 L612.50,234.59 L612.75,234.65 L613.00,234.69 L613.25,234.71 L613.50,234.70 L613.75,234.67 L614.00,234.62 L614.25,234.55 L614.50,234.46 L614.75,234.35 L615.00,234.23 L615.25,234.10 L615.50,233.95 L615.75,233.79 L616.00,233.62 L616.25,233.45 L616.50,233.26 L616.75,233.07 L617.00,232.88 L617.25,232.68 L617.50,232.49 L617.75,232.29 L618.00,232.10 L618.25,231.90 L618.50,231.72 L618.75,231.54 L619.00,231.36 L619.25,231.20 L619.50,231.04 L619.75,230.90 L620.00,230.77 L620.25,230.66 L620.50,230.56 L620.75,230.48 L621.00,230.41 L621.25,230.37 L621.50,230.35 L621.75,230.35 L622.00,230.38 L622.25,230.42 L622.50,230.49 L622.75,230.57 L623.00,230.67 L623.25,230.79 L623.50,230.91 L623.75,231.06 L624.00,231.21 L624.25,231.37 L624.50,231.54 L624.75,231.72 L625.00,231.90 L625.25,232.09 L625.50,232.28 L625.75,232.47 L626.00,232.67 L626.25,232.86 L626.50,233.04 L626.75,233.23 L627.00,233.40 L627.25,233.58 L627.50,233.74 L627.75,233.89 L628.00,234.03 L628.25,234.16 L628.50,234.28 L628.75,234.38 L629.00,234.46 L629.25,234.52 L629.50,234.57 L629.75,234.59 L630.00,234.60 L630.25,234.58 L630.50,234.54 L630.75,234.48 L631.00,234.40 L631.25,234.31 L631.50,234.20 L631.75,234.07 L632.00,233.94 L632.25,233.79 L632.50,233.63 L632.75,233.47 L633.00,233.30 L633.25,233.12 L633.50,232.94 L633.75,232.75 L634.00,232.56 L634.25,232.38 L634.50,232.19 L634.75,232.01 L635.00,231.83 L635.25,231.65 L635.50,231.48 L635.75,231.32 L636.00,231.17 L636.25,231.03 L636.50,230.90 L636.75,230.79 L637.00,230.69 L637.25,230.60 L637.50,230.54 L637.75,230.49 L638.00,230.46 L638.25,230.45 L638.50,230.47 L638.75,230.50 L639.00,230.56 L639.25,230.63 L639.50,230.72 L639.75,230.82 L640.00,230.94 L640.25,231.07 L640.50,231.21 L640.75,231.36 L641.00,231.52 L641.25,231.69 L641.50,231.86 L641.75,232.04 L642.00,232.22 L642.25,232.40 L642.50,232.58 L642.75,232.77 L643.00,232.95 L643.25,233.12 L643.50,233.29 L643.75,233.46 L644.00,233.62 L644.25,233.77 L644.50,233.91 L644.75,234.03 L645.00,234.15 L645.25,234.25 L645.50,234.34 L645.75,234.40 L646.00,234.45 L646.25,234.49 L646.50,234.50 L646.75,234.49 L647.00,234.46 L647.25,234.41 L647.50,234.34 L647.75,234.26 L648.00,234.16 L648.25,234.05 L648.50,233.92 L648.75,233.78 L649.00,233.64 L649.25,233.48 L649.50,233.32 L649.75,233.16 L650.00,232.98 L650.25,232.81 L650.50,232.63 L650.75,232.45 L651.00,232.28 L651.25,232.10 L651.50,231.93 L651.75,231.76 L652.00,231.60 L652.25,231.44 L652.50,231.29 L652.75,231.15 L653.00,231.03 L653.25,230.91 L653.50,230.81 L653.75,230.73 L654.00,230.65 L654.25,230.60 L654.50,230.57 L654.75,230.55 L655.00,230.56 L655.25,230.58 L655.50,230.63 L655.75,230.69 L656.00,230.77 L656.25,230.86 L656.50,230.97 L656.75,231.09 L657.00,231.22 L657.25,231.36 L657.50,231.51 L657.75,231.66 L658.00,231.83 L658.25,231.99 L658.50,232.16 L658.75,232.34 L659.00,232.51 L659.25,232.68 L659.50,232.86 L659.75,233.03 L660.00,233.19 L660.25,233.35 L660.50,233.50 L660.75,233.65 L661.00,233.79 L661.25,233.91 L661.50,234.03 L661.75,234.13 L662.00,234.22 L662.25,234.29 L662.50,234.34 L662.75,234.38 L663.00,234.40 L663.25,234.40 L663.50,234.38 L663.75,234.33 L664.00,234.28 L664.25,234.20 L664.50,234.12 L664.75,234.01 L665.00,233.90 L665.25,233.78 L665.50,233.64 L665.75,233.50 L666.00,233.35 L666.25,233.19 L666.50,233.03 L666.75,232.86 L667.00,232.69 L667.25,232.52 L667.50,232.35 L667.75,232.19 L668.00,232.02 L668.00,232.02" fill="none" stroke="#00bfbf" stroke-width="2.3" stroke-linejoin="round" stroke-linecap="butt" clip-path="url(#ca)"/>
<rect x="92.8" y="36.0" width="575.2" height="605.0" fill="none" stroke="#111" stroke-width="2"/>
<clipPath id="cb"><rect x="814.8" y="29.8" width="580.5" height="601.4000000000001"/></clipPath>
<path d="M814.80,552.80 L819.10,554.70 L823.30,555.70 L829.00,557.40 L833.20,557.30 L838.80,555.30 L847.30,553.80 L854.40,552.90 L861.40,552.30 L867.10,550.90 L872.00,551.10 L877.00,547.90 L886.90,548.40 L896.70,547.70 L912.00,546.50 L933.50,543.30 L955.90,538.80 L978.30,532.70 L989.60,529.40 L1000.00,522.50 L1010.00,517.00 L1013.50,514.50 L1014.50,513.66 L1015.50,512.76 L1016.50,511.81 L1017.50,510.82 L1018.50,509.79 L1019.50,508.74 L1020.50,507.68 L1021.50,506.60 L1022.50,505.53 L1023.50,504.46 L1024.50,503.41 L1025.50,502.38 L1026.50,501.39 L1027.50,500.43 L1028.50,499.48 L1029.50,498.53 L1030.50,497.59 L1031.50,496.66 L1032.50,495.73 L1033.50,494.81 L1034.50,493.90 L1035.50,493.00 L1036.50,492.10 L1037.50,491.21 L1038.50,490.34 L1039.50,489.47 L1040.50,488.61 L1041.50,487.74 L1042.50,486.84 L1043.50,485.92 L1044.50,485.00 L1045.50,484.09 L1046.50,483.22 L1047.50,482.38 L1048.50,481.61 L1049.50,480.90 L1050.50,480.27 L1051.50,479.75 L1052.50,479.28 L1053.50,478.81 L1054.50,478.36 L1055.50,477.97 L1056.50,477.66 L1057.50,477.46 L1058.50,477.40 L1059.50,477.47 L1060.50,477.62 L1061.50,477.85 L1062.50,478.13 L1063.50,478.44 L1064.50,478.78 L1065.50,479.25 L1066.50,479.84 L1067.50,480.55 L1068.50,481.34 L1069.50,482.20 L1070.50,483.10 L1071.50,484.03 L1072.50,484.96 L1073.50,485.87 L1074.50,486.75 L1075.50,487.66 L1076.50,488.60 L1077.50,489.58 L1078.50,490.58 L1079.50,491.61 L1080.50,492.64 L1081.50,493.68 L1082.50,494.72 L1083.50,495.76 L1084.50,496.79 L1085.50,497.80 L1086.50,498.82 L1087.50,499.85 L1088.50,500.88 L1089.50,501.92 L1090.50,502.96 L1091.50,504.00 L1092.50,505.02 L1093.50,506.02 L1094.50,507.01 L1095.50,507.97 L1096.50,508.90 L1097.50,509.81 L1098.50,510.70 L1099.50,511.59 L1100.50,512.46 L1101.50,513.32 L1102.50,514.17 L1103.50,515.00 L1104.50,515.82 L1105.50,516.63 L1106.50,517.43 L1107.50,518.21 L1108.50,518.98 L1109.50,519.73 L1110.50,520.46 L1111.50,521.13 L1112.50,521.73 L1113.50,522.30 L1114.50,522.84 L1115.50,523.37 L1116.50,523.90 L1117.50,524.45 L1118.50,525.04 L1119.50,525.69 L1120.50,526.40 L1121.50,527.19 L1122.50,528.09 L1123.50,529.10 L1129.10,540.30 L1134.10,533.00 L1138.70,514.00 L1143.50,531.40 L1148.00,535.90 L1152.60,536.80 L1160.20,547.00 L1166.40,553.10 L1175.70,560.90 L1181.90,564.30 L1188.00,558.50 L1189.00,557.62 L1190.00,556.72 L1191.00,555.84 L1192.00,554.98 L1193.00,554.17 L1194.00,553.43 L1195.00,552.79 L1196.00,552.25 L1197.00,551.72 L1198.00,551.20 L1199.00,550.71 L1200.00,550.26 L1201.00,549.87 L1202.00,549.57 L1203.00,549.37 L1204.00,549.30 L1205.00,549.30 L1206.00,549.30 L1207.00,549.30 L1208.00,549.30 L1209.00,549.30 L1210.00,549.30 L1211.00,549.30 L1212.00,549.30 L1213.00,549.30 L1214.00,549.30 L1215.00,549.30 L1216.00,549.32 L1217.00,549.36 L1218.00,549.40 L1219.00,549.46 L1220.00,549.54 L1221.00,549.62 L1222.00,549.71 L1223.00,549.81 L1224.00,549.92 L1225.00,550.04 L1226.00,550.16 L1227.00,550.29 L1228.00,550.42 L1229.00,550.55 L1230.00,550.69 L1231.00,550.82 L1232.00,550.96 L1233.00,551.09 L1234.00,551.22 L1235.00,551.35 L1236.00,551.47 L1237.00,551.59 L1238.00,551.71 L1239.00,551.81 L1240.00,551.91 L1241.00,552.00 L1242.00,552.10 L1243.00,552.19 L1244.00,552.29 L1245.00,552.38 L1246.00,552.48 L1247.00,552.57 L1248.00,552.67 L1249.00,552.77 L1250.00,552.86 L1251.00,552.96 L1252.00,553.05 L1253.00,553.14 L1254.00,553.24 L1255.00,553.33 L1256.00,553.42 L1257.00,553.51 L1258.00,553.60 L1259.00,553.69 L1260.00,553.78 L1261.00,553.87 L1262.00,553.95 L1263.00,554.03 L1264.00,554.12 L1265.00,554.20 L1266.00,554.28 L1267.00,554.35 L1268.00,554.43 L1269.00,554.50 L1270.00,554.57 L1271.00,554.64 L1272.00,554.71 L1273.00,554.77 L1274.00,554.83 L1275.00,554.89 L1276.00,554.95 L1277.00,555.01 L1278.00,555.06 L1279.00,555.12 L1280.00,555.17 L1281.00,555.23 L1282.00,555.28 L1283.00,555.33 L1284.00,555.38 L1285.00,555.43 L1286.00,555.48 L1287.00,555.53 L1288.00,555.58 L1289.00,555.62 L1290.00,555.67 L1291.00,555.71 L1292.00,555.76 L1293.00,555.80 L1294.00,555.85 L1295.00,555.89 L1296.00,555.93 L1297.00,555.98 L1298.00,556.02 L1299.00,556.06 L1300.00,556.10 L1301.00,556.15 L1302.00,556.19 L1303.00,556.23 L1304.00,556.27 L1305.00,556.31 L1306.00,556.35 L1307.00,556.39 L1308.00,556.43 L1309.00,556.47 L1310.00,556.52 L1311.00,556.56 L1312.00,556.60 L1313.00,556.64 L1314.00,556.68 L1315.00,556.72 L1316.00,556.77 L1317.00,556.81 L1318.00,556.85 L1319.00,556.89 L1320.00,556.93 L1321.00,556.97 L1322.00,557.01 L1323.00,557.06 L1324.00,557.10 L1325.00,557.14 L1326.00,557.18 L1327.00,557.22 L1328.00,557.25 L1329.00,557.29 L1330.00,557.33 L1331.00,557.37 L1332.00,557.41 L1333.00,557.44 L1334.00,557.48 L1335.00,557.52 L1336.00,557.55 L1337.00,557.58 L1338.00,557.62 L1339.00,557.65 L1340.00,557.68 L1341.00,557.71 L1342.00,557.74 L1343.00,557.77 L1344.00,557.80 L1345.00,557.83 L1346.00,557.86 L1347.00,557.88 L1348.00,557.91 L1349.00,557.93 L1350.00,557.96 L1351.00,557.98 L1352.00,558.00 L1353.00,558.02 L1354.00,558.04 L1355.00,558.06 L1356.00,558.08 L1357.00,558.10 L1358.00,558.12 L1359.00,558.14 L1360.00,558.15 L1361.00,558.17 L1362.00,558.19 L1363.00,558.21 L1364.00,558.23 L1365.00,558.25 L1366.00,558.26 L1367.00,558.28 L1368.00,558.30 L1369.00,558.32 L1370.00,558.33 L1371.00,558.35 L1372.00,558.36 L1373.00,558.38 L1374.00,558.39 L1375.00,558.41 L1376.00,558.42 L1377.00,558.44 L1378.00,558.45 L1379.00,558.46 L1380.00,558.48 L1381.00,558.49 L1382.00,558.50 L1383.00,558.51 L1384.00,558.52 L1385.00,558.53 L1386.00,558.54 L1387.00,558.55 L1388.00,558.56 L1389.00,558.57 L1390.00,558.57 L1391.00,558.58 L1392.00,558.59 L1393.00,558.59 L1394.00,558.60 L1395.00,558.60" fill="none" stroke="#0000ff" stroke-width="2.2" stroke-linejoin="round" stroke-linecap="butt" clip-path="url(#cb)"/>
<path d="M814.80,466.30 L815.80,466.22 L816.80,466.14 L817.80,466.06 L818.80,465.98 L819.80,465.89 L820.80,465.80 L821.80,465.72 L822.80,465.63 L823.80,465.54 L824.80,465.44 L825.80,465.35 L826.80,465.26 L827.80,465.16 L828.80,465.06 L829.80,464.96 L830.80,464.86 L831.80,464.76 L832.80,464.66 L833.80,464.55 L834.80,464.45 L835.80,464.34 L836.80,464.23 L837.80,464.12 L838.80,464.01 L839.80,463.90 L840.80,463.78 L841.80,463.67 L842.80,463.55 L843.80,463.43 L844.80,463.31 L845.80,463.19 L846.80,463.06 L847.80,462.94 L848.80,462.81 L849.80,462.68 L850.80,462.55 L851.80,462.42 L852.80,462.29 L853.80,462.15 L854.80,462.01 L855.80,461.88 L856.80,461.74 L857.80,461.60 L858.80,461.45 L859.80,461.31 L860.80,461.17 L861.80,461.02 L862.80,460.87 L863.80,460.72 L864.80,460.57 L865.80,460.41 L866.80,460.25 L867.80,460.09 L868.80,459.93 L869.80,459.76 L870.80,459.59 L871.80,459.42 L872.80,459.24 L873.80,459.06 L874.80,458.88 L875.80,458.69 L876.80,458.50 L877.80,458.30 L878.80,458.10 L879.80,457.89 L880.80,457.68 L881.80,457.46 L882.80,457.24 L883.80,457.01 L884.80,456.78 L885.80,456.54 L886.80,456.29 L887.80,456.05 L888.80,455.80 L889.80,455.54 L890.80,455.28 L891.80,455.02 L892.80,454.75 L893.80,454.48 L894.80,454.21 L895.80,453.93 L896.80,453.65 L897.80,453.37 L898.80,453.09 L899.80,452.80 L900.80,452.51 L901.80,452.22 L902.80,451.92 L903.80,451.62 L904.80,451.31 L905.80,451.00 L906.80,450.68 L907.80,450.36 L908.80,450.04 L909.80,449.71 L910.80,449.38 L911.80,449.04 L912.80,448.69 L913.80,448.34 L914.80,447.99 L915.80,447.63 L916.80,447.26 L917.80,446.89 L918.80,446.52 L919.80,446.14 L920.80,445.75 L921.80,445.36 L922.80,444.96 L923.80,444.56 L924.80,444.14 L925.80,443.73 L926.80,443.30 L927.80,442.87 L928.80,442.43 L929.80,441.98 L930.80,441.53 L931.80,441.06 L932.80,440.59 L933.80,440.12 L934.80,439.63 L935.80,439.14 L936.80,438.64 L937.80,438.13 L938.80,437.61 L939.80,437.09 L940.80,436.56 L941.80,436.02 L942.80,435.47 L943.80,434.91 L944.80,434.34 L945.80,433.77 L946.80,433.18 L947.80,432.58 L948.80,431.97 L949.80,431.35 L950.80,430.72 L951.80,430.08 L952.80,429.42 L953.80,428.76 L954.80,428.08 L955.80,427.39 L956.80,426.68 L957.80,425.97 L958.80,425.24 L959.80,424.50 L960.80,423.75 L961.80,422.98 L962.80,422.20 L963.80,421.41 L964.80,420.60 L965.80,419.79 L966.80,418.95 L967.80,418.10 L968.80,417.20 L969.80,416.27 L970.80,415.31 L971.80,414.31 L972.80,413.29 L973.80,412.25 L974.80,411.19 L975.80,410.12 L976.80,409.03 L977.80,407.95 L978.80,406.85 L979.80,405.74 L980.80,404.61 L981.80,403.46 L982.80,402.29 L983.80,401.11 L984.80,399.91 L985.80,398.70 L986.80,397.48 L987.80,396.24 L988.80,395.00 L989.80,393.75 L990.80,392.50 L991.80,391.25 L992.80,390.00 L993.80,388.74 L994.80,387.45 L995.80,386.14 L996.80,384.80 L997.80,383.42 L998.80,381.99 L999.80,380.50 L1000.80,378.95 L1001.80,377.31 L1002.80,375.59 L1003.80,373.81 L1004.80,371.98 L1005.80,370.11 L1006.80,368.23 L1007.80,366.33 L1008.80,364.44 L1009.80,362.57 L1010.80,360.73 L1011.80,358.90 L1012.80,356.98 L1013.80,354.99 L1014.80,352.96 L1015.80,350.93 L1016.80,348.93 L1017.80,346.99 L1018.80,345.14 L1019.80,343.43 L1020.80,341.87 L1021.80,340.51 L1028.70,334.50 L1036.20,335.40 L1041.40,325.40 L1047.00,324.00 L1052.60,320.00 L1056.60,315.10 L1060.60,319.20 L1066.20,321.40 L1076.30,344.30 L1085.30,364.50 L1094.30,383.60 L1104.40,395.90 L1112.20,392.50 L1119.00,385.80 L1123.50,372.70 L1128.50,367.70 L1132.80,347.50 L1135.00,322.20 L1137.00,280.00 L1138.70,245.00 L1141.20,280.00 L1143.70,330.60 L1145.40,364.30 L1147.00,400.00 L1148.10,426.90 L1152.60,459.50 L1158.20,466.90 L1166.10,462.80 L1175.10,456.10 L1187.40,438.60 L1191.90,435.50 L1195.00,437.20 L1200.00,441.50 L1204.00,446.70 L1205.00,447.76 L1206.00,448.74 L1207.00,449.67 L1208.00,450.55 L1209.00,451.40 L1210.00,452.23 L1211.00,453.06 L1212.00,453.90 L1213.00,454.76 L1214.00,455.66 L1215.00,456.60 L1216.00,457.63 L1217.00,458.76 L1218.00,459.96 L1219.00,461.21 L1220.00,462.48 L1221.00,463.73 L1222.00,464.95 L1223.00,466.09 L1224.00,467.14 L1225.00,468.07 L1226.00,468.84 L1227.00,469.46 L1228.00,470.02 L1229.00,470.54 L1230.00,471.03 L1231.00,471.48 L1232.00,471.91 L1233.00,472.30 L1234.00,472.68 L1235.00,473.05 L1236.00,473.39 L1237.00,473.73 L1238.00,474.07 L1239.00,474.40 L1240.00,474.73 L1241.00,475.06 L1242.00,475.37 L1243.00,475.68 L1244.00,475.97 L1245.00,476.25 L1246.00,476.53 L1247.00,476.80 L1248.00,477.07 L1249.00,477.34 L1250.00,477.60 L1251.00,477.87 L1252.00,478.15 L1253.00,478.42 L1254.00,478.69 L1255.00,478.96 L1256.00,479.23 L1257.00,479.50 L1258.00,479.76 L1259.00,480.01 L1260.00,480.26 L1261.00,480.50 L1262.00,480.73 L1263.00,480.95 L1264.00,481.17 L1265.00,481.38 L1266.00,481.59 L1267.00,481.79 L1268.00,481.98 L1269.00,482.18 L1270.00,482.37 L1271.00,482.55 L1272.00,482.73 L1273.00,482.91 L1274.00,483.09 L1275.00,483.26 L1276.00,483.44 L1277.00,483.60 L1278.00,483.77 L1279.00,483.94 L1280.00,484.10 L1281.00,484.25 L1282.00,484.41 L1283.00,484.56 L1284.00,484.70 L1285.00,484.84 L1286.00,484.98 L1287.00,485.11 L1288.00,485.24 L1289.00,485.36 L1290.00,485.49 L1291.00,485.61 L1292.00,485.73 L1293.00,485.84 L1294.00,485.96 L1295.00,486.08 L1296.00,486.20 L1297.00,486.32 L1298.00,486.44 L1299.00,486.56 L1300.00,486.68 L1301.00,486.80 L1302.00,486.92 L1303.00,487.04 L1304.00,487.15 L1305.00,487.27 L1306.00,487.37 L1307.00,487.48 L1308.00,487.58 L1309.00,487.68 L1310.00,487.78 L1311.00,487.88 L1312.00,487.98 L1313.00,488.07 L1314.00,488.17 L1315.00,488.26 L1316.00,488.35 L1317.00,488.44 L1318.00,488.53 L1319.00,488.62 L1320.00,488.71 L1321.00,488.80 L1322.00,488.88 L1323.00,488.97 L1324.00,489.05 L1325.00,489.13 L1326.00,489.21 L1327.00,489.29 L1328.00,489.37 L1329.00,489.45 L1330.00,489.53 L1331.00,489.61 L1332.00,489.69 L1333.00,489.77 L1334.00,489.85 L1335.00,489.93 L1336.00,490.02 L1337.00,490.10 L1338.00,490.18 L1339.00,490.26 L1340.00,490.35 L1341.00,490.43 L1342.00,490.51 L1343.00,490.59 L1344.00,490.67 L1345.00,490.74 L1346.00,490.82 L1347.00,490.90 L1348.00,490.97 L1349.00,491.04 L1350.00,491.11 L1351.00,491.18 L1352.00,491.25 L1353.00,491.31 L1354.00,491.37 L1355.00,491.43 L1356.00,491.49 L1357.00,491.54 L1358.00,491.59 L1359.00,491.64 L1360.00,491.68 L1361.00,491.72 L1362.00,491.76 L1363.00,491.79 L1364.00,491.82 L1365.00,491.85 L1366.00,491.88 L1367.00,491.91 L1368.00,491.94 L1369.00,491.96 L1370.00,491.99 L1371.00,492.02 L1372.00,492.04 L1373.00,492.07 L1374.00,492.10 L1375.00,492.12 L1376.00,492.14 L1377.00,492.17 L1378.00,492.19 L1379.00,492.21 L1380.00,492.23 L1381.00,492.25 L1382.00,492.27 L1383.00,492.29 L1384.00,492.30 L1385.00,492.32 L1386.00,492.33 L1387.00,492.35 L1388.00,492.36 L1389.00,492.37 L1390.00,492.38 L1391.00,492.39 L1392.00,492.39 L1393.00,492.40 L1394.00,492.40 L1395.00,492.40" fill="none" stroke="#008000" stroke-width="2.2" stroke-linejoin="round" stroke-linecap="butt" clip-path="url(#cb)"/>
<path d="M814.80,421.60 L815.80,421.50 L816.80,421.40 L817.80,421.29 L818.80,421.19 L819.80,421.09 L820.80,420.99 L821.80,420.88 L822.80,420.78 L823.80,420.68 L824.80,420.58 L825.80,420.47 L826.80,420.37 L827.80,420.27 L828.80,420.17 L829.80,420.07 L830.80,419.96 L831.80,419.86 L832.80,419.76 L833.80,419.66 L834.80,419.56 L835.80,419.46 L836.80,419.36 L837.80,419.26 L838.80,419.16 L839.80,419.06 L840.80,418.96 L841.80,418.86 L842.80,418.76 L843.80,418.66 L844.80,418.56 L845.80,418.46 L846.80,418.36 L847.80,418.25 L848.80,418.15 L849.80,418.05 L850.80,417.94 L851.80,417.84 L852.80,417.73 L853.80,417.62 L854.80,417.51 L855.80,417.40 L856.80,417.29 L857.80,417.18 L858.80,417.06 L859.80,416.95 L860.80,416.84 L861.80,416.72 L862.80,416.61 L863.80,416.49 L864.80,416.37 L865.80,416.26 L866.80,416.14 L867.80,416.02 L868.80,415.89 L869.80,415.77 L870.80,415.65 L871.80,415.52 L872.80,415.39 L873.80,415.26 L874.80,415.13 L875.80,415.00 L876.80,414.87 L877.80,414.73 L878.80,414.59 L879.80,414.45 L880.80,414.31 L881.80,414.16 L882.80,414.01 L883.80,413.86 L884.80,413.71 L885.80,413.56 L886.80,413.40 L887.80,413.25 L888.80,413.09 L889.80,412.93 L890.80,412.77 L891.80,412.61 L892.80,412.45 L893.80,412.28 L894.80,412.12 L895.80,411.96 L896.80,411.79 L897.80,411.63 L898.80,411.46 L899.80,411.30 L900.80,411.14 L901.80,410.98 L902.80,410.82 L903.80,410.66 L904.80,410.50 L905.80,410.34 L906.80,410.18 L907.80,410.01 L908.80,409.85 L909.80,409.68 L910.80,409.50 L911.80,409.32 L912.80,409.14 L913.80,408.94 L914.80,408.74 L915.80,408.54 L916.80,408.30 L917.80,408.04 L918.80,407.76 L919.80,407.48 L920.80,407.20 L921.80,406.92 L922.80,406.67 L923.80,406.44 L924.80,406.25 L925.80,406.08 L926.80,405.94 L927.80,405.80 L928.80,405.68 L929.80,405.56 L930.80,405.43 L931.80,405.29 L932.80,405.13 L933.80,404.94 L934.80,404.73 L935.80,404.49 L936.80,404.23 L937.80,403.95 L938.80,403.66 L939.80,403.35 L940.80,403.04 L941.80,402.72 L942.80,402.40 L943.80,402.08 L944.80,401.77 L945.80,401.46 L946.80,401.14 L947.80,400.81 L948.80,400.48 L949.80,400.15 L950.80,399.81 L951.80,399.47 L952.80,399.12 L953.80,398.76 L954.80,398.40 L955.80,398.04 L956.80,397.67 L957.80,397.29 L958.80,396.90 L959.80,396.51 L960.80,396.11 L961.80,395.71 L962.80,395.30 L963.80,394.89 L964.80,394.47 L965.80,394.05 L966.80,393.63 L967.80,393.20 L968.80,392.77 L969.80,392.34 L970.80,391.90 L971.80,391.46 L972.80,391.01 L973.80,390.55 L974.80,390.09 L975.80,389.62 L976.80,389.14 L977.80,388.65 L978.80,388.15 L979.80,387.64 L980.80,387.13 L981.80,386.61 L982.80,386.09 L983.80,385.55 L984.80,384.99 L985.80,384.43 L986.80,383.84 L987.80,383.24 L988.80,382.62 L989.80,381.97 L990.80,381.30 L991.80,380.60 L992.80,379.87 L993.80,379.12 L994.80,378.34 L995.80,377.54 L996.80,376.72 L997.80,375.88 L998.80,375.02 L999.80,374.14 L1000.80,373.24 L1001.80,372.31 L1002.80,371.35 L1003.80,370.36 L1004.80,369.35 L1005.80,368.31 L1006.80,367.24 L1007.80,366.14 L1008.80,365.01 L1009.80,363.86 L1010.80,362.68 L1011.80,361.47 L1012.80,360.24 L1013.80,358.97 L1014.80,357.66 L1015.80,356.33 L1016.80,354.95 L1017.80,353.54 L1018.80,352.08 L1019.80,350.59 L1020.80,349.05 L1021.80,347.47 L1022.80,345.83 L1023.80,344.06 L1024.80,342.18 L1025.80,340.21 L1026.80,338.21 L1027.80,336.21 L1028.80,334.24 L1029.80,332.36 L1030.80,330.57 L1031.80,328.83 L1032.80,327.11 L1033.80,325.43 L1034.80,323.76 L1035.80,322.10 L1036.80,320.45 L1037.80,318.79 L1038.80,317.11 L1039.80,315.42 L1040.80,313.70 L1041.80,311.96 L1042.80,310.24 L1043.80,308.54 L1044.80,306.84 L1045.80,305.10 L1046.80,303.30 L1047.80,301.43 L1048.80,299.46 L1049.80,297.37 L1050.80,295.12 L1051.80,292.72 L1052.80,290.19 L1053.80,287.56 L1054.80,284.85 L1055.80,282.10 L1056.80,279.32 L1057.80,276.46 L1058.80,273.49 L1059.80,270.44 L1060.80,267.35 L1061.80,264.24 L1062.80,261.13 L1063.80,257.88 L1064.80,254.58 L1065.80,251.38 L1066.80,248.40 L1067.80,245.73 L1068.80,243.22 L1069.80,240.88 L1070.80,238.71 L1071.80,236.70 L1072.80,234.66 L1073.80,232.74 L1074.80,231.20 L1075.80,230.26 L1076.80,229.61 L1077.80,229.05 L1078.80,228.62 L1079.80,228.36 L1080.80,228.32 L1081.80,228.64 L1082.80,229.27 L1083.80,230.14 L1084.80,231.14 L1085.80,232.19 L1086.80,233.30 L1087.80,234.69 L1088.80,236.30 L1089.80,238.06 L1090.80,239.88 L1091.80,241.70 L1092.80,243.56 L1093.80,245.52 L1094.80,247.56 L1095.80,249.63 L1096.80,251.69 L1097.80,253.70 L1098.80,255.70 L1099.80,257.70 L1100.80,259.70 L1101.80,261.70 L1102.80,263.74 L1103.80,265.79 L1104.80,267.80 L1105.80,269.70 L1106.80,271.54 L1107.80,273.36 L1108.80,275.05 L1109.80,276.53 L1114.50,281.50 L1118.40,287.60 L1123.50,291.00 L1128.90,302.80 L1134.10,293.50 L1137.00,305.30 L1139.50,322.20 L1142.00,355.90 L1143.70,381.20 L1148.40,388.80 L1153.00,382.90 L1158.90,380.30 L1165.60,381.20 L1172.80,384.70 L1181.80,384.70 L1190.80,391.40 L1195.00,395.10 L1196.00,395.94 L1197.00,396.78 L1198.00,397.61 L1199.00,398.44 L1200.00,399.26 L1201.00,400.07 L1202.00,400.86 L1203.00,401.64 L1204.00,402.40 L1205.00,403.14 L1206.00,403.86 L1207.00,404.58 L1208.00,405.33 L1209.00,406.09 L1210.00,406.85 L1211.00,407.57 L1212.00,408.23 L1213.00,408.81 L1214.00,409.29 L1215.00,409.65 L1216.00,409.90 L1217.00,410.14 L1218.00,410.36 L1219.00,410.54 L1220.00,410.68 L1221.00,410.77 L1222.00,410.80 L1223.00,410.79 L1224.00,410.76 L1225.00,410.71 L1226.00,410.65 L1227.00,410.59 L1228.00,410.51 L1229.00,410.42 L1230.00,410.33 L1231.00,410.24 L1232.00,410.15 L1233.00,410.06 L1234.00,409.98 L1235.00,409.90 L1236.00,409.83 L1237.00,409.78 L1238.00,409.73 L1239.00,409.71 L1240.00,409.70 L1241.00,409.71 L1242.00,409.72 L1243.00,409.75 L1244.00,409.78 L1245.00,409.83 L1246.00,409.88 L1247.00,409.93 L1248.00,410.00 L1249.00,410.07 L1250.00,410.14 L1251.00,410.22 L1252.00,410.30 L1253.00,410.39 L1254.00,410.47 L1255.00,410.56 L1256.00,410.65 L1257.00,410.74 L1258.00,410.83 L1259.00,410.92 L1260.00,411.01 L1261.00,411.09 L1262.00,411.18 L1263.00,411.26 L1264.00,411.34 L1265.00,411.42 L1266.00,411.51 L1267.00,411.60 L1268.00,411.70 L1269.00,411.79 L1270.00,411.89 L1271.00,411.99 L1272.00,412.09 L1273.00,412.19 L1274.00,412.29 L1275.00,412.40 L1276.00,412.50 L1277.00,412.61 L1278.00,412.72 L1279.00,412.83 L1280.00,412.93 L1281.00,413.04 L1282.00,413.15 L1283.00,413.26 L1284.00,413.37 L1285.00,413.48 L1286.00,413.59 L1287.00,413.69 L1288.00,413.80 L1289.00,413.90 L1290.00,414.01 L1291.00,414.11 L1292.00,414.21 L1293.00,414.31 L1294.00,414.41 L1295.00,414.51 L1296.00,414.60 L1297.00,414.69 L1298.00,414.79 L1299.00,414.88 L1300.00,414.97 L1301.00,415.06 L1302.00,415.16 L1303.00,415.25 L1304.00,415.34 L1305.00,415.43 L1306.00,415.52 L1307.00,415.61 L1308.00,415.70 L1309.00,415.79 L1310.00,415.88 L1311.00,415.97 L1312.00,416.06 L1313.00,416.15 L1314.00,416.23 L1315.00,416.32 L1316.00,416.41 L1317.00,416.49 L1318.00,416.58 L1319.00,416.66 L1320.00,416.74 L1321.00,416.83 L1322.00,416.91 L1323.00,416.99 L1324.00,417.07 L1325.00,417.15 L1326.00,417.23 L1327.00,417.30 L1328.00,417.38 L1329.00,417.46 L1330.00,417.53 L1331.00,417.60 L1332.00,417.68 L1333.00,417.75 L1334.00,417.83 L1335.00,417.90 L1336.00,417.97 L1337.00,418.05 L1338.00,418.12 L1339.00,418.19 L1340.00,418.26 L1341.00,418.33 L1342.00,418.41 L1343.00,418.48 L1344.00,418.55 L1345.00,418.61 L1346.00,418.68 L1347.00,418.75 L1348.00,418.82 L1349.00,418.88 L1350.00,418.95 L1351.00,419.01 L1352.00,419.07 L1353.00,419.14 L1354.00,419.20 L1355.00,419.26 L1356.00,419.31 L1357.00,419.37 L1358.00,419.43 L1359.00,419.48 L1360.00,419.53 L1361.00,419.59 L1362.00,419.64 L1363.00,419.69 L1364.00,419.73 L1365.00,419.78 L1366.00,419.83 L1367.00,419.87 L1368.00,419.92 L1369.00,419.96 L1370.00,420.01 L1371.00,420.05 L1372.00,420.10 L1373.00,420.14 L1374.00,420.18 L1375.00,420.22 L1376.00,420.26 L1377.00,420.30 L1378.00,420.34 L1379.00,420.38 L1380.00,420.42 L1381.00,420.46 L1382.00,420.50 L1383.00,420.53 L1384.00,420.57 L1385.00,420.60 L1386.00,420.63 L1387.00,420.67 L1388.00,420.70 L1389.00,420.73 L1390.00,420.76 L1391.00,420.79 L1392.00,420.82 L1393.00,420.84 L1394.00,420.87 L1395.00,420.89" fill="none" stroke="#ff0000" stroke-width="2.2" stroke-linejoin="round" stroke-linecap="butt" clip-path="url(#cb)"/>
<path d="M814.80,364.60 L824.00,362.80 L829.00,363.50 L833.90,365.30 L843.80,362.80 L861.40,360.50 L879.10,359.50 L886.20,358.60 L891.80,356.10 L896.70,354.90 L901.30,356.00 L906.30,351.50 L922.20,349.80 L935.70,347.50 L949.20,345.30 L958.10,345.30 L964.90,341.20 L974.00,337.50 L979.60,334.20 L983.80,334.20 L990.90,329.80 L1002.10,322.00 L1013.30,312.20 L1021.70,301.70 L1022.70,300.26 L1023.70,298.77 L1024.70,297.22 L1025.70,295.62 L1026.70,293.97 L1027.70,292.26 L1028.70,290.50 L1029.70,288.71 L1030.70,286.88 L1031.70,284.96 L1032.70,282.92 L1033.70,280.72 L1034.70,278.28 L1035.70,275.43 L1036.70,272.30 L1037.70,269.09 L1038.70,266.00 L1039.70,262.92 L1040.70,259.84 L1041.70,256.83 L1042.70,254.00 L1043.70,251.37 L1044.70,248.89 L1045.70,246.48 L1046.70,244.11 L1047.70,241.72 L1048.70,239.26 L1049.70,236.88 L1050.70,234.34 L1051.70,231.34 L1052.70,227.90 L1053.70,224.12 L1054.70,220.11 L1055.70,215.98 L1056.70,211.82 L1057.70,207.75 L1058.70,203.85 L1059.70,200.09 L1060.70,196.37 L1061.70,192.63 L1062.70,188.81 L1063.70,184.83 L1064.70,180.65 L1065.70,176.28 L1066.70,171.76 L1067.70,167.15 L1068.70,162.50 L1075.30,131.00 L1080.90,120.20 L1085.80,120.20 L1086.80,120.84 L1087.80,122.51 L1088.80,124.82 L1089.80,127.39 L1090.80,129.83 L1091.80,132.34 L1092.80,135.13 L1093.80,138.10 L1094.80,141.17 L1095.80,144.21 L1096.80,147.17 L1097.80,150.15 L1098.80,153.15 L1099.80,156.16 L1100.80,159.18 L1101.80,162.20 L1102.80,165.26 L1103.80,168.41 L1104.80,171.56 L1105.80,174.63 L1106.80,177.52 L1107.80,180.17 L1108.80,182.61 L1109.80,184.80 L1115.10,193.60 L1123.50,201.20 L1128.90,211.30 L1133.90,184.80 L1137.80,218.90 L1140.40,242.50 L1142.90,280.00 L1144.80,290.40 L1148.50,313.80 L1153.80,320.50 L1160.60,327.20 L1172.80,339.80 L1184.10,345.40 L1195.00,349.50 L1208.50,356.90 L1209.50,357.54 L1210.50,358.23 L1211.50,358.97 L1212.50,359.75 L1213.50,360.53 L1214.50,361.33 L1215.50,362.10 L1216.50,362.86 L1217.50,363.57 L1218.50,364.24 L1219.50,364.83 L1220.50,365.34 L1221.50,365.76 L1222.50,366.09 L1223.50,366.41 L1224.50,366.72 L1225.50,367.02 L1226.50,367.29 L1227.50,367.54 L1228.50,367.75 L1229.50,367.91 L1230.50,368.03 L1231.50,368.09 L1232.50,368.08 L1233.50,367.96 L1234.50,367.73 L1235.50,367.44 L1236.50,367.09 L1237.50,366.72 L1238.50,366.36 L1239.50,366.02 L1240.50,365.72 L1241.50,365.41 L1242.50,365.09 L1243.50,364.76 L1244.50,364.42 L1245.50,364.07 L1246.50,363.74 L1247.50,363.41 L1248.50,363.09 L1249.50,362.79 L1250.50,362.52 L1251.50,362.27 L1252.50,362.05 L1253.50,361.87 L1254.50,361.70 L1255.50,361.54 L1256.50,361.38 L1257.50,361.24 L1258.50,361.09 L1259.50,360.96 L1260.50,360.84 L1261.50,360.72 L1262.50,360.62 L1263.50,360.52 L1264.50,360.44 L1265.50,360.37 L1266.50,360.31 L1267.50,360.27 L1268.50,360.22 L1269.50,360.18 L1270.50,360.14 L1271.50,360.10 L1272.50,360.06 L1273.50,360.02 L1274.50,359.99 L1275.50,359.95 L1276.50,359.92 L1277.50,359.90 L1278.50,359.87 L1279.50,359.85 L1280.50,359.83 L1281.50,359.82 L1282.50,359.81 L1283.50,359.80 L1284.50,359.80 L1285.50,359.80 L1286.50,359.80 L1287.50,359.80 L1288.50,359.81 L1289.50,359.81 L1290.50,359.81 L1291.50,359.82 L1292.50,359.82 L1293.50,359.83 L1294.50,359.84 L1295.50,359.84 L1296.50,359.85 L1297.50,359.86 L1298.50,359.87 L1299.50,359.88 L1300.50,359.89 L1301.50,359.90 L1302.50,359.91 L1303.50,359.92 L1304.50,359.93 L1305.50,359.95 L1306.50,359.96 L1307.50,359.97 L1308.50,359.98 L1309.50,360.00 L1310.50,360.01 L1311.50,360.03 L1312.50,360.04 L1313.50,360.05 L1314.50,360.07 L1315.50,360.08 L1316.50,360.10 L1317.50,360.11 L1318.50,360.13 L1319.50,360.14 L1320.50,360.16 L1321.50,360.18 L1322.50,360.19 L1323.50,360.21 L1324.50,360.22 L1325.50,360.24 L1326.50,360.25 L1327.50,360.27 L1328.50,360.28 L1329.50,360.30 L1330.50,360.31 L1331.50,360.33 L1332.50,360.34 L1333.50,360.36 L1334.50,360.38 L1335.50,360.39 L1336.50,360.41 L1337.50,360.43 L1338.50,360.45 L1339.50,360.46 L1340.50,360.48 L1341.50,360.50 L1342.50,360.52 L1343.50,360.54 L1344.50,360.56 L1345.50,360.58 L1346.50,360.60 L1347.50,360.62 L1348.50,360.64 L1349.50,360.66 L1350.50,360.68 L1351.50,360.70 L1352.50,360.73 L1353.50,360.75 L1354.50,360.77 L1355.50,360.79 L1356.50,360.82 L1357.50,360.84 L1358.50,360.86 L1359.50,360.89 L1360.50,360.91 L1361.50,360.93 L1362.50,360.96 L1363.50,360.98 L1364.50,361.01 L1365.50,361.03 L1366.50,361.06 L1367.50,361.09 L1368.50,361.11 L1369.50,361.14 L1370.50,361.17 L1371.50,361.19 L1372.50,361.22 L1373.50,361.25 L1374.50,361.27 L1375.50,361.30 L1376.50,361.33 L1377.50,361.36 L1378.50,361.39 L1379.50,361.42 L1380.50,361.45 L1381.50,361.47 L1382.50,361.50 L1383.50,361.53 L1384.50,361.56 L1385.50,361.59 L1386.50,361.62 L1387.50,361.65 L1388.50,361.69 L1389.50,361.72 L1390.50,361.75 L1391.50,361.78 L1392.50,361.81 L1393.50,361.84 L1394.50,361.87" fill="none" stroke="#00bfbf" stroke-width="2.2" stroke-linejoin="round" stroke-linecap="butt" clip-path="url(#cb)"/>
<path d="M818.50,620.20 L821.20,619.10 L834.70,615.20 L848.20,611.70 L861.50,607.90 L875.10,603.00 L887.40,598.30 L899.80,592.70 L912.80,587.30 L925.60,580.60 L937.90,573.80 L949.60,566.40 L961.50,559.70 L973.20,551.80 L984.00,543.50 L995.20,535.00 L1004.50,526.80 L1014.60,516.30 L1024.70,506.20 L1033.70,496.10 L1042.60,484.80 L1049.80,473.00 L1057.20,460.60 L1063.50,447.80 L1068.50,435.20 L1073.00,422.40 L1077.40,409.00 L1080.40,395.50 L1083.50,381.30 L1086.40,367.80 L1088.70,354.40 L1090.50,340.90 L1092.00,326.30 L1093.80,312.80 L1095.40,298.30 L1096.80,284.80 L1097.70,271.30 L1098.60,257.60 L1099.50,243.60 L1100.60,229.40 L1101.40,215.70 L1101.90,202.00 L1102.50,188.00 L1103.20,174.10 L1103.70,160.10 L1104.60,146.00 L1104.90,132.40 L1105.30,118.00 L1105.60,104.80 L1106.00,90.80 L1106.30,76.80 L1106.80,62.70 L1107.20,49.00 L1107.50,35.00 L1107.80,22.00" fill="none" stroke="#000" stroke-width="5.3" stroke-linejoin="round" stroke-linecap="butt" stroke-dasharray="5.3 8.62" stroke-dashoffset="-0.2" clip-path="url(#cb)"/>
<path d="M1139.60,631.40 L1141.00,628.20 L1145.40,616.00 L1149.20,602.60 L1153.20,589.50 L1157.20,575.80 L1161.00,562.40 L1165.30,549.50 L1170.80,536.30 L1176.20,523.50 L1182.30,510.70 L1188.50,498.30 L1195.10,485.60 L1204.00,473.60 L1210.50,463.00 L1217.40,452.30 L1226.40,439.90 L1235.40,428.70 L1243.20,417.50 L1252.20,407.40 L1260.10,396.20 L1269.00,385.00 L1278.00,374.40 L1286.50,363.70 L1295.50,352.40 L1304.00,341.60 L1312.50,331.20 L1321.10,320.10 L1329.60,308.90 L1338.10,298.40 L1346.40,287.20 L1354.70,275.90 L1363.30,265.20 L1372.30,253.90 L1380.10,242.70 L1389.10,231.10 L1396.00,222.00" fill="none" stroke="#000" stroke-width="5.3" stroke-linejoin="round" stroke-linecap="butt" stroke-dasharray="5.3 8.62" stroke-dashoffset="-0.2" clip-path="url(#cb)"/>
<line x1="1138.7" y1="631.2" x2="1138.7" y2="29.8" stroke="#000" stroke-width="2.1" stroke-dasharray="7.84 3.42"/>
<rect x="814.8" y="29.8" width="580.5" height="601.4000000000001" fill="none" stroke="#111" stroke-width="2"/>
<text x="767.82" y="641.91" font-size="28.95" textLength="41.76" lengthAdjust="spacingAndGlyphs" fill="#151515">0.0</text>
<line x1="814.8" y1="564.36" x2="819.8" y2="564.36" stroke="#000" stroke-width="1.3"/>
<text x="767.81" y="575.07" font-size="28.95" textLength="42.12" lengthAdjust="spacingAndGlyphs" fill="#151515">0.2</text>
<line x1="814.8" y1="497.52" x2="819.8" y2="497.52" stroke="#000" stroke-width="1.3"/>
<text x="767.83" y="508.23" font-size="28.95" textLength="41.45" lengthAdjust="spacingAndGlyphs" fill="#151515">0.4</text>
<line x1="814.8" y1="430.68" x2="819.8" y2="430.68" stroke="#000" stroke-width="1.3"/>
<text x="767.81" y="441.39" font-size="28.95" textLength="41.92" lengthAdjust="spacingAndGlyphs" fill="#151515">0.6</text>
<line x1="814.8" y1="363.84" x2="819.8" y2="363.84" stroke="#000" stroke-width="1.3"/>
<text x="767.82" y="374.55" font-size="28.95" textLength="41.89" lengthAdjust="spacingAndGlyphs" fill="#151515">0.8</text>
<line x1="814.8" y1="297.00" x2="819.8" y2="297.00" stroke="#000" stroke-width="1.3"/>
<text x="766.84" y="307.71" font-size="28.95" textLength="43.18" lengthAdjust="spacingAndGlyphs" fill="#151515">1.0</text>
<line x1="814.8" y1="230.16" x2="819.8" y2="230.16" stroke="#000" stroke-width="1.3"/>
<text x="766.82" y="240.87" font-size="28.95" textLength="43.55" lengthAdjust="spacingAndGlyphs" fill="#151515">1.2</text>
<line x1="814.8" y1="163.32" x2="819.8" y2="163.32" stroke="#000" stroke-width="1.3"/>
<text x="766.85" y="174.03" font-size="28.95" textLength="42.84" lengthAdjust="spacingAndGlyphs" fill="#151515">1.4</text>
<line x1="814.8" y1="96.48" x2="819.8" y2="96.48" stroke="#000" stroke-width="1.3"/>
<text x="766.83" y="107.19" font-size="28.95" textLength="43.35" lengthAdjust="spacingAndGlyphs" fill="#151515">1.6</text>
<text x="766.83" y="40.35" font-size="28.95" textLength="43.31" lengthAdjust="spacingAndGlyphs" fill="#151515">1.8</text>
<text x="805.46" y="655.53" font-size="27.40" textLength="17.07" lengthAdjust="spacingAndGlyphs" fill="#151515">2</text>
<line x1="911.55" y1="631.2" x2="911.55" y2="626.2" stroke="#000" stroke-width="1.3"/>
<text x="902.86" y="655.53" font-size="27.40" textLength="15.45" lengthAdjust="spacingAndGlyphs" fill="#151515">4</text>
<line x1="1008.30" y1="631.2" x2="1008.30" y2="626.2" stroke="#000" stroke-width="1.3"/>
<text x="998.45" y="655.53" font-size="27.40" textLength="16.89" lengthAdjust="spacingAndGlyphs" fill="#151515">6</text>
<line x1="1105.05" y1="631.2" x2="1105.05" y2="626.2" stroke="#000" stroke-width="1.3"/>
<text x="1096.22" y="655.53" font-size="27.40" textLength="16.57" lengthAdjust="spacingAndGlyphs" fill="#151515">8</text>
<line x1="1201.80" y1="631.2" x2="1201.80" y2="626.2" stroke="#000" stroke-width="1.3"/>
<text x="1184.93" y="655.53" font-size="27.40" textLength="33.26" lengthAdjust="spacingAndGlyphs" fill="#151515">10</text>
<line x1="1298.55" y1="631.2" x2="1298.55" y2="626.2" stroke="#000" stroke-width="1.3"/>
<text x="1281.32" y="655.53" font-size="27.40" textLength="34.75" lengthAdjust="spacingAndGlyphs" fill="#151515">12</text>
<text x="1377.87" y="655.53" font-size="27.40" textLength="34.03" lengthAdjust="spacingAndGlyphs" fill="#151515">14</text>
<text x="6.89" y="55.13" font-size="50.11" textLength="14.59" lengthAdjust="spacingAndGlyphs" fill="#151515">(</text>
<text x="21.31" y="58.57" font-size="52.92" textLength="24.90" lengthAdjust="spacingAndGlyphs" fill="#151515">a</text>
<text x="49.68" y="55.13" font-size="50.11" textLength="15.91" lengthAdjust="spacingAndGlyphs" fill="#151515">)</text>
<text x="686.88" y="55.13" font-size="50.11" textLength="14.58" lengthAdjust="spacingAndGlyphs" fill="#151515">(</text>
<text x="702.24" y="58.54" font-size="55.51" textLength="32.21" lengthAdjust="spacingAndGlyphs" fill="#151515">b</text>
<text x="734.47" y="55.13" font-size="50.11" textLength="15.91" lengthAdjust="spacingAndGlyphs" fill="#151515">)</text>
<text x="251.80" y="699.90" font-size="34.45" textLength="255.85" lengthAdjust="spacingAndGlyphs" fill="#151515">Time Delay (ps)</text>
<text x="986.70" y="689.30" font-size="32.56" textLength="237.32" lengthAdjust="spacingAndGlyphs" fill="#151515">Frequency(THz)</text>
<text x="237.37" y="100.20" font-size="26.21" textLength="15.44" lengthAdjust="spacingAndGlyphs" fill="#151515">n</text>
<rect x="260.00" y="91.75" width="15.30" height="1.8" fill="#151515"/>
<text x="282.69" y="99.95" font-size="25.14" textLength="72.66" lengthAdjust="spacingAndGlyphs" fill="#151515">GaAs,</text>
<text x="359.20" y="100.20" font-size="26.77" textLength="15.19" lengthAdjust="spacingAndGlyphs" fill="#151515">n</text>
<text x="374.38" y="103.73" font-size="17.01" textLength="43.29" lengthAdjust="spacingAndGlyphs" fill="#151515">dope</text>
<text x="423.30" y="100.20" font-size="25.00" textLength="7.56" lengthAdjust="spacingAndGlyphs" fill="#151515">:</text>
<text x="436.65" y="100.15" font-size="24.58" textLength="13.85" lengthAdjust="spacingAndGlyphs" fill="#151515">3</text>
<text x="457.39" y="102.01" font-size="29.21" textLength="18.40" lengthAdjust="spacingAndGlyphs" fill="#151515">×</text>
<text x="481.02" y="100.15" font-size="25.42" textLength="29.01" lengthAdjust="spacingAndGlyphs" fill="#151515">10</text>
<text x="512.50" y="90.90" font-size="18.02" textLength="21.89" lengthAdjust="spacingAndGlyphs" fill="#151515">17</text>
<text x="534.79" y="99.96" font-size="24.09" textLength="38.30" lengthAdjust="spacingAndGlyphs" fill="#151515">cm</text>
<rect x="574.50" y="85.70" width="9.00" height="1.4" fill="#151515"/>
<text x="586.15" y="90.74" font-size="15.96" textLength="12.01" lengthAdjust="spacingAndGlyphs" fill="#151515">3</text>
<text x="839.82" y="69.00" font-size="27.88" textLength="14.93" lengthAdjust="spacingAndGlyphs" fill="#151515">n</text>
<text x="855.77" y="73.31" font-size="18.50" textLength="43.50" lengthAdjust="spacingAndGlyphs" fill="#151515">dope</text>
<text x="903.97" y="69.00" font-size="26.52" textLength="10.45" lengthAdjust="spacingAndGlyphs" fill="#151515">:</text>
<text x="918.81" y="68.94" font-size="25.71" textLength="14.56" lengthAdjust="spacingAndGlyphs" fill="#151515">3</text>
<text x="940.36" y="71.24" font-size="30.34" textLength="18.64" lengthAdjust="spacingAndGlyphs" fill="#151515">×</text>
<text x="965.02" y="68.94" font-size="26.13" textLength="31.70" lengthAdjust="spacingAndGlyphs" fill="#151515">10</text>
<text x="998.19" y="59.50" font-size="18.17" textLength="20.54" lengthAdjust="spacingAndGlyphs" fill="#151515">17</text>
<text x="1020.60" y="68.74" font-size="25.55" textLength="38.09" lengthAdjust="spacingAndGlyphs" fill="#151515">cm</text>
<rect x="1061.40" y="53.70" width="10.20" height="1.4" fill="#151515"/>
<text x="1074.28" y="59.82" font-size="17.51" textLength="10.56" lengthAdjust="spacingAndGlyphs" fill="#151515">3</text>
<text x="452.17" y="156.50" font-size="22.12" textLength="13.40" lengthAdjust="spacingAndGlyphs" fill="#151515">n</text>
<text x="465.67" y="159.40" font-size="15.15" font-style="italic" textLength="24.10" lengthAdjust="spacingAndGlyphs" fill="#151515">exc</text>
<text x="491.27" y="154.64" font-size="19.64" textLength="6.94" lengthAdjust="spacingAndGlyphs" fill="#151515">(</text>
<text x="499.02" y="156.29" font-size="20.99" textLength="31.12" lengthAdjust="spacingAndGlyphs" fill="#151515">cm</text>
<rect x="532.60" y="143.05" width="6.40" height="1.3" fill="#151515"/>
<text x="542.53" y="148.67" font-size="13.14" textLength="9.04" lengthAdjust="spacingAndGlyphs" fill="#151515">3</text>
<text x="553.48" y="154.64" font-size="19.64" textLength="6.54" lengthAdjust="spacingAndGlyphs" fill="#151515">)</text>
<text x="829.29" y="296.90" font-size="22.12" textLength="12.72" lengthAdjust="spacingAndGlyphs" fill="#151515">n</text>
<text x="842.28" y="299.80" font-size="15.15" font-style="italic" textLength="25.42" lengthAdjust="spacingAndGlyphs" fill="#151515">exc</text>
<text x="869.57" y="295.04" font-size="19.64" textLength="5.86" lengthAdjust="spacingAndGlyphs" fill="#151515">(</text>
<text x="876.42" y="296.69" font-size="20.99" textLength="32.83" lengthAdjust="spacingAndGlyphs" fill="#151515">cm</text>
<rect x="911.21" y="283.45" width="6.57" height="1.3" fill="#151515"/>
<text x="921.46" y="289.07" font-size="13.14" textLength="8.17" lengthAdjust="spacingAndGlyphs" fill="#151515">3</text>
<text x="932.84" y="295.04" font-size="19.64" textLength="6.89" lengthAdjust="spacingAndGlyphs" fill="#151515">)</text>
<text x="453.25" y="205.69" font-size="21.33" textLength="43.95" lengthAdjust="spacingAndGlyphs" fill="#151515">7.63</text>
<text x="503.13" y="207.59" font-size="25.39" textLength="13.92" lengthAdjust="spacingAndGlyphs" fill="#151515">×</text>
<text x="523.32" y="205.69" font-size="21.33" textLength="24.54" lengthAdjust="spacingAndGlyphs" fill="#151515">10</text>
<text x="549.46" y="198.00" font-size="14.83" textLength="16.70" lengthAdjust="spacingAndGlyphs" fill="#151515">17</text>
<text x="452.90" y="310.89" font-size="21.33" textLength="43.83" lengthAdjust="spacingAndGlyphs" fill="#151515">5.72</text>
<text x="502.33" y="312.79" font-size="25.39" textLength="15.31" lengthAdjust="spacingAndGlyphs" fill="#151515">×</text>
<text x="522.72" y="310.89" font-size="21.33" textLength="24.54" lengthAdjust="spacingAndGlyphs" fill="#151515">10</text>
<text x="549.86" y="303.20" font-size="14.83" textLength="16.70" lengthAdjust="spacingAndGlyphs" fill="#151515">17</text>
<text x="452.91" y="415.89" font-size="21.33" textLength="44.85" lengthAdjust="spacingAndGlyphs" fill="#151515">3.82</text>
<text x="502.33" y="417.79" font-size="25.39" textLength="15.31" lengthAdjust="spacingAndGlyphs" fill="#151515">×</text>
<text x="522.72" y="415.89" font-size="21.33" textLength="24.54" lengthAdjust="spacingAndGlyphs" fill="#151515">10</text>
<text x="549.86" y="408.20" font-size="14.83" textLength="16.70" lengthAdjust="spacingAndGlyphs" fill="#151515">17</text>
<text x="452.66" y="526.39" font-size="21.33" textLength="44.68" lengthAdjust="spacingAndGlyphs" fill="#151515">1.91</text>
<text x="503.13" y="528.29" font-size="25.39" textLength="13.92" lengthAdjust="spacingAndGlyphs" fill="#151515">×</text>
<text x="523.32" y="526.39" font-size="21.33" textLength="24.54" lengthAdjust="spacingAndGlyphs" fill="#151515">10</text>
<text x="549.46" y="518.70" font-size="14.83" textLength="16.70" lengthAdjust="spacingAndGlyphs" fill="#151515">17</text>
<text x="829.21" y="346.78" font-size="21.97" textLength="45.54" lengthAdjust="spacingAndGlyphs" fill="#151515">7.63</text>
<text x="879.80" y="348.74" font-size="26.16" textLength="16.24" lengthAdjust="spacingAndGlyphs" fill="#151515">×</text>
<text x="901.51" y="346.78" font-size="21.97" textLength="24.91" lengthAdjust="spacingAndGlyphs" fill="#151515">10</text>
<text x="928.15" y="338.86" font-size="15.27" textLength="17.71" lengthAdjust="spacingAndGlyphs" fill="#151515">17</text>
<text x="828.42" y="396.88" font-size="21.97" textLength="46.50" lengthAdjust="spacingAndGlyphs" fill="#151515">5.72</text>
<text x="880.04" y="398.84" font-size="26.16" textLength="14.76" lengthAdjust="spacingAndGlyphs" fill="#151515">×</text>
<text x="901.51" y="396.88" font-size="21.97" textLength="24.91" lengthAdjust="spacingAndGlyphs" fill="#151515">10</text>
<text x="928.22" y="388.96" font-size="15.27" textLength="16.61" lengthAdjust="spacingAndGlyphs" fill="#151515">17</text>
<text x="829.51" y="440.88" font-size="21.97" textLength="45.37" lengthAdjust="spacingAndGlyphs" fill="#151515">3.82</text>
<text x="880.04" y="442.84" font-size="26.16" textLength="14.76" lengthAdjust="spacingAndGlyphs" fill="#151515">×</text>
<text x="901.51" y="440.88" font-size="21.97" textLength="24.91" lengthAdjust="spacingAndGlyphs" fill="#151515">10</text>
<text x="928.22" y="432.96" font-size="15.27" textLength="16.61" lengthAdjust="spacingAndGlyphs" fill="#151515">17</text>
<text x="828.99" y="530.38" font-size="21.97" textLength="46.29" lengthAdjust="spacingAndGlyphs" fill="#151515">1.91</text>
<text x="880.22" y="532.34" font-size="26.16" textLength="16.24" lengthAdjust="spacingAndGlyphs" fill="#151515">×</text>
<text x="901.91" y="530.38" font-size="21.97" textLength="24.91" lengthAdjust="spacingAndGlyphs" fill="#151515">10</text>
<text x="928.55" y="522.46" font-size="15.27" textLength="17.71" lengthAdjust="spacingAndGlyphs" fill="#151515">17</text>
<text x="1091.07" y="23.00" font-size="25.15" textLength="28.78" lengthAdjust="spacingAndGlyphs" fill="#151515">LB</text>
<text x="1129.74" y="23.00" font-size="25.15" textLength="30.36" lengthAdjust="spacingAndGlyphs" fill="#151515">LO</text>
<text x="1346.53" y="223.70" font-size="24.56" textLength="33.57" lengthAdjust="spacingAndGlyphs" fill="#151515">UB</text>
<text transform="translate(34.20,434.30) rotate(-90)" x="-1.02" y="0.00" font-size="34.16" textLength="22.63" lengthAdjust="spacingAndGlyphs" fill="#151515">Δ</text>
<text transform="translate(34.20,434.30) rotate(-90)" x="22.52" y="0.00" font-size="34.16" font-style="italic" textLength="20.38" lengthAdjust="spacingAndGlyphs" fill="#151515">R</text>
<text transform="translate(34.20,434.30) rotate(-90)" x="42.76" y="1.62" font-size="37.82" textLength="12.65" lengthAdjust="spacingAndGlyphs" fill="#151515">/</text>
<text transform="translate(34.20,434.30) rotate(-90)" x="54.98" y="0.00" font-size="34.16" font-style="italic" textLength="23.85" lengthAdjust="spacingAndGlyphs" fill="#151515">R</text>
<text transform="translate(34.20,434.30) rotate(-90)" x="79.90" y="5.94" font-size="26.13" textLength="12.80" lengthAdjust="spacingAndGlyphs" fill="#151515">0</text>
<text transform="translate(34.20,434.30) rotate(-90)" x="93.59" y="-2.05" font-size="31.51" textLength="10.08" lengthAdjust="spacingAndGlyphs" fill="#151515">[</text>
<text transform="translate(34.20,434.30) rotate(-90)" x="107.92" y="0.30" font-size="35.47" textLength="18.09" lengthAdjust="spacingAndGlyphs" fill="#151515">1</text>
<text transform="translate(34.20,434.30) rotate(-90)" x="127.48" y="0.15" font-size="34.75" textLength="18.63" lengthAdjust="spacingAndGlyphs" fill="#151515">0</text>
<rect x="14.00" y="269.90" width="1.8" height="13.90" fill="#151515"/>
<text transform="translate(34.20,434.30) rotate(-90)" x="167.23" y="-12.10" font-size="23.84" textLength="12.72" lengthAdjust="spacingAndGlyphs" fill="#151515">7</text>
<text transform="translate(34.20,434.30) rotate(-90)" x="185.32" y="-2.32" font-size="31.83" textLength="9.50" lengthAdjust="spacingAndGlyphs" fill="#151515">]</text>
<text transform="translate(753.20,452.50) rotate(-90)" x="-3.60" y="-0.79" font-size="35.04" textLength="145.89" lengthAdjust="spacingAndGlyphs" fill="#151515">Intensity</text>
<text transform="translate(753.20,452.50) rotate(-90)" x="143.37" y="-2.32" font-size="32.80" textLength="9.50" lengthAdjust="spacingAndGlyphs" fill="#151515">[</text>
<text transform="translate(753.20,452.50) rotate(-90)" x="157.70" y="-0.10" font-size="35.76" textLength="18.32" lengthAdjust="spacingAndGlyphs" fill="#151515">1</text>
<text transform="translate(753.20,452.50) rotate(-90)" x="178.89" y="0.03" font-size="36.72" textLength="18.63" lengthAdjust="spacingAndGlyphs" fill="#151515">0</text>
<rect x="731.60" y="236.50" width="1.8" height="14.00" fill="#151515"/>
<text transform="translate(753.20,452.50) rotate(-90)" x="219.22" y="-13.00" font-size="25.07" textLength="12.98" lengthAdjust="spacingAndGlyphs" fill="#151515">2</text>
<text transform="translate(753.20,452.50) rotate(-90)" x="237.72" y="-2.83" font-size="32.37" textLength="9.77" lengthAdjust="spacingAndGlyphs" fill="#151515">]</text>
</svg>
</body></html>
